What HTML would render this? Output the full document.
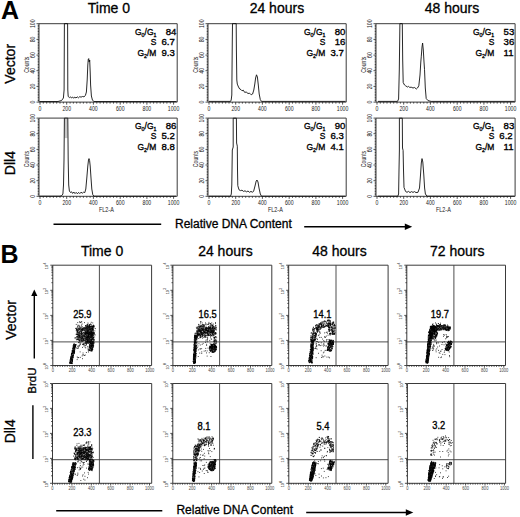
<!DOCTYPE html>
<html><head><meta charset="utf-8"><style>html,body{margin:0;padding:0;background:#fff;}svg{display:block;}</style></head>
<body><svg width="520" height="517" viewBox="0 0 520 517">
<rect width="520" height="517" fill="#fff"/>
<text x="1.0" y="18.8" font-family="Liberation Sans" font-weight="bold" font-size="25">A</text>
<text x="108.9" y="13.4" font-family="Liberation Sans" font-size="14" text-anchor="middle" stroke="#000" stroke-width="0.3">Time 0</text>
<text x="276.9" y="13.4" font-family="Liberation Sans" font-size="14" text-anchor="middle" stroke="#000" stroke-width="0.3">24 hours</text>
<text x="452.0" y="13.4" font-family="Liberation Sans" font-size="14" text-anchor="middle" stroke="#000" stroke-width="0.3">48 hours</text>
<text transform="translate(14.9,63.8) rotate(-90)" x="0" y="0" font-family="Liberation Sans" font-size="14" text-anchor="middle" stroke="#000" stroke-width="0.3">Vector</text>
<text transform="translate(14.9,163.1) rotate(-90)" x="0" y="0" font-family="Liberation Sans" font-size="14" text-anchor="middle" stroke="#000" stroke-width="0.3">Dll4</text>
<path d="M39.0 23.7H177.2V102.1H39.0Z" fill="none" stroke="#3a3a3a" stroke-width="1"/>
<path d="M36.5 102.1H39.0M37.7 100.5H39.0M37.7 99.0H39.0M37.7 97.4H39.0M37.7 95.8H39.0M37.7 94.3H39.0M37.7 92.7H39.0M37.7 91.1H39.0M37.7 89.6H39.0M37.7 88.0H39.0M36.5 86.4H39.0M37.7 84.9H39.0M37.7 83.3H39.0M37.7 81.7H39.0M37.7 80.1H39.0M37.7 78.6H39.0M37.7 77.0H39.0M37.7 75.4H39.0M37.7 73.9H39.0M37.7 72.3H39.0M36.5 70.7H39.0M37.7 69.2H39.0M37.7 67.6H39.0M37.7 66.0H39.0M37.7 64.5H39.0M37.7 62.9H39.0M37.7 61.3H39.0M37.7 59.8H39.0M37.7 58.2H39.0M37.7 56.6H39.0M36.5 55.1H39.0M37.7 53.5H39.0M37.7 51.9H39.0M37.7 50.4H39.0M37.7 48.8H39.0M37.7 47.2H39.0M37.7 45.7H39.0M37.7 44.1H39.0M37.7 42.5H39.0M37.7 40.9H39.0M36.5 39.4H39.0M37.7 37.8H39.0M37.7 36.2H39.0M37.7 34.7H39.0M37.7 33.1H39.0M37.7 31.5H39.0M37.7 30.0H39.0M37.7 28.4H39.0M37.7 26.8H39.0M37.7 25.3H39.0M36.5 23.7H39.0M40.0 102.1V104.6M43.3 102.1V103.6M46.7 102.1V103.6M50.0 102.1V103.6M53.4 102.1V103.6M56.7 102.1V103.6M60.0 102.1V103.6M63.4 102.1V103.6M66.7 102.1V104.6M70.1 102.1V103.6M73.4 102.1V103.6M76.7 102.1V103.6M80.1 102.1V103.6M83.4 102.1V103.6M86.8 102.1V103.6M90.1 102.1V103.6M93.4 102.1V104.6M96.8 102.1V103.6M100.1 102.1V103.6M103.5 102.1V103.6M106.8 102.1V103.6M110.1 102.1V103.6M113.5 102.1V103.6M116.8 102.1V103.6M120.2 102.1V104.6M123.5 102.1V103.6M126.8 102.1V103.6M130.2 102.1V103.6M133.5 102.1V103.6M136.9 102.1V103.6M140.2 102.1V103.6M143.5 102.1V103.6M146.9 102.1V104.6M150.2 102.1V103.6M153.6 102.1V103.6M156.9 102.1V103.6M160.2 102.1V103.6M163.6 102.1V103.6M166.9 102.1V103.6M170.3 102.1V103.6M173.6 102.1V104.6" fill="none" stroke="#222" stroke-width="0.8"/>
<text transform="translate(35.3,102.1) rotate(-90) scale(0.74,1)" font-family="Liberation Sans" fill="#222" font-size="7" text-anchor="middle">0</text>
<text transform="translate(35.3,86.4) rotate(-90) scale(0.74,1)" font-family="Liberation Sans" fill="#222" font-size="7" text-anchor="middle">20</text>
<text transform="translate(35.3,70.7) rotate(-90) scale(0.74,1)" font-family="Liberation Sans" fill="#222" font-size="7" text-anchor="middle">40</text>
<text transform="translate(35.3,55.1) rotate(-90) scale(0.74,1)" font-family="Liberation Sans" fill="#222" font-size="7" text-anchor="middle">60</text>
<text transform="translate(35.3,39.4) rotate(-90) scale(0.74,1)" font-family="Liberation Sans" fill="#222" font-size="7" text-anchor="middle">80</text>
<text transform="translate(35.3,23.7) rotate(-90) scale(0.74,1)" font-family="Liberation Sans" fill="#222" font-size="7" text-anchor="middle">100</text>
<text transform="translate(28.7,64.7) rotate(-90) scale(0.78,1)" font-family="Liberation Sans" fill="#222" text-anchor="middle" font-size="6.6">Counts</text>
<text transform="translate(40.0,110.5) scale(0.74,1)" font-family="Liberation Sans" fill="#222" font-size="7" text-anchor="middle">0</text>
<text transform="translate(66.7,110.5) scale(0.74,1)" font-family="Liberation Sans" fill="#222" font-size="7" text-anchor="middle">200</text>
<text transform="translate(93.4,110.5) scale(0.74,1)" font-family="Liberation Sans" fill="#222" font-size="7" text-anchor="middle">400</text>
<text transform="translate(120.2,110.5) scale(0.74,1)" font-family="Liberation Sans" fill="#222" font-size="7" text-anchor="middle">600</text>
<text transform="translate(146.9,110.5) scale(0.74,1)" font-family="Liberation Sans" fill="#222" font-size="7" text-anchor="middle">800</text>
<text transform="translate(173.6,110.5) scale(0.74,1)" font-family="Liberation Sans" fill="#222" font-size="7" text-anchor="middle">1000</text>
<path d="M39.5 101.5 L58.0 101.5 L61.6 100.5 L63.4 98.0 L64.1 90.0 L64.4 23.6 L67.6 23.6 L67.8 90.0 L68.2 96.5 L69.5 97.6 L70.5 96.8 L71.5 98.0 L72.6 97.0 L73.6 98.2 L74.8 97.2 L76.0 98.0 L77.2 96.8 L78.5 97.8 L79.8 96.6 L81.0 97.2 L82.4 96.5 L84.0 96.8 L85.4 95.5 L86.4 92.0 L87.2 80.0 L87.8 65.0 L88.3 59.0 L88.7 58.6 L89.2 62.0 L89.7 60.0 L90.2 72.0 L90.6 85.0 L91.4 96.0 L92.5 100.3 L94.0 101.5 L176.5 101.5" fill="none" stroke="#111" stroke-width="0.9" stroke-linejoin="round"/>
<text transform="translate(156.4,34.6) scale(0.88,1)" font-family="Liberation Sans" font-size="9.6" stroke="#000" stroke-width="0.35" text-anchor="end">G<tspan font-size="6" dy="2.2">0</tspan><tspan dy="-2.2">/G</tspan><tspan font-size="6" dy="2.2">1</tspan></text>
<text transform="translate(156.4,45.0) scale(0.88,1)" font-family="Liberation Sans" font-size="9.6" stroke="#000" stroke-width="0.35" text-anchor="end">S</text>
<text transform="translate(156.4,55.8) scale(0.88,1)" font-family="Liberation Sans" font-size="9.6" stroke="#000" stroke-width="0.35" text-anchor="end">G<tspan font-size="6" dy="2.2">2</tspan><tspan dy="-2.2">/M</tspan></text>
<text x="165.7" y="34.6" font-family="Liberation Sans" font-size="9.6" stroke="#000" stroke-width="0.35">84</text>
<text x="161.4" y="45.0" font-family="Liberation Sans" font-size="9.6" stroke="#000" stroke-width="0.35">6.7</text>
<text x="161.4" y="55.8" font-family="Liberation Sans" font-size="9.6" stroke="#000" stroke-width="0.35">9.3</text>
<path d="M208.0 23.7H346.2V102.1H208.0Z" fill="none" stroke="#3a3a3a" stroke-width="1"/>
<path d="M205.5 102.1H208.0M206.7 100.5H208.0M206.7 99.0H208.0M206.7 97.4H208.0M206.7 95.8H208.0M206.7 94.3H208.0M206.7 92.7H208.0M206.7 91.1H208.0M206.7 89.6H208.0M206.7 88.0H208.0M205.5 86.4H208.0M206.7 84.9H208.0M206.7 83.3H208.0M206.7 81.7H208.0M206.7 80.1H208.0M206.7 78.6H208.0M206.7 77.0H208.0M206.7 75.4H208.0M206.7 73.9H208.0M206.7 72.3H208.0M205.5 70.7H208.0M206.7 69.2H208.0M206.7 67.6H208.0M206.7 66.0H208.0M206.7 64.5H208.0M206.7 62.9H208.0M206.7 61.3H208.0M206.7 59.8H208.0M206.7 58.2H208.0M206.7 56.6H208.0M205.5 55.1H208.0M206.7 53.5H208.0M206.7 51.9H208.0M206.7 50.4H208.0M206.7 48.8H208.0M206.7 47.2H208.0M206.7 45.7H208.0M206.7 44.1H208.0M206.7 42.5H208.0M206.7 40.9H208.0M205.5 39.4H208.0M206.7 37.8H208.0M206.7 36.2H208.0M206.7 34.7H208.0M206.7 33.1H208.0M206.7 31.5H208.0M206.7 30.0H208.0M206.7 28.4H208.0M206.7 26.8H208.0M206.7 25.3H208.0M205.5 23.7H208.0M209.0 102.1V104.6M212.3 102.1V103.6M215.7 102.1V103.6M219.0 102.1V103.6M222.4 102.1V103.6M225.7 102.1V103.6M229.0 102.1V103.6M232.4 102.1V103.6M235.7 102.1V104.6M239.1 102.1V103.6M242.4 102.1V103.6M245.7 102.1V103.6M249.1 102.1V103.6M252.4 102.1V103.6M255.8 102.1V103.6M259.1 102.1V103.6M262.4 102.1V104.6M265.8 102.1V103.6M269.1 102.1V103.6M272.5 102.1V103.6M275.8 102.1V103.6M279.1 102.1V103.6M282.5 102.1V103.6M285.8 102.1V103.6M289.2 102.1V104.6M292.5 102.1V103.6M295.8 102.1V103.6M299.2 102.1V103.6M302.5 102.1V103.6M305.9 102.1V103.6M309.2 102.1V103.6M312.5 102.1V103.6M315.9 102.1V104.6M319.2 102.1V103.6M322.6 102.1V103.6M325.9 102.1V103.6M329.2 102.1V103.6M332.6 102.1V103.6M335.9 102.1V103.6M339.3 102.1V103.6M342.6 102.1V104.6" fill="none" stroke="#222" stroke-width="0.8"/>
<text transform="translate(204.3,102.1) rotate(-90) scale(0.74,1)" font-family="Liberation Sans" fill="#222" font-size="7" text-anchor="middle">0</text>
<text transform="translate(204.3,86.4) rotate(-90) scale(0.74,1)" font-family="Liberation Sans" fill="#222" font-size="7" text-anchor="middle">20</text>
<text transform="translate(204.3,70.7) rotate(-90) scale(0.74,1)" font-family="Liberation Sans" fill="#222" font-size="7" text-anchor="middle">40</text>
<text transform="translate(204.3,55.1) rotate(-90) scale(0.74,1)" font-family="Liberation Sans" fill="#222" font-size="7" text-anchor="middle">60</text>
<text transform="translate(204.3,39.4) rotate(-90) scale(0.74,1)" font-family="Liberation Sans" fill="#222" font-size="7" text-anchor="middle">80</text>
<text transform="translate(204.3,23.7) rotate(-90) scale(0.74,1)" font-family="Liberation Sans" fill="#222" font-size="7" text-anchor="middle">100</text>
<text transform="translate(197.7,64.7) rotate(-90) scale(0.78,1)" font-family="Liberation Sans" fill="#222" text-anchor="middle" font-size="6.6">Counts</text>
<text transform="translate(209.0,110.5) scale(0.74,1)" font-family="Liberation Sans" fill="#222" font-size="7" text-anchor="middle">0</text>
<text transform="translate(235.7,110.5) scale(0.74,1)" font-family="Liberation Sans" fill="#222" font-size="7" text-anchor="middle">200</text>
<text transform="translate(262.4,110.5) scale(0.74,1)" font-family="Liberation Sans" fill="#222" font-size="7" text-anchor="middle">400</text>
<text transform="translate(289.2,110.5) scale(0.74,1)" font-family="Liberation Sans" fill="#222" font-size="7" text-anchor="middle">600</text>
<text transform="translate(315.9,110.5) scale(0.74,1)" font-family="Liberation Sans" fill="#222" font-size="7" text-anchor="middle">800</text>
<text transform="translate(342.6,110.5) scale(0.74,1)" font-family="Liberation Sans" fill="#222" font-size="7" text-anchor="middle">1000</text>
<path d="M209.0 101.4 L230.5 101.4 L231.2 100.0 L231.8 95.0 L232.3 40.0 L232.5 23.6 L236.2 23.6 L236.4 50.0 L236.8 80.0 L237.3 84.1 L238.5 87.0 L239.7 89.0 L241.0 89.6 L242.0 90.8 L243.3 90.2 L244.7 92.4 L246.2 92.0 L248.0 93.5 L249.6 93.2 L251.2 94.8 L252.6 94.0 L253.8 90.0 L254.8 84.0 L255.6 78.0 L256.5 74.8 L257.4 77.0 L258.3 85.0 L259.2 94.0 L260.3 99.6 L261.5 101.4 L345.5 101.4" fill="none" stroke="#111" stroke-width="0.9" stroke-linejoin="round"/>
<text transform="translate(325.4,34.6) scale(0.88,1)" font-family="Liberation Sans" font-size="9.6" stroke="#000" stroke-width="0.35" text-anchor="end">G<tspan font-size="6" dy="2.2">0</tspan><tspan dy="-2.2">/G</tspan><tspan font-size="6" dy="2.2">1</tspan></text>
<text transform="translate(325.4,45.0) scale(0.88,1)" font-family="Liberation Sans" font-size="9.6" stroke="#000" stroke-width="0.35" text-anchor="end">S</text>
<text transform="translate(325.4,55.8) scale(0.88,1)" font-family="Liberation Sans" font-size="9.6" stroke="#000" stroke-width="0.35" text-anchor="end">G<tspan font-size="6" dy="2.2">2</tspan><tspan dy="-2.2">/M</tspan></text>
<text x="334.7" y="34.6" font-family="Liberation Sans" font-size="9.6" stroke="#000" stroke-width="0.35">80</text>
<text x="334.7" y="45.0" font-family="Liberation Sans" font-size="9.6" stroke="#000" stroke-width="0.35">16</text>
<text x="330.4" y="55.8" font-family="Liberation Sans" font-size="9.6" stroke="#000" stroke-width="0.35">3.7</text>
<path d="M376.0 23.7H515.1V102.1H376.0Z" fill="none" stroke="#3a3a3a" stroke-width="1"/>
<path d="M373.5 102.1H376.0M374.7 100.5H376.0M374.7 99.0H376.0M374.7 97.4H376.0M374.7 95.8H376.0M374.7 94.3H376.0M374.7 92.7H376.0M374.7 91.1H376.0M374.7 89.6H376.0M374.7 88.0H376.0M373.5 86.4H376.0M374.7 84.9H376.0M374.7 83.3H376.0M374.7 81.7H376.0M374.7 80.1H376.0M374.7 78.6H376.0M374.7 77.0H376.0M374.7 75.4H376.0M374.7 73.9H376.0M374.7 72.3H376.0M373.5 70.7H376.0M374.7 69.2H376.0M374.7 67.6H376.0M374.7 66.0H376.0M374.7 64.5H376.0M374.7 62.9H376.0M374.7 61.3H376.0M374.7 59.8H376.0M374.7 58.2H376.0M374.7 56.6H376.0M373.5 55.1H376.0M374.7 53.5H376.0M374.7 51.9H376.0M374.7 50.4H376.0M374.7 48.8H376.0M374.7 47.2H376.0M374.7 45.7H376.0M374.7 44.1H376.0M374.7 42.5H376.0M374.7 40.9H376.0M373.5 39.4H376.0M374.7 37.8H376.0M374.7 36.2H376.0M374.7 34.7H376.0M374.7 33.1H376.0M374.7 31.5H376.0M374.7 30.0H376.0M374.7 28.4H376.0M374.7 26.8H376.0M374.7 25.3H376.0M373.5 23.7H376.0M377.0 102.1V104.6M380.3 102.1V103.6M383.7 102.1V103.6M387.0 102.1V103.6M390.4 102.1V103.6M393.7 102.1V103.6M397.0 102.1V103.6M400.4 102.1V103.6M403.7 102.1V104.6M407.1 102.1V103.6M410.4 102.1V103.6M413.7 102.1V103.6M417.1 102.1V103.6M420.4 102.1V103.6M423.8 102.1V103.6M427.1 102.1V103.6M430.4 102.1V104.6M433.8 102.1V103.6M437.1 102.1V103.6M440.5 102.1V103.6M443.8 102.1V103.6M447.1 102.1V103.6M450.5 102.1V103.6M453.8 102.1V103.6M457.2 102.1V104.6M460.5 102.1V103.6M463.8 102.1V103.6M467.2 102.1V103.6M470.5 102.1V103.6M473.9 102.1V103.6M477.2 102.1V103.6M480.5 102.1V103.6M483.9 102.1V104.6M487.2 102.1V103.6M490.6 102.1V103.6M493.9 102.1V103.6M497.2 102.1V103.6M500.6 102.1V103.6M503.9 102.1V103.6M507.3 102.1V103.6M510.6 102.1V104.6" fill="none" stroke="#222" stroke-width="0.8"/>
<text transform="translate(372.3,102.1) rotate(-90) scale(0.74,1)" font-family="Liberation Sans" fill="#222" font-size="7" text-anchor="middle">0</text>
<text transform="translate(372.3,86.4) rotate(-90) scale(0.74,1)" font-family="Liberation Sans" fill="#222" font-size="7" text-anchor="middle">20</text>
<text transform="translate(372.3,70.7) rotate(-90) scale(0.74,1)" font-family="Liberation Sans" fill="#222" font-size="7" text-anchor="middle">40</text>
<text transform="translate(372.3,55.1) rotate(-90) scale(0.74,1)" font-family="Liberation Sans" fill="#222" font-size="7" text-anchor="middle">60</text>
<text transform="translate(372.3,39.4) rotate(-90) scale(0.74,1)" font-family="Liberation Sans" fill="#222" font-size="7" text-anchor="middle">80</text>
<text transform="translate(372.3,23.7) rotate(-90) scale(0.74,1)" font-family="Liberation Sans" fill="#222" font-size="7" text-anchor="middle">100</text>
<text transform="translate(365.7,64.7) rotate(-90) scale(0.78,1)" font-family="Liberation Sans" fill="#222" text-anchor="middle" font-size="6.6">Counts</text>
<text transform="translate(377.0,110.5) scale(0.74,1)" font-family="Liberation Sans" fill="#222" font-size="7" text-anchor="middle">0</text>
<text transform="translate(403.7,110.5) scale(0.74,1)" font-family="Liberation Sans" fill="#222" font-size="7" text-anchor="middle">200</text>
<text transform="translate(430.4,110.5) scale(0.74,1)" font-family="Liberation Sans" fill="#222" font-size="7" text-anchor="middle">400</text>
<text transform="translate(457.2,110.5) scale(0.74,1)" font-family="Liberation Sans" fill="#222" font-size="7" text-anchor="middle">600</text>
<text transform="translate(483.9,110.5) scale(0.74,1)" font-family="Liberation Sans" fill="#222" font-size="7" text-anchor="middle">800</text>
<text transform="translate(510.6,110.5) scale(0.74,1)" font-family="Liberation Sans" fill="#222" font-size="7" text-anchor="middle">1000</text>
<path d="M378.0 101.4 L397.5 101.4 L398.6 99.0 L399.3 70.0 L399.9 23.6 L402.3 23.6 L402.7 60.0 L403.2 82.5 L404.5 85.0 L405.6 85.8 L407.5 87.0 L408.6 86.4 L409.7 87.4 L411.2 87.2 L413.0 88.0 L414.6 87.5 L416.3 89.0 L417.5 88.0 L418.8 85.8 L420.0 75.0 L420.8 62.0 L421.3 56.2 L422.0 47.0 L422.6 43.0 L423.3 50.0 L424.0 62.0 L424.5 69.3 L425.3 88.0 L426.2 98.5 L428.0 100.6 L431.1 101.4 L514.7 101.4" fill="none" stroke="#111" stroke-width="0.9" stroke-linejoin="round"/>
<text transform="translate(494.3,34.6) scale(0.88,1)" font-family="Liberation Sans" font-size="9.6" stroke="#000" stroke-width="0.35" text-anchor="end">G<tspan font-size="6" dy="2.2">0</tspan><tspan dy="-2.2">/G</tspan><tspan font-size="6" dy="2.2">1</tspan></text>
<text transform="translate(494.3,45.0) scale(0.88,1)" font-family="Liberation Sans" font-size="9.6" stroke="#000" stroke-width="0.35" text-anchor="end">S</text>
<text transform="translate(494.3,55.8) scale(0.88,1)" font-family="Liberation Sans" font-size="9.6" stroke="#000" stroke-width="0.35" text-anchor="end">G<tspan font-size="6" dy="2.2">2</tspan><tspan dy="-2.2">/M</tspan></text>
<text x="503.6" y="34.6" font-family="Liberation Sans" font-size="9.6" stroke="#000" stroke-width="0.35">53</text>
<text x="503.6" y="45.0" font-family="Liberation Sans" font-size="9.6" stroke="#000" stroke-width="0.35">36</text>
<text x="503.6" y="55.8" font-family="Liberation Sans" font-size="9.6" stroke="#000" stroke-width="0.35">11</text>
<path d="M39.0 118.1H177.2V196.3H39.0Z" fill="none" stroke="#3a3a3a" stroke-width="1"/>
<path d="M36.5 196.3H39.0M37.7 194.7H39.0M37.7 193.2H39.0M37.7 191.6H39.0M37.7 190.0H39.0M37.7 188.5H39.0M37.7 186.9H39.0M37.7 185.4H39.0M37.7 183.8H39.0M37.7 182.2H39.0M36.5 180.7H39.0M37.7 179.1H39.0M37.7 177.5H39.0M37.7 176.0H39.0M37.7 174.4H39.0M37.7 172.8H39.0M37.7 171.3H39.0M37.7 169.7H39.0M37.7 168.1H39.0M37.7 166.6H39.0M36.5 165.0H39.0M37.7 163.5H39.0M37.7 161.9H39.0M37.7 160.3H39.0M37.7 158.8H39.0M37.7 157.2H39.0M37.7 155.6H39.0M37.7 154.1H39.0M37.7 152.5H39.0M37.7 150.9H39.0M36.5 149.4H39.0M37.7 147.8H39.0M37.7 146.3H39.0M37.7 144.7H39.0M37.7 143.1H39.0M37.7 141.6H39.0M37.7 140.0H39.0M37.7 138.4H39.0M37.7 136.9H39.0M37.7 135.3H39.0M36.5 133.7H39.0M37.7 132.2H39.0M37.7 130.6H39.0M37.7 129.0H39.0M37.7 127.5H39.0M37.7 125.9H39.0M37.7 124.4H39.0M37.7 122.8H39.0M37.7 121.2H39.0M37.7 119.7H39.0M36.5 118.1H39.0M40.0 196.3V198.8M43.3 196.3V197.8M46.7 196.3V197.8M50.0 196.3V197.8M53.4 196.3V197.8M56.7 196.3V197.8M60.0 196.3V197.8M63.4 196.3V197.8M66.7 196.3V198.8M70.1 196.3V197.8M73.4 196.3V197.8M76.7 196.3V197.8M80.1 196.3V197.8M83.4 196.3V197.8M86.8 196.3V197.8M90.1 196.3V197.8M93.4 196.3V198.8M96.8 196.3V197.8M100.1 196.3V197.8M103.5 196.3V197.8M106.8 196.3V197.8M110.1 196.3V197.8M113.5 196.3V197.8M116.8 196.3V197.8M120.2 196.3V198.8M123.5 196.3V197.8M126.8 196.3V197.8M130.2 196.3V197.8M133.5 196.3V197.8M136.9 196.3V197.8M140.2 196.3V197.8M143.5 196.3V197.8M146.9 196.3V198.8M150.2 196.3V197.8M153.6 196.3V197.8M156.9 196.3V197.8M160.2 196.3V197.8M163.6 196.3V197.8M166.9 196.3V197.8M170.3 196.3V197.8M173.6 196.3V198.8" fill="none" stroke="#222" stroke-width="0.8"/>
<text transform="translate(35.3,196.3) rotate(-90) scale(0.74,1)" font-family="Liberation Sans" fill="#222" font-size="7" text-anchor="middle">0</text>
<text transform="translate(35.3,180.7) rotate(-90) scale(0.74,1)" font-family="Liberation Sans" fill="#222" font-size="7" text-anchor="middle">20</text>
<text transform="translate(35.3,165.0) rotate(-90) scale(0.74,1)" font-family="Liberation Sans" fill="#222" font-size="7" text-anchor="middle">40</text>
<text transform="translate(35.3,149.4) rotate(-90) scale(0.74,1)" font-family="Liberation Sans" fill="#222" font-size="7" text-anchor="middle">60</text>
<text transform="translate(35.3,133.7) rotate(-90) scale(0.74,1)" font-family="Liberation Sans" fill="#222" font-size="7" text-anchor="middle">80</text>
<text transform="translate(35.3,118.1) rotate(-90) scale(0.74,1)" font-family="Liberation Sans" fill="#222" font-size="7" text-anchor="middle">100</text>
<text transform="translate(28.7,159.0) rotate(-90) scale(0.78,1)" font-family="Liberation Sans" fill="#222" text-anchor="middle" font-size="6.6">Counts</text>
<text transform="translate(40.0,204.7) scale(0.74,1)" font-family="Liberation Sans" fill="#222" font-size="7" text-anchor="middle">0</text>
<text transform="translate(66.7,204.7) scale(0.74,1)" font-family="Liberation Sans" fill="#222" font-size="7" text-anchor="middle">200</text>
<text transform="translate(93.4,204.7) scale(0.74,1)" font-family="Liberation Sans" fill="#222" font-size="7" text-anchor="middle">400</text>
<text transform="translate(120.2,204.7) scale(0.74,1)" font-family="Liberation Sans" fill="#222" font-size="7" text-anchor="middle">600</text>
<text transform="translate(146.9,204.7) scale(0.74,1)" font-family="Liberation Sans" fill="#222" font-size="7" text-anchor="middle">800</text>
<text transform="translate(173.6,204.7) scale(0.74,1)" font-family="Liberation Sans" fill="#222" font-size="7" text-anchor="middle">1000</text>
<text transform="translate(106.4,211.8) scale(0.8,1)" font-family="Liberation Sans" fill="#222" font-size="6.8" text-anchor="middle">FL2-A</text>
<rect x="64.6" y="118.1" width="3" height="20" fill="#c8c8c8"/>
<path d="M39.5 196.2 L60.0 196.2 L61.8 195.6 L62.9 194.0 L63.5 185.0 L64.0 160.0 L64.4 118.2 L67.8 118.2 L68.2 160.0 L68.7 185.0 L69.4 191.0 L70.5 192.5 L71.6 191.8 L72.6 193.4 L73.8 192.0 L75.0 193.6 L76.2 192.4 L77.4 193.8 L78.6 192.4 L79.8 193.6 L81.0 192.2 L82.3 193.2 L83.6 192.2 L84.8 192.6 L85.8 189.0 L86.8 178.0 L87.8 166.0 L88.5 160.0 L89.0 158.6 L89.6 160.5 L90.2 166.0 L91.0 178.0 L91.8 189.0 L92.8 194.8 L94.0 196.2 L176.0 196.2" fill="none" stroke="#111" stroke-width="0.9" stroke-linejoin="round"/>
<text transform="translate(156.4,129.0) scale(0.88,1)" font-family="Liberation Sans" font-size="9.6" stroke="#000" stroke-width="0.35" text-anchor="end">G<tspan font-size="6" dy="2.2">0</tspan><tspan dy="-2.2">/G</tspan><tspan font-size="6" dy="2.2">1</tspan></text>
<text transform="translate(156.4,139.4) scale(0.88,1)" font-family="Liberation Sans" font-size="9.6" stroke="#000" stroke-width="0.35" text-anchor="end">S</text>
<text transform="translate(156.4,150.2) scale(0.88,1)" font-family="Liberation Sans" font-size="9.6" stroke="#000" stroke-width="0.35" text-anchor="end">G<tspan font-size="6" dy="2.2">2</tspan><tspan dy="-2.2">/M</tspan></text>
<text x="165.7" y="129.0" font-family="Liberation Sans" font-size="9.6" stroke="#000" stroke-width="0.35">86</text>
<text x="161.4" y="139.4" font-family="Liberation Sans" font-size="9.6" stroke="#000" stroke-width="0.35">5.2</text>
<text x="161.4" y="150.2" font-family="Liberation Sans" font-size="9.6" stroke="#000" stroke-width="0.35">8.8</text>
<path d="M208.0 118.1H346.2V196.3H208.0Z" fill="none" stroke="#3a3a3a" stroke-width="1"/>
<path d="M205.5 196.3H208.0M206.7 194.7H208.0M206.7 193.2H208.0M206.7 191.6H208.0M206.7 190.0H208.0M206.7 188.5H208.0M206.7 186.9H208.0M206.7 185.4H208.0M206.7 183.8H208.0M206.7 182.2H208.0M205.5 180.7H208.0M206.7 179.1H208.0M206.7 177.5H208.0M206.7 176.0H208.0M206.7 174.4H208.0M206.7 172.8H208.0M206.7 171.3H208.0M206.7 169.7H208.0M206.7 168.1H208.0M206.7 166.6H208.0M205.5 165.0H208.0M206.7 163.5H208.0M206.7 161.9H208.0M206.7 160.3H208.0M206.7 158.8H208.0M206.7 157.2H208.0M206.7 155.6H208.0M206.7 154.1H208.0M206.7 152.5H208.0M206.7 150.9H208.0M205.5 149.4H208.0M206.7 147.8H208.0M206.7 146.3H208.0M206.7 144.7H208.0M206.7 143.1H208.0M206.7 141.6H208.0M206.7 140.0H208.0M206.7 138.4H208.0M206.7 136.9H208.0M206.7 135.3H208.0M205.5 133.7H208.0M206.7 132.2H208.0M206.7 130.6H208.0M206.7 129.0H208.0M206.7 127.5H208.0M206.7 125.9H208.0M206.7 124.4H208.0M206.7 122.8H208.0M206.7 121.2H208.0M206.7 119.7H208.0M205.5 118.1H208.0M209.0 196.3V198.8M212.3 196.3V197.8M215.7 196.3V197.8M219.0 196.3V197.8M222.4 196.3V197.8M225.7 196.3V197.8M229.0 196.3V197.8M232.4 196.3V197.8M235.7 196.3V198.8M239.1 196.3V197.8M242.4 196.3V197.8M245.7 196.3V197.8M249.1 196.3V197.8M252.4 196.3V197.8M255.8 196.3V197.8M259.1 196.3V197.8M262.4 196.3V198.8M265.8 196.3V197.8M269.1 196.3V197.8M272.5 196.3V197.8M275.8 196.3V197.8M279.1 196.3V197.8M282.5 196.3V197.8M285.8 196.3V197.8M289.2 196.3V198.8M292.5 196.3V197.8M295.8 196.3V197.8M299.2 196.3V197.8M302.5 196.3V197.8M305.9 196.3V197.8M309.2 196.3V197.8M312.5 196.3V197.8M315.9 196.3V198.8M319.2 196.3V197.8M322.6 196.3V197.8M325.9 196.3V197.8M329.2 196.3V197.8M332.6 196.3V197.8M335.9 196.3V197.8M339.3 196.3V197.8M342.6 196.3V198.8" fill="none" stroke="#222" stroke-width="0.8"/>
<text transform="translate(204.3,196.3) rotate(-90) scale(0.74,1)" font-family="Liberation Sans" fill="#222" font-size="7" text-anchor="middle">0</text>
<text transform="translate(204.3,180.7) rotate(-90) scale(0.74,1)" font-family="Liberation Sans" fill="#222" font-size="7" text-anchor="middle">20</text>
<text transform="translate(204.3,165.0) rotate(-90) scale(0.74,1)" font-family="Liberation Sans" fill="#222" font-size="7" text-anchor="middle">40</text>
<text transform="translate(204.3,149.4) rotate(-90) scale(0.74,1)" font-family="Liberation Sans" fill="#222" font-size="7" text-anchor="middle">60</text>
<text transform="translate(204.3,133.7) rotate(-90) scale(0.74,1)" font-family="Liberation Sans" fill="#222" font-size="7" text-anchor="middle">80</text>
<text transform="translate(204.3,118.1) rotate(-90) scale(0.74,1)" font-family="Liberation Sans" fill="#222" font-size="7" text-anchor="middle">100</text>
<text transform="translate(197.7,159.0) rotate(-90) scale(0.78,1)" font-family="Liberation Sans" fill="#222" text-anchor="middle" font-size="6.6">Counts</text>
<text transform="translate(209.0,204.7) scale(0.74,1)" font-family="Liberation Sans" fill="#222" font-size="7" text-anchor="middle">0</text>
<text transform="translate(235.7,204.7) scale(0.74,1)" font-family="Liberation Sans" fill="#222" font-size="7" text-anchor="middle">200</text>
<text transform="translate(262.4,204.7) scale(0.74,1)" font-family="Liberation Sans" fill="#222" font-size="7" text-anchor="middle">400</text>
<text transform="translate(289.2,204.7) scale(0.74,1)" font-family="Liberation Sans" fill="#222" font-size="7" text-anchor="middle">600</text>
<text transform="translate(315.9,204.7) scale(0.74,1)" font-family="Liberation Sans" fill="#222" font-size="7" text-anchor="middle">800</text>
<text transform="translate(342.6,204.7) scale(0.74,1)" font-family="Liberation Sans" fill="#222" font-size="7" text-anchor="middle">1000</text>
<text transform="translate(275.4,211.8) scale(0.8,1)" font-family="Liberation Sans" fill="#222" font-size="6.8" text-anchor="middle">FL2-A</text>
<path d="M209.0 196.2 L230.5 196.2 L231.3 194.0 L231.8 185.0 L232.3 150.0 L233.2 147.0 L233.2 118.2 L236.4 118.2 L236.6 143.0 L237.3 146.2 L237.5 170.0 L237.8 185.7 L239.0 189.8 L240.5 190.6 L242.0 190.2 L243.5 191.4 L245.0 190.8 L246.5 191.8 L248.0 191.0 L249.5 192.3 L251.0 191.4 L252.5 192.3 L253.7 191.0 L255.0 186.0 L256.2 181.0 L257.0 180.0 L258.0 182.0 L259.0 188.0 L260.3 194.0 L261.5 196.2 L345.5 196.2" fill="none" stroke="#111" stroke-width="0.9" stroke-linejoin="round"/>
<text transform="translate(325.4,129.0) scale(0.88,1)" font-family="Liberation Sans" font-size="9.6" stroke="#000" stroke-width="0.35" text-anchor="end">G<tspan font-size="6" dy="2.2">0</tspan><tspan dy="-2.2">/G</tspan><tspan font-size="6" dy="2.2">1</tspan></text>
<text transform="translate(325.4,139.4) scale(0.88,1)" font-family="Liberation Sans" font-size="9.6" stroke="#000" stroke-width="0.35" text-anchor="end">S</text>
<text transform="translate(325.4,150.2) scale(0.88,1)" font-family="Liberation Sans" font-size="9.6" stroke="#000" stroke-width="0.35" text-anchor="end">G<tspan font-size="6" dy="2.2">2</tspan><tspan dy="-2.2">/M</tspan></text>
<text x="334.7" y="129.0" font-family="Liberation Sans" font-size="9.6" stroke="#000" stroke-width="0.35">90</text>
<text x="330.4" y="139.4" font-family="Liberation Sans" font-size="9.6" stroke="#000" stroke-width="0.35">6.3</text>
<text x="330.4" y="150.2" font-family="Liberation Sans" font-size="9.6" stroke="#000" stroke-width="0.35">4.1</text>
<path d="M376.0 118.1H515.1V196.3H376.0Z" fill="none" stroke="#3a3a3a" stroke-width="1"/>
<path d="M373.5 196.3H376.0M374.7 194.7H376.0M374.7 193.2H376.0M374.7 191.6H376.0M374.7 190.0H376.0M374.7 188.5H376.0M374.7 186.9H376.0M374.7 185.4H376.0M374.7 183.8H376.0M374.7 182.2H376.0M373.5 180.7H376.0M374.7 179.1H376.0M374.7 177.5H376.0M374.7 176.0H376.0M374.7 174.4H376.0M374.7 172.8H376.0M374.7 171.3H376.0M374.7 169.7H376.0M374.7 168.1H376.0M374.7 166.6H376.0M373.5 165.0H376.0M374.7 163.5H376.0M374.7 161.9H376.0M374.7 160.3H376.0M374.7 158.8H376.0M374.7 157.2H376.0M374.7 155.6H376.0M374.7 154.1H376.0M374.7 152.5H376.0M374.7 150.9H376.0M373.5 149.4H376.0M374.7 147.8H376.0M374.7 146.3H376.0M374.7 144.7H376.0M374.7 143.1H376.0M374.7 141.6H376.0M374.7 140.0H376.0M374.7 138.4H376.0M374.7 136.9H376.0M374.7 135.3H376.0M373.5 133.7H376.0M374.7 132.2H376.0M374.7 130.6H376.0M374.7 129.0H376.0M374.7 127.5H376.0M374.7 125.9H376.0M374.7 124.4H376.0M374.7 122.8H376.0M374.7 121.2H376.0M374.7 119.7H376.0M373.5 118.1H376.0M377.0 196.3V198.8M380.3 196.3V197.8M383.7 196.3V197.8M387.0 196.3V197.8M390.4 196.3V197.8M393.7 196.3V197.8M397.0 196.3V197.8M400.4 196.3V197.8M403.7 196.3V198.8M407.1 196.3V197.8M410.4 196.3V197.8M413.7 196.3V197.8M417.1 196.3V197.8M420.4 196.3V197.8M423.8 196.3V197.8M427.1 196.3V197.8M430.4 196.3V198.8M433.8 196.3V197.8M437.1 196.3V197.8M440.5 196.3V197.8M443.8 196.3V197.8M447.1 196.3V197.8M450.5 196.3V197.8M453.8 196.3V197.8M457.2 196.3V198.8M460.5 196.3V197.8M463.8 196.3V197.8M467.2 196.3V197.8M470.5 196.3V197.8M473.9 196.3V197.8M477.2 196.3V197.8M480.5 196.3V197.8M483.9 196.3V198.8M487.2 196.3V197.8M490.6 196.3V197.8M493.9 196.3V197.8M497.2 196.3V197.8M500.6 196.3V197.8M503.9 196.3V197.8M507.3 196.3V197.8M510.6 196.3V198.8" fill="none" stroke="#222" stroke-width="0.8"/>
<text transform="translate(372.3,196.3) rotate(-90) scale(0.74,1)" font-family="Liberation Sans" fill="#222" font-size="7" text-anchor="middle">0</text>
<text transform="translate(372.3,180.7) rotate(-90) scale(0.74,1)" font-family="Liberation Sans" fill="#222" font-size="7" text-anchor="middle">20</text>
<text transform="translate(372.3,165.0) rotate(-90) scale(0.74,1)" font-family="Liberation Sans" fill="#222" font-size="7" text-anchor="middle">40</text>
<text transform="translate(372.3,149.4) rotate(-90) scale(0.74,1)" font-family="Liberation Sans" fill="#222" font-size="7" text-anchor="middle">60</text>
<text transform="translate(372.3,133.7) rotate(-90) scale(0.74,1)" font-family="Liberation Sans" fill="#222" font-size="7" text-anchor="middle">80</text>
<text transform="translate(372.3,118.1) rotate(-90) scale(0.74,1)" font-family="Liberation Sans" fill="#222" font-size="7" text-anchor="middle">100</text>
<text transform="translate(365.7,159.0) rotate(-90) scale(0.78,1)" font-family="Liberation Sans" fill="#222" text-anchor="middle" font-size="6.6">Counts</text>
<text transform="translate(377.0,204.7) scale(0.74,1)" font-family="Liberation Sans" fill="#222" font-size="7" text-anchor="middle">0</text>
<text transform="translate(403.7,204.7) scale(0.74,1)" font-family="Liberation Sans" fill="#222" font-size="7" text-anchor="middle">200</text>
<text transform="translate(430.4,204.7) scale(0.74,1)" font-family="Liberation Sans" fill="#222" font-size="7" text-anchor="middle">400</text>
<text transform="translate(457.2,204.7) scale(0.74,1)" font-family="Liberation Sans" fill="#222" font-size="7" text-anchor="middle">600</text>
<text transform="translate(483.9,204.7) scale(0.74,1)" font-family="Liberation Sans" fill="#222" font-size="7" text-anchor="middle">800</text>
<text transform="translate(510.6,204.7) scale(0.74,1)" font-family="Liberation Sans" fill="#222" font-size="7" text-anchor="middle">1000</text>
<text transform="translate(443.4,211.8) scale(0.8,1)" font-family="Liberation Sans" fill="#222" font-size="6.8" text-anchor="middle">FL2-A</text>
<path d="M378.0 196.2 L397.8 196.2 L398.6 194.0 L399.0 170.0 L399.4 150.0 L399.4 118.2 L402.3 118.2 L402.5 148.0 L403.1 150.4 L403.5 170.0 L404.0 187.4 L405.6 191.5 L407.0 192.3 L408.5 191.4 L410.0 192.6 L411.5 191.6 L413.0 192.4 L414.5 191.6 L416.0 192.6 L418.0 192.3 L419.5 188.0 L420.5 175.0 L421.3 163.0 L422.0 158.6 L422.8 162.0 L423.8 175.0 L424.6 188.0 L425.4 194.0 L427.0 196.2 L514.7 196.2" fill="none" stroke="#111" stroke-width="0.9" stroke-linejoin="round"/>
<text transform="translate(494.3,129.0) scale(0.88,1)" font-family="Liberation Sans" font-size="9.6" stroke="#000" stroke-width="0.35" text-anchor="end">G<tspan font-size="6" dy="2.2">0</tspan><tspan dy="-2.2">/G</tspan><tspan font-size="6" dy="2.2">1</tspan></text>
<text transform="translate(494.3,139.4) scale(0.88,1)" font-family="Liberation Sans" font-size="9.6" stroke="#000" stroke-width="0.35" text-anchor="end">S</text>
<text transform="translate(494.3,150.2) scale(0.88,1)" font-family="Liberation Sans" font-size="9.6" stroke="#000" stroke-width="0.35" text-anchor="end">G<tspan font-size="6" dy="2.2">2</tspan><tspan dy="-2.2">/M</tspan></text>
<text x="503.6" y="129.0" font-family="Liberation Sans" font-size="9.6" stroke="#000" stroke-width="0.35">83</text>
<text x="499.3" y="139.4" font-family="Liberation Sans" font-size="9.6" stroke="#000" stroke-width="0.35">6.2</text>
<text x="503.6" y="150.2" font-family="Liberation Sans" font-size="9.6" stroke="#000" stroke-width="0.35">11</text>
<path d="M53.5 224.2H161.2" stroke="#000" stroke-width="1.4"/>
<text x="175" y="228.3" font-family="Liberation Sans" font-size="12" stroke="#000" stroke-width="0.3">Relative DNA Content</text>
<path d="M304.2 226.8H407" stroke="#000" stroke-width="1.4"/>
<path d="M412.2 226.8L404.8 223.6V230Z" fill="#000"/>
<text x="0.4" y="262.9" font-family="Liberation Sans" font-weight="bold" font-size="25">B</text>
<text x="102.1" y="256.4" font-family="Liberation Sans" font-size="14" text-anchor="middle" stroke="#000" stroke-width="0.3">Time 0</text>
<text x="225.4" y="256.4" font-family="Liberation Sans" font-size="14" text-anchor="middle" stroke="#000" stroke-width="0.3">24 hours</text>
<text x="339.5" y="256.4" font-family="Liberation Sans" font-size="14" text-anchor="middle" stroke="#000" stroke-width="0.3">48 hours</text>
<text x="457.2" y="256.4" font-family="Liberation Sans" font-size="14" text-anchor="middle" stroke="#000" stroke-width="0.3">72 hours</text>
<text transform="translate(16.0,320.0) rotate(-90)" x="0" y="0" font-family="Liberation Sans" font-size="14" text-anchor="middle" stroke="#000" stroke-width="0.3">Vector</text>
<text transform="translate(14.8,431.3) rotate(-90)" x="0" y="0" font-family="Liberation Sans" font-size="14" text-anchor="middle" stroke="#000" stroke-width="0.3">Dll4</text>
<path d="M34.3 358.4V294" stroke="#000" stroke-width="1.4"/>
<path d="M34.3 289.4L31.2 296H37.4Z" fill="#000"/>
<path d="M32.9 405.3V459" stroke="#000" stroke-width="1.4"/>
<text transform="translate(36.2,380.6) rotate(-90)" x="0" y="0" font-family="Liberation Sans" font-size="11.5" text-anchor="middle" stroke="#000" stroke-width="0.3">BrdU</text>
<path d="M52.8 265.2H151.6V365.5H52.8Z" fill="none" stroke="#3a3a3a" stroke-width="1"/>
<path d="M99.4 265.2V365.5M52.8 341.9H151.6" fill="none" stroke="#3a3a3a" stroke-width="0.9"/>
<path d="M50.3 365.5H52.8M51.4 358.0H52.8M51.4 353.5H52.8M51.4 350.4H52.8M51.4 348.0H52.8M51.4 346.0H52.8M51.4 344.3H52.8M51.4 342.9H52.8M51.4 341.6H52.8M50.3 340.4H52.8M51.4 332.9H52.8M51.4 328.5H52.8M51.4 325.3H52.8M51.4 322.9H52.8M51.4 320.9H52.8M51.4 319.2H52.8M51.4 317.8H52.8M51.4 316.5H52.8M50.3 315.4H52.8M51.4 307.8H52.8M51.4 303.4H52.8M51.4 300.3H52.8M51.4 297.8H52.8M51.4 295.8H52.8M51.4 294.2H52.8M51.4 292.7H52.8M51.4 291.4H52.8M50.3 290.3H52.8M51.4 282.7H52.8M51.4 278.3H52.8M51.4 275.2H52.8M51.4 272.7H52.8M51.4 270.8H52.8M51.4 269.1H52.8M51.4 267.6H52.8M51.4 266.3H52.8M50.3 265.2H52.8M52.8 365.5V367.7M55.2 365.5V366.8M57.6 365.5V366.8M60.1 365.5V366.8M62.5 365.5V366.8M64.9 365.5V366.8M67.3 365.5V366.8M69.8 365.5V366.8M72.2 365.5V367.7M74.6 365.5V366.8M77.0 365.5V366.8M79.5 365.5V366.8M81.9 365.5V366.8M84.3 365.5V366.8M86.8 365.5V366.8M89.2 365.5V366.8M91.6 365.5V367.7M94.0 365.5V366.8M96.5 365.5V366.8M98.9 365.5V366.8M101.3 365.5V366.8M103.7 365.5V366.8M106.2 365.5V366.8M108.6 365.5V366.8M111.0 365.5V367.7M113.4 365.5V366.8M115.9 365.5V366.8M118.3 365.5V366.8M120.7 365.5V366.8M123.1 365.5V366.8M125.6 365.5V366.8M128.0 365.5V366.8M130.4 365.5V367.7M132.8 365.5V366.8M135.2 365.5V366.8M137.7 365.5V366.8M140.1 365.5V366.8M142.5 365.5V366.8M144.9 365.5V366.8M147.4 365.5V366.8M149.8 365.5V367.7" fill="none" stroke="#222" stroke-width="0.8"/>
<text transform="translate(48.4,365.3) rotate(-90)" font-family="Liberation Sans" font-size="3.8" text-anchor="end" fill="#222">10</text>
<text transform="translate(45.9,364.9) rotate(-90)" font-family="Liberation Sans" font-size="3.2" fill="#222">0</text>
<text transform="translate(48.4,340.2) rotate(-90)" font-family="Liberation Sans" font-size="3.8" text-anchor="end" fill="#222">10</text>
<text transform="translate(45.9,339.8) rotate(-90)" font-family="Liberation Sans" font-size="3.2" fill="#222">1</text>
<text transform="translate(48.4,315.2) rotate(-90)" font-family="Liberation Sans" font-size="3.8" text-anchor="end" fill="#222">10</text>
<text transform="translate(45.9,314.8) rotate(-90)" font-family="Liberation Sans" font-size="3.2" fill="#222">2</text>
<text transform="translate(48.4,290.1) rotate(-90)" font-family="Liberation Sans" font-size="3.8" text-anchor="end" fill="#222">10</text>
<text transform="translate(45.9,289.7) rotate(-90)" font-family="Liberation Sans" font-size="3.2" fill="#222">3</text>
<text transform="translate(48.4,265.0) rotate(-90)" font-family="Liberation Sans" font-size="3.8" text-anchor="end" fill="#222">10</text>
<text transform="translate(45.9,264.6) rotate(-90)" font-family="Liberation Sans" font-size="3.2" fill="#222">4</text>
<text transform="translate(52.8,372.1) scale(0.74,1)" font-family="Liberation Sans" fill="#444" font-size="5.5" text-anchor="middle">0</text>
<text transform="translate(72.2,372.1) scale(0.74,1)" font-family="Liberation Sans" fill="#444" font-size="5.5" text-anchor="middle">200</text>
<text transform="translate(91.6,372.1) scale(0.74,1)" font-family="Liberation Sans" fill="#444" font-size="5.5" text-anchor="middle">400</text>
<text transform="translate(111.0,372.1) scale(0.74,1)" font-family="Liberation Sans" fill="#444" font-size="5.5" text-anchor="middle">600</text>
<text transform="translate(130.4,372.1) scale(0.74,1)" font-family="Liberation Sans" fill="#444" font-size="5.5" text-anchor="middle">800</text>
<text transform="translate(149.8,372.1) scale(0.74,1)" font-family="Liberation Sans" fill="#444" font-size="5.5" text-anchor="middle">1000</text>
<text transform="translate(73.3,317.9) scale(0.93,1)" font-family="Liberation Sans" font-size="10" stroke="#000" stroke-width="0.35">25.9</text>
<path d="M172.9 265.2H271.8V365.5H172.9Z" fill="none" stroke="#3a3a3a" stroke-width="1"/>
<path d="M219.6 265.2V365.5M172.9 341.9H271.8" fill="none" stroke="#3a3a3a" stroke-width="0.9"/>
<path d="M170.4 365.5H172.9M171.5 358.0H172.9M171.5 353.5H172.9M171.5 350.4H172.9M171.5 348.0H172.9M171.5 346.0H172.9M171.5 344.3H172.9M171.5 342.9H172.9M171.5 341.6H172.9M170.4 340.4H172.9M171.5 332.9H172.9M171.5 328.5H172.9M171.5 325.3H172.9M171.5 322.9H172.9M171.5 320.9H172.9M171.5 319.2H172.9M171.5 317.8H172.9M171.5 316.5H172.9M170.4 315.4H172.9M171.5 307.8H172.9M171.5 303.4H172.9M171.5 300.3H172.9M171.5 297.8H172.9M171.5 295.8H172.9M171.5 294.2H172.9M171.5 292.7H172.9M171.5 291.4H172.9M170.4 290.3H172.9M171.5 282.7H172.9M171.5 278.3H172.9M171.5 275.2H172.9M171.5 272.7H172.9M171.5 270.8H172.9M171.5 269.1H172.9M171.5 267.6H172.9M171.5 266.3H172.9M170.4 265.2H172.9M172.9 365.5V367.7M175.3 365.5V366.8M177.8 365.5V366.8M180.2 365.5V366.8M182.6 365.5V366.8M185.0 365.5V366.8M187.4 365.5V366.8M189.9 365.5V366.8M192.3 365.5V367.7M194.7 365.5V366.8M197.2 365.5V366.8M199.6 365.5V366.8M202.0 365.5V366.8M204.4 365.5V366.8M206.8 365.5V366.8M209.3 365.5V366.8M211.7 365.5V367.7M214.1 365.5V366.8M216.6 365.5V366.8M219.0 365.5V366.8M221.4 365.5V366.8M223.8 365.5V366.8M226.2 365.5V366.8M228.7 365.5V366.8M231.1 365.5V367.7M233.5 365.5V366.8M235.9 365.5V366.8M238.4 365.5V366.8M240.8 365.5V366.8M243.2 365.5V366.8M245.6 365.5V366.8M248.1 365.5V366.8M250.5 365.5V367.7M252.9 365.5V366.8M255.3 365.5V366.8M257.8 365.5V366.8M260.2 365.5V366.8M262.6 365.5V366.8M265.0 365.5V366.8M267.5 365.5V366.8M269.9 365.5V367.7" fill="none" stroke="#222" stroke-width="0.8"/>
<text transform="translate(168.5,365.3) rotate(-90)" font-family="Liberation Sans" font-size="3.8" text-anchor="end" fill="#222">10</text>
<text transform="translate(166.0,364.9) rotate(-90)" font-family="Liberation Sans" font-size="3.2" fill="#222">0</text>
<text transform="translate(168.5,340.2) rotate(-90)" font-family="Liberation Sans" font-size="3.8" text-anchor="end" fill="#222">10</text>
<text transform="translate(166.0,339.8) rotate(-90)" font-family="Liberation Sans" font-size="3.2" fill="#222">1</text>
<text transform="translate(168.5,315.2) rotate(-90)" font-family="Liberation Sans" font-size="3.8" text-anchor="end" fill="#222">10</text>
<text transform="translate(166.0,314.8) rotate(-90)" font-family="Liberation Sans" font-size="3.2" fill="#222">2</text>
<text transform="translate(168.5,290.1) rotate(-90)" font-family="Liberation Sans" font-size="3.8" text-anchor="end" fill="#222">10</text>
<text transform="translate(166.0,289.7) rotate(-90)" font-family="Liberation Sans" font-size="3.2" fill="#222">3</text>
<text transform="translate(168.5,265.0) rotate(-90)" font-family="Liberation Sans" font-size="3.8" text-anchor="end" fill="#222">10</text>
<text transform="translate(166.0,264.6) rotate(-90)" font-family="Liberation Sans" font-size="3.2" fill="#222">4</text>
<text transform="translate(172.9,372.1) scale(0.74,1)" font-family="Liberation Sans" fill="#444" font-size="5.5" text-anchor="middle">0</text>
<text transform="translate(192.3,372.1) scale(0.74,1)" font-family="Liberation Sans" fill="#444" font-size="5.5" text-anchor="middle">200</text>
<text transform="translate(211.7,372.1) scale(0.74,1)" font-family="Liberation Sans" fill="#444" font-size="5.5" text-anchor="middle">400</text>
<text transform="translate(231.1,372.1) scale(0.74,1)" font-family="Liberation Sans" fill="#444" font-size="5.5" text-anchor="middle">600</text>
<text transform="translate(250.5,372.1) scale(0.74,1)" font-family="Liberation Sans" fill="#444" font-size="5.5" text-anchor="middle">800</text>
<text transform="translate(269.9,372.1) scale(0.74,1)" font-family="Liberation Sans" fill="#444" font-size="5.5" text-anchor="middle">1000</text>
<text transform="translate(198.6,317.9) scale(0.93,1)" font-family="Liberation Sans" font-size="10" stroke="#000" stroke-width="0.35">16.5</text>
<path d="M288.7 265.2H388.1V365.5H288.7Z" fill="none" stroke="#3a3a3a" stroke-width="1"/>
<path d="M336.0 265.2V365.5M288.7 341.9H388.1" fill="none" stroke="#3a3a3a" stroke-width="0.9"/>
<path d="M286.2 365.5H288.7M287.3 358.0H288.7M287.3 353.5H288.7M287.3 350.4H288.7M287.3 348.0H288.7M287.3 346.0H288.7M287.3 344.3H288.7M287.3 342.9H288.7M287.3 341.6H288.7M286.2 340.4H288.7M287.3 332.9H288.7M287.3 328.5H288.7M287.3 325.3H288.7M287.3 322.9H288.7M287.3 320.9H288.7M287.3 319.2H288.7M287.3 317.8H288.7M287.3 316.5H288.7M286.2 315.4H288.7M287.3 307.8H288.7M287.3 303.4H288.7M287.3 300.3H288.7M287.3 297.8H288.7M287.3 295.8H288.7M287.3 294.2H288.7M287.3 292.7H288.7M287.3 291.4H288.7M286.2 290.3H288.7M287.3 282.7H288.7M287.3 278.3H288.7M287.3 275.2H288.7M287.3 272.7H288.7M287.3 270.8H288.7M287.3 269.1H288.7M287.3 267.6H288.7M287.3 266.3H288.7M286.2 265.2H288.7M288.7 365.5V367.7M291.1 365.5V366.8M293.6 365.5V366.8M296.0 365.5V366.8M298.4 365.5V366.8M300.8 365.5V366.8M303.2 365.5V366.8M305.7 365.5V366.8M308.1 365.5V367.7M310.5 365.5V366.8M312.9 365.5V366.8M315.4 365.5V366.8M317.8 365.5V366.8M320.2 365.5V366.8M322.6 365.5V366.8M325.1 365.5V366.8M327.5 365.5V367.7M329.9 365.5V366.8M332.3 365.5V366.8M334.8 365.5V366.8M337.2 365.5V366.8M339.6 365.5V366.8M342.1 365.5V366.8M344.5 365.5V366.8M346.9 365.5V367.7M349.3 365.5V366.8M351.8 365.5V366.8M354.2 365.5V366.8M356.6 365.5V366.8M359.0 365.5V366.8M361.4 365.5V366.8M363.9 365.5V366.8M366.3 365.5V367.7M368.7 365.5V366.8M371.1 365.5V366.8M373.6 365.5V366.8M376.0 365.5V366.8M378.4 365.5V366.8M380.9 365.5V366.8M383.3 365.5V366.8M385.7 365.5V367.7" fill="none" stroke="#222" stroke-width="0.8"/>
<text transform="translate(284.3,365.3) rotate(-90)" font-family="Liberation Sans" font-size="3.8" text-anchor="end" fill="#222">10</text>
<text transform="translate(281.8,364.9) rotate(-90)" font-family="Liberation Sans" font-size="3.2" fill="#222">0</text>
<text transform="translate(284.3,340.2) rotate(-90)" font-family="Liberation Sans" font-size="3.8" text-anchor="end" fill="#222">10</text>
<text transform="translate(281.8,339.8) rotate(-90)" font-family="Liberation Sans" font-size="3.2" fill="#222">1</text>
<text transform="translate(284.3,315.2) rotate(-90)" font-family="Liberation Sans" font-size="3.8" text-anchor="end" fill="#222">10</text>
<text transform="translate(281.8,314.8) rotate(-90)" font-family="Liberation Sans" font-size="3.2" fill="#222">2</text>
<text transform="translate(284.3,290.1) rotate(-90)" font-family="Liberation Sans" font-size="3.8" text-anchor="end" fill="#222">10</text>
<text transform="translate(281.8,289.7) rotate(-90)" font-family="Liberation Sans" font-size="3.2" fill="#222">3</text>
<text transform="translate(284.3,265.0) rotate(-90)" font-family="Liberation Sans" font-size="3.8" text-anchor="end" fill="#222">10</text>
<text transform="translate(281.8,264.6) rotate(-90)" font-family="Liberation Sans" font-size="3.2" fill="#222">4</text>
<text transform="translate(288.7,372.1) scale(0.74,1)" font-family="Liberation Sans" fill="#444" font-size="5.5" text-anchor="middle">0</text>
<text transform="translate(308.1,372.1) scale(0.74,1)" font-family="Liberation Sans" fill="#444" font-size="5.5" text-anchor="middle">200</text>
<text transform="translate(327.5,372.1) scale(0.74,1)" font-family="Liberation Sans" fill="#444" font-size="5.5" text-anchor="middle">400</text>
<text transform="translate(346.9,372.1) scale(0.74,1)" font-family="Liberation Sans" fill="#444" font-size="5.5" text-anchor="middle">600</text>
<text transform="translate(366.3,372.1) scale(0.74,1)" font-family="Liberation Sans" fill="#444" font-size="5.5" text-anchor="middle">800</text>
<text transform="translate(385.7,372.1) scale(0.74,1)" font-family="Liberation Sans" fill="#444" font-size="5.5" text-anchor="middle">1000</text>
<text transform="translate(313.3,317.9) scale(0.93,1)" font-family="Liberation Sans" font-size="10" stroke="#000" stroke-width="0.35">14.1</text>
<path d="M406.8 265.2H505.5V365.5H406.8Z" fill="none" stroke="#3a3a3a" stroke-width="1"/>
<path d="M453.9 265.2V365.5M406.8 341.9H505.5" fill="none" stroke="#3a3a3a" stroke-width="0.9"/>
<path d="M404.3 365.5H406.8M405.4 358.0H406.8M405.4 353.5H406.8M405.4 350.4H406.8M405.4 348.0H406.8M405.4 346.0H406.8M405.4 344.3H406.8M405.4 342.9H406.8M405.4 341.6H406.8M404.3 340.4H406.8M405.4 332.9H406.8M405.4 328.5H406.8M405.4 325.3H406.8M405.4 322.9H406.8M405.4 320.9H406.8M405.4 319.2H406.8M405.4 317.8H406.8M405.4 316.5H406.8M404.3 315.4H406.8M405.4 307.8H406.8M405.4 303.4H406.8M405.4 300.3H406.8M405.4 297.8H406.8M405.4 295.8H406.8M405.4 294.2H406.8M405.4 292.7H406.8M405.4 291.4H406.8M404.3 290.3H406.8M405.4 282.7H406.8M405.4 278.3H406.8M405.4 275.2H406.8M405.4 272.7H406.8M405.4 270.8H406.8M405.4 269.1H406.8M405.4 267.6H406.8M405.4 266.3H406.8M404.3 265.2H406.8M406.8 365.5V367.7M409.2 365.5V366.8M411.7 365.5V366.8M414.1 365.5V366.8M416.5 365.5V366.8M418.9 365.5V366.8M421.4 365.5V366.8M423.8 365.5V366.8M426.2 365.5V367.7M428.6 365.5V366.8M431.1 365.5V366.8M433.5 365.5V366.8M435.9 365.5V366.8M438.3 365.5V366.8M440.8 365.5V366.8M443.2 365.5V366.8M445.6 365.5V367.7M448.0 365.5V366.8M450.4 365.5V366.8M452.9 365.5V366.8M455.3 365.5V366.8M457.7 365.5V366.8M460.2 365.5V366.8M462.6 365.5V366.8M465.0 365.5V367.7M467.4 365.5V366.8M469.9 365.5V366.8M472.3 365.5V366.8M474.7 365.5V366.8M477.1 365.5V366.8M479.6 365.5V366.8M482.0 365.5V366.8M484.4 365.5V367.7M486.8 365.5V366.8M489.2 365.5V366.8M491.7 365.5V366.8M494.1 365.5V366.8M496.5 365.5V366.8M499.0 365.5V366.8M501.4 365.5V366.8M503.8 365.5V367.7" fill="none" stroke="#222" stroke-width="0.8"/>
<text transform="translate(402.4,365.3) rotate(-90)" font-family="Liberation Sans" font-size="3.8" text-anchor="end" fill="#222">10</text>
<text transform="translate(399.9,364.9) rotate(-90)" font-family="Liberation Sans" font-size="3.2" fill="#222">0</text>
<text transform="translate(402.4,340.2) rotate(-90)" font-family="Liberation Sans" font-size="3.8" text-anchor="end" fill="#222">10</text>
<text transform="translate(399.9,339.8) rotate(-90)" font-family="Liberation Sans" font-size="3.2" fill="#222">1</text>
<text transform="translate(402.4,315.2) rotate(-90)" font-family="Liberation Sans" font-size="3.8" text-anchor="end" fill="#222">10</text>
<text transform="translate(399.9,314.8) rotate(-90)" font-family="Liberation Sans" font-size="3.2" fill="#222">2</text>
<text transform="translate(402.4,290.1) rotate(-90)" font-family="Liberation Sans" font-size="3.8" text-anchor="end" fill="#222">10</text>
<text transform="translate(399.9,289.7) rotate(-90)" font-family="Liberation Sans" font-size="3.2" fill="#222">3</text>
<text transform="translate(402.4,265.0) rotate(-90)" font-family="Liberation Sans" font-size="3.8" text-anchor="end" fill="#222">10</text>
<text transform="translate(399.9,264.6) rotate(-90)" font-family="Liberation Sans" font-size="3.2" fill="#222">4</text>
<text transform="translate(406.8,372.1) scale(0.74,1)" font-family="Liberation Sans" fill="#444" font-size="5.5" text-anchor="middle">0</text>
<text transform="translate(426.2,372.1) scale(0.74,1)" font-family="Liberation Sans" fill="#444" font-size="5.5" text-anchor="middle">200</text>
<text transform="translate(445.6,372.1) scale(0.74,1)" font-family="Liberation Sans" fill="#444" font-size="5.5" text-anchor="middle">400</text>
<text transform="translate(465.0,372.1) scale(0.74,1)" font-family="Liberation Sans" fill="#444" font-size="5.5" text-anchor="middle">600</text>
<text transform="translate(484.4,372.1) scale(0.74,1)" font-family="Liberation Sans" fill="#444" font-size="5.5" text-anchor="middle">800</text>
<text transform="translate(503.8,372.1) scale(0.74,1)" font-family="Liberation Sans" fill="#444" font-size="5.5" text-anchor="middle">1000</text>
<text transform="translate(430.8,317.9) scale(0.93,1)" font-family="Liberation Sans" font-size="10" stroke="#000" stroke-width="0.35">19.7</text>
<path d="M52.5 383.5H151.7V483.3H52.5Z" fill="none" stroke="#3a3a3a" stroke-width="1"/>
<path d="M99.4 383.5V483.3M52.5 459.7H151.7" fill="none" stroke="#3a3a3a" stroke-width="0.9"/>
<path d="M50.0 483.3H52.5M51.1 475.8H52.5M51.1 471.4H52.5M51.1 468.3H52.5M51.1 465.9H52.5M51.1 463.9H52.5M51.1 462.2H52.5M51.1 460.8H52.5M51.1 459.5H52.5M50.0 458.4H52.5M51.1 450.8H52.5M51.1 446.4H52.5M51.1 443.3H52.5M51.1 440.9H52.5M51.1 438.9H52.5M51.1 437.3H52.5M51.1 435.8H52.5M51.1 434.5H52.5M50.0 433.4H52.5M51.1 425.9H52.5M51.1 421.5H52.5M51.1 418.4H52.5M51.1 416.0H52.5M51.1 414.0H52.5M51.1 412.3H52.5M51.1 410.9H52.5M51.1 409.6H52.5M50.0 408.4H52.5M51.1 400.9H52.5M51.1 396.5H52.5M51.1 393.4H52.5M51.1 391.0H52.5M51.1 389.0H52.5M51.1 387.4H52.5M51.1 385.9H52.5M51.1 384.6H52.5M50.0 383.5H52.5M52.5 483.3V485.5M54.9 483.3V484.6M57.4 483.3V484.6M59.8 483.3V484.6M62.2 483.3V484.6M64.6 483.3V484.6M67.0 483.3V484.6M69.5 483.3V484.6M71.9 483.3V485.5M74.3 483.3V484.6M76.8 483.3V484.6M79.2 483.3V484.6M81.6 483.3V484.6M84.0 483.3V484.6M86.5 483.3V484.6M88.9 483.3V484.6M91.3 483.3V485.5M93.7 483.3V484.6M96.2 483.3V484.6M98.6 483.3V484.6M101.0 483.3V484.6M103.4 483.3V484.6M105.8 483.3V484.6M108.3 483.3V484.6M110.7 483.3V485.5M113.1 483.3V484.6M115.5 483.3V484.6M118.0 483.3V484.6M120.4 483.3V484.6M122.8 483.3V484.6M125.2 483.3V484.6M127.7 483.3V484.6M130.1 483.3V485.5M132.5 483.3V484.6M134.9 483.3V484.6M137.4 483.3V484.6M139.8 483.3V484.6M142.2 483.3V484.6M144.7 483.3V484.6M147.1 483.3V484.6M149.5 483.3V485.5" fill="none" stroke="#222" stroke-width="0.8"/>
<text transform="translate(48.1,483.1) rotate(-90)" font-family="Liberation Sans" font-size="3.8" text-anchor="end" fill="#222">10</text>
<text transform="translate(45.6,482.7) rotate(-90)" font-family="Liberation Sans" font-size="3.2" fill="#222">0</text>
<text transform="translate(48.1,458.2) rotate(-90)" font-family="Liberation Sans" font-size="3.8" text-anchor="end" fill="#222">10</text>
<text transform="translate(45.6,457.8) rotate(-90)" font-family="Liberation Sans" font-size="3.2" fill="#222">1</text>
<text transform="translate(48.1,433.2) rotate(-90)" font-family="Liberation Sans" font-size="3.8" text-anchor="end" fill="#222">10</text>
<text transform="translate(45.6,432.8) rotate(-90)" font-family="Liberation Sans" font-size="3.2" fill="#222">2</text>
<text transform="translate(48.1,408.2) rotate(-90)" font-family="Liberation Sans" font-size="3.8" text-anchor="end" fill="#222">10</text>
<text transform="translate(45.6,407.8) rotate(-90)" font-family="Liberation Sans" font-size="3.2" fill="#222">3</text>
<text transform="translate(48.1,383.3) rotate(-90)" font-family="Liberation Sans" font-size="3.8" text-anchor="end" fill="#222">10</text>
<text transform="translate(45.6,382.9) rotate(-90)" font-family="Liberation Sans" font-size="3.2" fill="#222">4</text>
<text transform="translate(52.5,489.9) scale(0.74,1)" font-family="Liberation Sans" fill="#444" font-size="5.5" text-anchor="middle">0</text>
<text transform="translate(71.9,489.9) scale(0.74,1)" font-family="Liberation Sans" fill="#444" font-size="5.5" text-anchor="middle">200</text>
<text transform="translate(91.3,489.9) scale(0.74,1)" font-family="Liberation Sans" fill="#444" font-size="5.5" text-anchor="middle">400</text>
<text transform="translate(110.7,489.9) scale(0.74,1)" font-family="Liberation Sans" fill="#444" font-size="5.5" text-anchor="middle">600</text>
<text transform="translate(130.1,489.9) scale(0.74,1)" font-family="Liberation Sans" fill="#444" font-size="5.5" text-anchor="middle">800</text>
<text transform="translate(149.5,489.9) scale(0.74,1)" font-family="Liberation Sans" fill="#444" font-size="5.5" text-anchor="middle">1000</text>
<text transform="translate(73.3,435.6) scale(0.93,1)" font-family="Liberation Sans" font-size="10" stroke="#000" stroke-width="0.35">23.3</text>
<path d="M172.8 383.5H271.8V483.3H172.8Z" fill="none" stroke="#3a3a3a" stroke-width="1"/>
<path d="M219.6 383.5V483.3M172.8 459.7H271.8" fill="none" stroke="#3a3a3a" stroke-width="0.9"/>
<path d="M170.3 483.3H172.8M171.4 475.8H172.8M171.4 471.4H172.8M171.4 468.3H172.8M171.4 465.9H172.8M171.4 463.9H172.8M171.4 462.2H172.8M171.4 460.8H172.8M171.4 459.5H172.8M170.3 458.4H172.8M171.4 450.8H172.8M171.4 446.4H172.8M171.4 443.3H172.8M171.4 440.9H172.8M171.4 438.9H172.8M171.4 437.3H172.8M171.4 435.8H172.8M171.4 434.5H172.8M170.3 433.4H172.8M171.4 425.9H172.8M171.4 421.5H172.8M171.4 418.4H172.8M171.4 416.0H172.8M171.4 414.0H172.8M171.4 412.3H172.8M171.4 410.9H172.8M171.4 409.6H172.8M170.3 408.4H172.8M171.4 400.9H172.8M171.4 396.5H172.8M171.4 393.4H172.8M171.4 391.0H172.8M171.4 389.0H172.8M171.4 387.4H172.8M171.4 385.9H172.8M171.4 384.6H172.8M170.3 383.5H172.8M172.8 483.3V485.5M175.2 483.3V484.6M177.7 483.3V484.6M180.1 483.3V484.6M182.5 483.3V484.6M184.9 483.3V484.6M187.4 483.3V484.6M189.8 483.3V484.6M192.2 483.3V485.5M194.6 483.3V484.6M197.1 483.3V484.6M199.5 483.3V484.6M201.9 483.3V484.6M204.3 483.3V484.6M206.8 483.3V484.6M209.2 483.3V484.6M211.6 483.3V485.5M214.0 483.3V484.6M216.5 483.3V484.6M218.9 483.3V484.6M221.3 483.3V484.6M223.7 483.3V484.6M226.2 483.3V484.6M228.6 483.3V484.6M231.0 483.3V485.5M233.4 483.3V484.6M235.9 483.3V484.6M238.3 483.3V484.6M240.7 483.3V484.6M243.1 483.3V484.6M245.6 483.3V484.6M248.0 483.3V484.6M250.4 483.3V485.5M252.8 483.3V484.6M255.2 483.3V484.6M257.7 483.3V484.6M260.1 483.3V484.6M262.5 483.3V484.6M265.0 483.3V484.6M267.4 483.3V484.6M269.8 483.3V485.5" fill="none" stroke="#222" stroke-width="0.8"/>
<text transform="translate(168.4,483.1) rotate(-90)" font-family="Liberation Sans" font-size="3.8" text-anchor="end" fill="#222">10</text>
<text transform="translate(165.9,482.7) rotate(-90)" font-family="Liberation Sans" font-size="3.2" fill="#222">0</text>
<text transform="translate(168.4,458.2) rotate(-90)" font-family="Liberation Sans" font-size="3.8" text-anchor="end" fill="#222">10</text>
<text transform="translate(165.9,457.8) rotate(-90)" font-family="Liberation Sans" font-size="3.2" fill="#222">1</text>
<text transform="translate(168.4,433.2) rotate(-90)" font-family="Liberation Sans" font-size="3.8" text-anchor="end" fill="#222">10</text>
<text transform="translate(165.9,432.8) rotate(-90)" font-family="Liberation Sans" font-size="3.2" fill="#222">2</text>
<text transform="translate(168.4,408.2) rotate(-90)" font-family="Liberation Sans" font-size="3.8" text-anchor="end" fill="#222">10</text>
<text transform="translate(165.9,407.8) rotate(-90)" font-family="Liberation Sans" font-size="3.2" fill="#222">3</text>
<text transform="translate(168.4,383.3) rotate(-90)" font-family="Liberation Sans" font-size="3.8" text-anchor="end" fill="#222">10</text>
<text transform="translate(165.9,382.9) rotate(-90)" font-family="Liberation Sans" font-size="3.2" fill="#222">4</text>
<text transform="translate(172.8,489.9) scale(0.74,1)" font-family="Liberation Sans" fill="#444" font-size="5.5" text-anchor="middle">0</text>
<text transform="translate(192.2,489.9) scale(0.74,1)" font-family="Liberation Sans" fill="#444" font-size="5.5" text-anchor="middle">200</text>
<text transform="translate(211.6,489.9) scale(0.74,1)" font-family="Liberation Sans" fill="#444" font-size="5.5" text-anchor="middle">400</text>
<text transform="translate(231.0,489.9) scale(0.74,1)" font-family="Liberation Sans" fill="#444" font-size="5.5" text-anchor="middle">600</text>
<text transform="translate(250.4,489.9) scale(0.74,1)" font-family="Liberation Sans" fill="#444" font-size="5.5" text-anchor="middle">800</text>
<text transform="translate(269.8,489.9) scale(0.74,1)" font-family="Liberation Sans" fill="#444" font-size="5.5" text-anchor="middle">1000</text>
<text transform="translate(197.6,429.9) scale(0.93,1)" font-family="Liberation Sans" font-size="10" stroke="#000" stroke-width="0.35">8.1</text>
<path d="M288.8 383.5H388.1V483.3H288.8Z" fill="none" stroke="#3a3a3a" stroke-width="1"/>
<path d="M336.0 383.5V483.3M288.8 459.7H388.1" fill="none" stroke="#3a3a3a" stroke-width="0.9"/>
<path d="M286.3 483.3H288.8M287.4 475.8H288.8M287.4 471.4H288.8M287.4 468.3H288.8M287.4 465.9H288.8M287.4 463.9H288.8M287.4 462.2H288.8M287.4 460.8H288.8M287.4 459.5H288.8M286.3 458.4H288.8M287.4 450.8H288.8M287.4 446.4H288.8M287.4 443.3H288.8M287.4 440.9H288.8M287.4 438.9H288.8M287.4 437.3H288.8M287.4 435.8H288.8M287.4 434.5H288.8M286.3 433.4H288.8M287.4 425.9H288.8M287.4 421.5H288.8M287.4 418.4H288.8M287.4 416.0H288.8M287.4 414.0H288.8M287.4 412.3H288.8M287.4 410.9H288.8M287.4 409.6H288.8M286.3 408.4H288.8M287.4 400.9H288.8M287.4 396.5H288.8M287.4 393.4H288.8M287.4 391.0H288.8M287.4 389.0H288.8M287.4 387.4H288.8M287.4 385.9H288.8M287.4 384.6H288.8M286.3 383.5H288.8M288.8 483.3V485.5M291.2 483.3V484.6M293.7 483.3V484.6M296.1 483.3V484.6M298.5 483.3V484.6M300.9 483.3V484.6M303.4 483.3V484.6M305.8 483.3V484.6M308.2 483.3V485.5M310.6 483.3V484.6M313.1 483.3V484.6M315.5 483.3V484.6M317.9 483.3V484.6M320.3 483.3V484.6M322.8 483.3V484.6M325.2 483.3V484.6M327.6 483.3V485.5M330.0 483.3V484.6M332.4 483.3V484.6M334.9 483.3V484.6M337.3 483.3V484.6M339.7 483.3V484.6M342.2 483.3V484.6M344.6 483.3V484.6M347.0 483.3V485.5M349.4 483.3V484.6M351.9 483.3V484.6M354.3 483.3V484.6M356.7 483.3V484.6M359.1 483.3V484.6M361.6 483.3V484.6M364.0 483.3V484.6M366.4 483.3V485.5M368.8 483.3V484.6M371.2 483.3V484.6M373.7 483.3V484.6M376.1 483.3V484.6M378.5 483.3V484.6M381.0 483.3V484.6M383.4 483.3V484.6M385.8 483.3V485.5" fill="none" stroke="#222" stroke-width="0.8"/>
<text transform="translate(284.4,483.1) rotate(-90)" font-family="Liberation Sans" font-size="3.8" text-anchor="end" fill="#222">10</text>
<text transform="translate(281.9,482.7) rotate(-90)" font-family="Liberation Sans" font-size="3.2" fill="#222">0</text>
<text transform="translate(284.4,458.2) rotate(-90)" font-family="Liberation Sans" font-size="3.8" text-anchor="end" fill="#222">10</text>
<text transform="translate(281.9,457.8) rotate(-90)" font-family="Liberation Sans" font-size="3.2" fill="#222">1</text>
<text transform="translate(284.4,433.2) rotate(-90)" font-family="Liberation Sans" font-size="3.8" text-anchor="end" fill="#222">10</text>
<text transform="translate(281.9,432.8) rotate(-90)" font-family="Liberation Sans" font-size="3.2" fill="#222">2</text>
<text transform="translate(284.4,408.2) rotate(-90)" font-family="Liberation Sans" font-size="3.8" text-anchor="end" fill="#222">10</text>
<text transform="translate(281.9,407.8) rotate(-90)" font-family="Liberation Sans" font-size="3.2" fill="#222">3</text>
<text transform="translate(284.4,383.3) rotate(-90)" font-family="Liberation Sans" font-size="3.8" text-anchor="end" fill="#222">10</text>
<text transform="translate(281.9,382.9) rotate(-90)" font-family="Liberation Sans" font-size="3.2" fill="#222">4</text>
<text transform="translate(288.8,489.9) scale(0.74,1)" font-family="Liberation Sans" fill="#444" font-size="5.5" text-anchor="middle">0</text>
<text transform="translate(308.2,489.9) scale(0.74,1)" font-family="Liberation Sans" fill="#444" font-size="5.5" text-anchor="middle">200</text>
<text transform="translate(327.6,489.9) scale(0.74,1)" font-family="Liberation Sans" fill="#444" font-size="5.5" text-anchor="middle">400</text>
<text transform="translate(347.0,489.9) scale(0.74,1)" font-family="Liberation Sans" fill="#444" font-size="5.5" text-anchor="middle">600</text>
<text transform="translate(366.4,489.9) scale(0.74,1)" font-family="Liberation Sans" fill="#444" font-size="5.5" text-anchor="middle">800</text>
<text transform="translate(385.8,489.9) scale(0.74,1)" font-family="Liberation Sans" fill="#444" font-size="5.5" text-anchor="middle">1000</text>
<text transform="translate(316.6,429.6) scale(0.93,1)" font-family="Liberation Sans" font-size="10" stroke="#000" stroke-width="0.35">5.4</text>
<path d="M407.4 383.5H505.6V483.3H407.4Z" fill="none" stroke="#3a3a3a" stroke-width="1"/>
<path d="M453.9 383.5V483.3M407.4 459.7H505.6" fill="none" stroke="#3a3a3a" stroke-width="0.9"/>
<path d="M404.9 483.3H407.4M406.0 475.8H407.4M406.0 471.4H407.4M406.0 468.3H407.4M406.0 465.9H407.4M406.0 463.9H407.4M406.0 462.2H407.4M406.0 460.8H407.4M406.0 459.5H407.4M404.9 458.4H407.4M406.0 450.8H407.4M406.0 446.4H407.4M406.0 443.3H407.4M406.0 440.9H407.4M406.0 438.9H407.4M406.0 437.3H407.4M406.0 435.8H407.4M406.0 434.5H407.4M404.9 433.4H407.4M406.0 425.9H407.4M406.0 421.5H407.4M406.0 418.4H407.4M406.0 416.0H407.4M406.0 414.0H407.4M406.0 412.3H407.4M406.0 410.9H407.4M406.0 409.6H407.4M404.9 408.4H407.4M406.0 400.9H407.4M406.0 396.5H407.4M406.0 393.4H407.4M406.0 391.0H407.4M406.0 389.0H407.4M406.0 387.4H407.4M406.0 385.9H407.4M406.0 384.6H407.4M404.9 383.5H407.4M407.4 483.3V485.5M409.8 483.3V484.6M412.2 483.3V484.6M414.7 483.3V484.6M417.1 483.3V484.6M419.5 483.3V484.6M421.9 483.3V484.6M424.4 483.3V484.6M426.8 483.3V485.5M429.2 483.3V484.6M431.6 483.3V484.6M434.1 483.3V484.6M436.5 483.3V484.6M438.9 483.3V484.6M441.3 483.3V484.6M443.8 483.3V484.6M446.2 483.3V485.5M448.6 483.3V484.6M451.0 483.3V484.6M453.5 483.3V484.6M455.9 483.3V484.6M458.3 483.3V484.6M460.8 483.3V484.6M463.2 483.3V484.6M465.6 483.3V485.5M468.0 483.3V484.6M470.4 483.3V484.6M472.9 483.3V484.6M475.3 483.3V484.6M477.7 483.3V484.6M480.1 483.3V484.6M482.6 483.3V484.6M485.0 483.3V485.5M487.4 483.3V484.6M489.8 483.3V484.6M492.3 483.3V484.6M494.7 483.3V484.6M497.1 483.3V484.6M499.5 483.3V484.6M502.0 483.3V484.6M504.4 483.3V485.5" fill="none" stroke="#222" stroke-width="0.8"/>
<text transform="translate(403.0,483.1) rotate(-90)" font-family="Liberation Sans" font-size="3.8" text-anchor="end" fill="#222">10</text>
<text transform="translate(400.5,482.7) rotate(-90)" font-family="Liberation Sans" font-size="3.2" fill="#222">0</text>
<text transform="translate(403.0,458.2) rotate(-90)" font-family="Liberation Sans" font-size="3.8" text-anchor="end" fill="#222">10</text>
<text transform="translate(400.5,457.8) rotate(-90)" font-family="Liberation Sans" font-size="3.2" fill="#222">1</text>
<text transform="translate(403.0,433.2) rotate(-90)" font-family="Liberation Sans" font-size="3.8" text-anchor="end" fill="#222">10</text>
<text transform="translate(400.5,432.8) rotate(-90)" font-family="Liberation Sans" font-size="3.2" fill="#222">2</text>
<text transform="translate(403.0,408.2) rotate(-90)" font-family="Liberation Sans" font-size="3.8" text-anchor="end" fill="#222">10</text>
<text transform="translate(400.5,407.8) rotate(-90)" font-family="Liberation Sans" font-size="3.2" fill="#222">3</text>
<text transform="translate(403.0,383.3) rotate(-90)" font-family="Liberation Sans" font-size="3.8" text-anchor="end" fill="#222">10</text>
<text transform="translate(400.5,382.9) rotate(-90)" font-family="Liberation Sans" font-size="3.2" fill="#222">4</text>
<text transform="translate(407.4,489.9) scale(0.74,1)" font-family="Liberation Sans" fill="#444" font-size="5.5" text-anchor="middle">0</text>
<text transform="translate(426.8,489.9) scale(0.74,1)" font-family="Liberation Sans" fill="#444" font-size="5.5" text-anchor="middle">200</text>
<text transform="translate(446.2,489.9) scale(0.74,1)" font-family="Liberation Sans" fill="#444" font-size="5.5" text-anchor="middle">400</text>
<text transform="translate(465.6,489.9) scale(0.74,1)" font-family="Liberation Sans" fill="#444" font-size="5.5" text-anchor="middle">600</text>
<text transform="translate(485.0,489.9) scale(0.74,1)" font-family="Liberation Sans" fill="#444" font-size="5.5" text-anchor="middle">800</text>
<text transform="translate(504.4,489.9) scale(0.74,1)" font-family="Liberation Sans" fill="#444" font-size="5.5" text-anchor="middle">1000</text>
<text transform="translate(432.3,429.3) scale(0.93,1)" font-family="Liberation Sans" font-size="10" stroke="#000" stroke-width="0.35">3.2</text>
<path d="M56.2 510.8H162.3" stroke="#000" stroke-width="1.4"/>
<text x="176.4" y="513.8" font-family="Liberation Sans" font-size="12" stroke="#000" stroke-width="0.3">Relative DNA Content</text>
<path d="M306.2 512.5H408" stroke="#000" stroke-width="1.4"/>
<path d="M413.3 512.5L405.8 509.3V515.7Z" fill="#000"/>
<defs><filter id="sf" x="-5%" y="-5%" width="110%" height="110%"><feGaussianBlur stdDeviation="0.35"/></filter></defs>
<g filter="url(#sf)">
<path d="M72.3 351.2h.1M73.1 345.8h.1M74.2 348.5h.1M70.9 359.0h.1M72.1 357.8h.1M75.4 346.7h.1M70.5 363.4h.1M73.4 347.4h.1M73.8 348.0h.1M73.0 354.5h.1M70.8 357.4h.1M71.5 358.1h.1M70.7 358.4h.1M73.0 355.0h.1M73.7 353.9h.1M72.6 352.7h.1M74.4 344.0h.1M74.0 348.1h.1M72.5 351.3h.1M74.0 344.1h.1M71.1 359.3h.1M71.3 360.4h.1M72.1 351.4h.1M71.7 362.9h.1M71.2 362.9h.1M72.2 353.4h.1M71.4 354.2h.1M75.1 345.8h.1M72.3 351.1h.1M71.8 353.3h.1M71.7 353.7h.1M70.6 358.5h.1M72.0 363.6h.1M70.9 359.7h.1M73.0 349.9h.1M72.5 359.9h.1M72.6 356.4h.1M69.9 363.3h.1M73.9 347.3h.1M72.5 360.8h.1M71.5 358.3h.1M74.8 346.5h.1M71.7 353.4h.1M74.7 347.1h.1M74.0 351.2h.1M74.6 349.2h.1M71.7 361.9h.1M72.5 352.9h.1M71.6 353.4h.1M74.2 346.5h.1M72.9 356.7h.1M72.3 351.7h.1M70.3 362.3h.1M72.4 356.0h.1M72.8 357.4h.1M72.5 360.9h.1M73.0 347.4h.1M71.4 356.0h.1M75.4 344.6h.1M73.5 352.1h.1M73.7 351.9h.1M74.6 351.4h.1M74.6 350.6h.1M72.4 360.8h.1M73.3 355.1h.1M71.4 358.8h.1M72.8 355.8h.1M70.3 361.5h.1M75.2 344.8h.1M72.4 359.5h.1M74.0 350.6h.1M71.8 357.7h.1M73.9 346.4h.1M73.2 350.6h.1M70.0 360.8h.1M75.0 347.2h.1M74.6 345.1h.1M74.0 345.8h.1M73.1 352.5h.1M72.0 360.9h.1M71.2 359.8h.1M75.3 345.6h.1M74.1 353.0h.1M71.2 360.0h.1M73.3 346.1h.1M74.0 351.2h.1M74.4 352.7h.1M71.3 356.0h.1M73.0 355.7h.1M72.7 359.1h.1M72.2 363.1h.1M73.2 346.2h.1M71.5 354.2h.1M74.3 353.1h.1M71.0 357.1h.1M72.9 348.7h.1M71.1 363.1h.1M72.1 356.3h.1M71.7 363.2h.1M70.4 361.0h.1M75.6 344.9h.1M72.6 350.6h.1M73.2 355.4h.1M71.7 353.1h.1M74.1 346.5h.1M70.8 356.6h.1M72.6 351.9h.1M73.0 350.1h.1M72.8 356.8h.1M72.7 353.4h.1M72.6 348.4h.1M75.6 346.0h.1M72.5 360.9h.1M75.5 345.5h.1M70.1 363.4h.1M73.5 348.8h.1M73.2 347.6h.1M70.2 360.7h.1M71.1 355.1h.1M74.0 347.6h.1M69.7 363.1h.1M72.4 351.1h.1M74.8 348.2h.1M72.7 353.5h.1M72.8 349.2h.1M72.2 359.3h.1M70.9 359.6h.1M72.3 356.5h.1M70.9 360.0h.1M72.2 356.8h.1M74.8 345.1h.1M73.1 352.4h.1M71.8 356.9h.1M72.7 358.4h.1M75.5 345.1h.1M71.6 354.7h.1M73.7 344.2h.1M71.7 353.3h.1M74.1 353.6h.1M75.4 346.3h.1M73.0 348.9h.1M74.3 352.5h.1M71.6 355.1h.1M74.2 346.4h.1M72.4 355.5h.1M75.5 345.7h.1M69.7 362.0h.1M72.0 355.1h.1M73.1 353.5h.1M73.4 344.7h.1M71.0 358.5h.1M73.8 347.8h.1M74.5 350.5h.1M74.3 349.7h.1M74.1 351.4h.1M75.3 344.7h.1M72.7 357.2h.1M73.3 356.0h.1M72.1 359.7h.1M71.7 362.7h.1M71.1 359.3h.1M73.5 345.5h.1M74.7 347.3h.1M70.3 361.2h.1M74.3 352.0h.1M72.9 354.3h.1M72.6 351.9h.1M74.5 350.9h.1M71.0 357.4h.1M74.6 344.8h.1M71.5 354.2h.1M74.5 351.5h.1M73.5 351.2h.1M72.4 360.2h.1M70.4 362.3h.1M73.2 355.7h.1M74.3 348.7h.1M74.4 347.7h.1M74.8 349.5h.1M71.0 361.3h.1M74.1 345.7h.1M74.4 348.0h.1M75.1 346.6h.1M72.4 353.3h.1M74.8 345.7h.1M70.1 362.5h.1M71.1 363.0h.1M71.7 363.4h.1M70.5 358.4h.1M72.4 358.9h.1M70.1 359.6h.1M74.2 352.7h.1M70.9 362.8h.1M72.8 352.0h.1M72.1 360.5h.1M73.5 350.3h.1M71.6 363.3h.1M70.8 357.3h.1M74.6 345.2h.1M73.0 353.1h.1M75.1 347.9h.1M72.1 350.5h.1M73.0 351.6h.1M71.9 359.9h.1M73.2 352.4h.1M69.7 362.6h.1M74.2 347.9h.1M73.8 344.6h.1M73.3 346.7h.1M72.1 362.8h.1M71.3 356.8h.1M71.9 357.3h.1M72.0 361.5h.1M73.8 351.4h.1M74.0 348.0h.1M72.9 357.6h.1M74.1 346.7h.1M74.2 348.0h.1M72.2 361.3h.1M74.3 348.7h.1M74.6 346.4h.1M71.3 359.7h.1M73.2 352.4h.1M73.0 351.0h.1M73.8 351.8h.1M70.8 361.6h.1M73.3 350.6h.1M73.9 351.3h.1M74.0 347.5h.1M73.5 347.8h.1M73.0 357.4h.1M73.3 349.4h.1M75.1 346.8h.1M75.0 346.2h.1M80.3 336.5h.1M83.5 328.9h.1M77.0 334.5h.1M79.6 340.1h.1M83.1 340.9h.1M82.1 338.3h.1M80.9 337.0h.1M82.4 329.4h.1M82.2 339.9h.1M81.5 330.6h.1M78.1 339.4h.1M78.9 339.6h.1M79.2 336.3h.1M79.9 335.2h.1M82.1 330.6h.1M86.0 332.6h.1M77.9 331.0h.1M79.7 329.4h.1M78.6 328.8h.1M81.4 338.3h.1M85.6 338.7h.1M83.1 328.4h.1M80.1 329.0h.1M77.3 331.4h.1M85.1 329.4h.1M80.8 330.7h.1M82.6 335.7h.1M76.7 333.1h.1M84.2 330.7h.1M78.6 329.5h.1M79.4 335.4h.1M78.0 330.2h.1M81.9 332.7h.1M86.1 334.4h.1M85.5 338.4h.1M81.4 329.6h.1M83.1 338.3h.1M81.9 331.0h.1M79.7 337.6h.1M81.4 332.6h.1M77.8 334.2h.1M79.2 337.8h.1M82.7 336.6h.1M83.6 328.2h.1M75.6 328.4h.1M83.0 340.0h.1M86.2 328.6h.1M80.4 330.7h.1M76.4 339.8h.1M83.3 327.6h.1M79.1 332.1h.1M81.4 329.5h.1M79.6 329.8h.1M83.2 333.4h.1M78.8 334.8h.1M80.9 332.1h.1M82.6 329.7h.1M81.7 338.8h.1M78.1 337.9h.1M85.2 334.0h.1M80.2 328.7h.1M77.3 334.7h.1M78.0 335.9h.1M76.2 334.1h.1M80.8 338.7h.1M84.3 333.3h.1M84.4 335.3h.1M76.5 329.1h.1M78.0 333.2h.1M79.0 336.0h.1M83.1 335.3h.1M81.4 332.1h.1M84.4 339.1h.1M80.7 337.6h.1M81.9 333.3h.1M82.3 334.2h.1M82.9 338.1h.1M79.8 329.6h.1M78.9 335.3h.1M81.8 336.6h.1M80.7 334.1h.1M76.0 337.9h.1M79.7 333.3h.1M81.6 334.8h.1M76.3 329.5h.1M77.8 339.2h.1M77.2 330.6h.1M77.1 336.4h.1M86.2 333.4h.1M76.2 339.1h.1M78.2 340.0h.1M77.7 326.4h.1M81.3 340.9h.1M76.2 334.5h.1M81.7 329.0h.1M78.0 333.9h.1M79.0 325.8h.1M84.3 333.7h.1M76.5 330.0h.1M82.0 333.5h.1M79.8 331.6h.1M80.4 335.3h.1M82.9 336.5h.1M79.1 340.5h.1M85.3 333.2h.1M83.8 334.6h.1M81.1 327.4h.1M76.2 330.7h.1M82.6 340.3h.1M81.4 331.4h.1M83.8 339.0h.1M77.6 336.8h.1M86.0 331.7h.1M84.2 336.3h.1M77.1 332.3h.1M80.0 337.6h.1M78.6 328.3h.1M83.4 329.2h.1M84.7 337.7h.1M85.1 333.5h.1M82.8 329.7h.1M81.6 333.2h.1M82.3 330.1h.1M81.7 334.4h.1M84.6 336.2h.1M81.2 337.0h.1M78.9 327.1h.1M79.2 334.5h.1M74.9 338.1h.1M82.9 332.0h.1M83.1 335.6h.1M80.0 328.9h.1M82.9 338.8h.1M83.1 336.6h.1M80.1 337.3h.1M77.3 336.7h.1M77.3 339.2h.1M77.0 328.0h.1M79.6 336.1h.1M80.0 331.5h.1M84.2 330.5h.1M78.1 330.5h.1M86.3 333.7h.1M83.0 335.7h.1M85.6 339.4h.1M79.6 326.4h.1M76.9 329.0h.1M83.3 332.5h.1M78.3 338.2h.1M79.7 333.8h.1M84.7 334.5h.1M82.4 337.5h.1M78.0 334.1h.1M79.0 330.8h.1M86.5 329.0h.1M78.2 332.8h.1M81.5 336.6h.1M77.0 334.7h.1M84.2 328.8h.1M77.3 334.4h.1M82.3 330.3h.1M76.6 337.1h.1M82.2 333.8h.1M83.5 340.3h.1M77.6 332.8h.1M80.6 333.5h.1M84.3 335.3h.1M82.3 337.5h.1M79.3 336.9h.1M83.9 332.7h.1M79.7 335.4h.1M84.5 336.1h.1M79.3 340.2h.1M84.2 332.7h.1M82.0 328.3h.1M83.7 339.2h.1M79.5 332.6h.1M83.4 339.5h.1M82.9 335.1h.1M78.8 332.8h.1M76.2 328.4h.1M86.4 335.3h.1M82.3 326.8h.1M77.8 339.6h.1M83.9 337.6h.1M77.8 331.1h.1M80.9 329.0h.1M83.6 340.3h.1M81.5 334.7h.1M81.0 329.0h.1M80.9 334.8h.1M76.6 329.9h.1M78.9 332.3h.1M78.8 336.3h.1M77.8 337.8h.1M78.0 337.3h.1M79.5 328.3h.1M79.1 333.6h.1M83.3 335.1h.1M86.5 339.2h.1M78.9 328.8h.1M81.1 333.1h.1M81.3 337.9h.1M77.4 331.4h.1M77.3 332.1h.1M85.3 336.6h.1M80.3 331.9h.1M82.1 338.4h.1M77.5 329.2h.1M82.6 329.8h.1M84.8 329.3h.1M84.7 336.7h.1M77.0 331.4h.1M80.8 339.3h.1M79.1 338.1h.1M83.4 338.8h.1M77.8 329.2h.1M77.4 327.1h.1M85.2 331.1h.1M80.1 339.4h.1M79.5 336.2h.1M86.8 328.3h.1M79.1 336.7h.1M75.2 337.7h.1M79.6 338.9h.1M78.4 335.6h.1M77.9 339.0h.1M81.3 339.6h.1M85.9 332.7h.1M82.4 328.4h.1M81.9 337.9h.1M79.6 327.8h.1M81.7 333.7h.1M83.0 339.4h.1M81.4 332.0h.1M84.1 336.4h.1M81.5 340.8h.1M77.5 330.1h.1M81.4 340.1h.1M81.9 338.7h.1M77.9 332.1h.1M83.0 330.3h.1M85.3 328.5h.1M77.9 339.4h.1M83.5 330.0h.1M82.6 328.7h.1M80.8 338.7h.1M78.4 337.1h.1M81.4 335.3h.1M82.9 336.9h.1M81.1 326.3h.1M80.7 327.5h.1M77.7 334.9h.1M84.9 327.3h.1M85.9 334.3h.1M76.9 336.6h.1M78.9 334.8h.1M78.3 334.9h.1M84.4 327.6h.1M88.2 337.2h.1M92.3 332.8h.1M95.3 328.6h.1M90.5 340.5h.1M86.7 339.5h.1M87.9 339.8h.1M90.8 342.0h.1M91.7 335.4h.1M87.6 328.5h.1M86.8 336.6h.1M85.8 330.7h.1M86.5 335.0h.1M91.9 333.2h.1M91.3 335.4h.1M93.3 341.1h.1M85.7 339.1h.1M87.4 332.7h.1M91.5 339.7h.1M91.5 339.6h.1M84.8 340.3h.1M88.8 335.0h.1M91.4 340.1h.1M90.9 335.0h.1M89.4 326.8h.1M86.2 330.7h.1M94.6 337.0h.1M90.3 332.3h.1M91.6 333.0h.1M88.5 332.1h.1M85.3 328.9h.1M88.2 328.8h.1M87.4 324.6h.1M87.3 337.3h.1M88.2 331.5h.1M88.5 332.7h.1M88.0 340.8h.1M88.5 338.2h.1M92.6 339.4h.1M84.5 340.5h.1M87.1 342.6h.1M93.3 326.7h.1M89.0 332.6h.1M88.1 342.6h.1M88.0 334.6h.1M89.5 342.4h.1M85.4 328.9h.1M93.3 326.7h.1M92.5 342.3h.1M87.8 333.4h.1M87.4 333.6h.1M93.0 341.4h.1M87.4 329.6h.1M91.0 341.9h.1M91.8 332.1h.1M91.5 329.1h.1M93.0 329.4h.1M89.1 334.9h.1M92.1 334.5h.1M90.7 341.0h.1M88.4 328.0h.1M90.1 326.2h.1M88.7 330.7h.1M92.3 336.9h.1M93.6 339.6h.1M86.7 333.5h.1M88.3 334.0h.1M87.9 336.6h.1M89.1 326.0h.1M92.3 331.3h.1M93.0 341.9h.1M93.9 332.8h.1M92.7 341.9h.1M90.6 334.7h.1M87.7 327.4h.1M88.3 325.7h.1M84.9 329.0h.1M91.5 331.7h.1M87.8 333.3h.1M84.8 332.4h.1M88.2 335.9h.1M88.2 334.4h.1M91.0 326.6h.1M84.7 331.0h.1M86.3 343.2h.1M94.4 326.0h.1M91.5 337.3h.1M92.0 332.7h.1M90.6 339.0h.1M87.1 331.9h.1M91.8 332.1h.1M92.6 334.2h.1M91.1 341.4h.1M86.1 331.3h.1M87.1 326.7h.1M89.5 325.6h.1M88.5 342.7h.1M87.6 331.2h.1M88.4 327.1h.1M89.7 334.9h.1M86.9 339.7h.1M90.4 336.6h.1M87.7 328.8h.1M86.9 332.4h.1M90.5 330.2h.1M89.5 325.5h.1M88.7 341.5h.1M91.8 334.6h.1M89.7 328.2h.1M89.8 343.0h.1M92.7 342.1h.1M91.7 339.7h.1M93.4 330.6h.1M92.6 328.6h.1M90.8 333.6h.1M91.5 335.0h.1M86.8 341.0h.1M90.6 342.7h.1M88.6 341.4h.1M86.5 332.3h.1M87.4 336.5h.1M89.6 327.9h.1M85.6 334.6h.1M90.3 326.5h.1M91.5 327.9h.1M92.3 328.4h.1M87.2 330.8h.1M91.1 331.3h.1M93.3 337.6h.1M85.4 325.7h.1M87.3 326.6h.1M86.5 337.6h.1M89.9 337.6h.1M87.1 339.2h.1M89.6 338.1h.1M89.3 337.8h.1M91.5 336.2h.1M87.7 339.3h.1M91.2 326.4h.1M86.4 329.1h.1M92.2 338.6h.1M93.6 328.1h.1M91.1 335.2h.1M86.1 330.9h.1M93.2 332.7h.1M90.6 341.7h.1M88.3 336.8h.1M90.1 333.1h.1M89.0 330.1h.1M91.1 339.0h.1M86.8 337.3h.1M87.9 333.2h.1M89.4 342.0h.1M92.6 338.1h.1M88.4 343.1h.1M85.3 336.9h.1M88.9 340.1h.1M87.1 335.1h.1M86.5 337.2h.1M92.6 341.0h.1M88.3 327.1h.1M90.4 335.1h.1M88.9 336.7h.1M86.3 327.2h.1M94.2 339.5h.1M93.7 338.2h.1M87.7 342.4h.1M89.4 332.7h.1M90.0 333.1h.1M85.4 341.9h.1M92.0 334.8h.1M91.8 340.0h.1M91.6 332.7h.1M90.3 330.9h.1M84.2 329.2h.1M87.1 330.2h.1M89.2 333.1h.1M91.7 328.6h.1M87.5 341.5h.1M90.4 344.6h.1M92.7 326.5h.1M85.5 327.3h.1M87.2 326.1h.1M87.3 342.1h.1M92.8 327.2h.1M87.0 337.4h.1M85.9 332.1h.1M88.8 329.5h.1M89.8 330.1h.1M86.6 338.6h.1M91.8 326.5h.1M87.3 341.0h.1M92.8 335.7h.1M87.3 331.0h.1M92.6 329.6h.1M85.9 336.9h.1M90.4 335.8h.1M91.1 330.8h.1M88.2 330.5h.1M85.7 333.7h.1M90.4 341.6h.1M89.1 333.3h.1M89.6 340.2h.1M93.1 337.2h.1M88.8 335.5h.1M89.4 333.3h.1M88.9 338.4h.1M90.0 333.5h.1M88.0 337.2h.1M85.9 327.8h.1M86.8 331.1h.1M86.6 341.6h.1M87.9 333.4h.1M94.1 340.4h.1M85.7 341.0h.1M88.0 335.1h.1M90.1 326.6h.1M87.2 338.6h.1M87.3 335.7h.1M88.4 330.7h.1M89.1 341.1h.1M92.6 333.8h.1M92.0 326.9h.1M92.9 325.9h.1M89.3 328.3h.1M88.8 335.7h.1M89.1 340.7h.1M88.2 328.1h.1M93.5 325.5h.1M86.4 337.4h.1M87.8 332.4h.1M89.4 334.4h.1M91.6 340.2h.1M89.6 341.2h.1M94.1 343.1h.1M89.7 338.5h.1M89.3 324.8h.1M86.2 327.0h.1M92.2 336.0h.1M85.9 342.2h.1M89.5 326.9h.1M92.2 334.2h.1M93.2 333.6h.1M91.5 332.3h.1M92.2 329.6h.1M87.5 331.2h.1M85.2 330.8h.1M88.7 327.6h.1M87.5 333.8h.1M92.5 332.8h.1M84.7 338.5h.1M87.6 336.7h.1M88.1 343.4h.1M87.3 330.3h.1M89.9 341.5h.1M85.6 331.7h.1M92.6 338.1h.1M92.1 339.5h.1M87.8 333.3h.1M93.6 332.8h.1M93.2 335.4h.1M88.3 326.6h.1M93.0 334.3h.1M93.8 326.3h.1M91.9 330.4h.1M87.6 337.5h.1M93.9 342.7h.1M93.0 342.2h.1M87.8 330.0h.1M86.3 327.5h.1M92.5 335.7h.1M90.2 333.5h.1M86.1 332.5h.1M89.5 338.6h.1M89.2 336.3h.1M94.7 334.7h.1M88.9 335.5h.1M88.1 336.0h.1M85.4 337.4h.1M88.3 341.1h.1M93.9 341.8h.1M86.4 343.9h.1M88.5 339.8h.1M93.6 326.6h.1M85.3 333.2h.1M87.1 338.6h.1M92.6 330.3h.1M86.1 336.5h.1M94.0 327.9h.1M92.4 327.6h.1M86.4 332.5h.1M90.5 326.8h.1M90.0 332.9h.1M90.7 329.4h.1M87.7 340.3h.1M89.3 331.9h.1M88.0 331.8h.1M89.0 339.4h.1M85.6 335.3h.1M92.7 326.5h.1M92.5 329.2h.1M88.6 337.0h.1M90.9 329.0h.1M89.2 330.0h.1M88.5 336.4h.1M88.5 333.4h.1M92.6 329.5h.1M89.4 334.4h.1M91.1 336.7h.1M92.9 325.6h.1M88.6 329.4h.1M91.6 331.1h.1M87.3 341.3h.1M91.4 325.0h.1M91.6 332.9h.1M92.2 328.9h.1M93.0 337.6h.1M91.6 340.6h.1M93.8 326.6h.1M87.8 340.1h.1M89.4 339.4h.1M84.3 328.4h.1M86.3 341.4h.1M87.6 331.3h.1M91.7 338.4h.1M92.9 326.7h.1M85.9 333.8h.1M93.0 336.3h.1M87.4 340.5h.1M87.8 340.1h.1M92.0 335.6h.1M92.5 326.5h.1M90.9 332.1h.1M89.2 332.4h.1M89.3 343.0h.1M93.2 337.8h.1M88.3 333.5h.1M92.2 332.7h.1M91.9 339.3h.1M89.8 327.4h.1M93.6 338.9h.1M88.9 337.1h.1M91.2 333.3h.1M90.2 337.6h.1M89.6 332.5h.1M89.7 327.3h.1M90.3 334.0h.1M91.1 328.1h.1M87.3 326.7h.1M94.2 333.5h.1M93.2 339.8h.1M87.7 330.1h.1M93.7 334.6h.1M90.3 342.7h.1M86.4 339.8h.1M91.2 341.4h.1M88.0 336.5h.1M91.7 336.3h.1M92.7 335.1h.1M89.8 336.4h.1M85.0 333.7h.1M91.2 332.7h.1M91.0 329.7h.1M91.9 327.5h.1M88.5 331.2h.1M92.9 339.5h.1M95.0 335.0h.1M89.1 328.5h.1M88.4 339.8h.1M87.6 327.0h.1M82.8 340.2h.1M86.9 337.2h.1M88.1 334.0h.1M87.2 333.7h.1M92.3 338.4h.1M89.5 324.8h.1M90.4 324.4h.1M88.4 335.9h.1M89.6 329.7h.1M90.9 332.6h.1M89.0 334.5h.1M89.3 324.8h.1M90.3 342.4h.1M91.2 337.9h.1M93.5 327.1h.1M86.8 339.2h.1M89.9 334.5h.1M91.0 337.5h.1M86.3 338.1h.1M93.3 343.1h.1M90.1 329.1h.1M87.2 343.2h.1M92.5 334.0h.1M92.5 328.5h.1M90.5 331.4h.1M93.0 333.0h.1M85.9 340.3h.1M90.5 333.9h.1M91.4 326.6h.1M93.3 337.7h.1M90.5 335.8h.1M89.3 337.9h.1M89.4 326.6h.1M89.4 341.2h.1M90.6 340.2h.1M93.3 325.1h.1M91.0 334.2h.1M90.9 328.9h.1M92.8 334.0h.1M85.4 325.8h.1M90.9 341.8h.1M89.9 329.9h.1M91.5 336.9h.1M88.3 335.2h.1M89.0 332.3h.1M92.6 329.1h.1M85.2 342.4h.1M87.9 326.2h.1M90.0 329.6h.1M92.6 330.9h.1M87.4 336.9h.1M91.5 333.1h.1M87.7 325.7h.1M88.3 334.7h.1M89.9 339.6h.1M90.3 337.5h.1M93.2 333.0h.1M94.8 330.9h.1M87.3 325.6h.1M92.0 334.7h.1M91.1 336.1h.1M86.7 333.0h.1M92.0 341.9h.1M92.4 329.3h.1M90.6 339.1h.1M92.9 337.8h.1M85.9 341.1h.1M86.7 342.7h.1M92.0 329.9h.1M87.6 341.5h.1M90.3 333.0h.1M88.5 337.7h.1M86.5 343.0h.1M92.4 336.3h.1M93.2 337.1h.1M87.3 327.8h.1M87.9 335.9h.1M93.1 329.4h.1M93.9 333.0h.1M94.1 332.5h.1M90.5 342.5h.1M88.5 335.5h.1M89.4 336.7h.1M87.1 328.8h.1M89.9 331.4h.1M87.6 341.5h.1M86.2 326.6h.1M87.0 343.0h.1M85.5 332.6h.1M87.8 332.6h.1M91.3 334.8h.1M90.9 332.6h.1M92.3 333.3h.1M93.4 331.3h.1M91.5 337.0h.1M93.0 328.9h.1M90.5 328.8h.1M93.6 333.2h.1M86.9 327.8h.1M90.7 333.6h.1M94.0 333.6h.1M90.8 339.5h.1M90.5 327.1h.1M91.5 332.9h.1M87.6 339.4h.1M91.7 330.6h.1M85.1 340.1h.1M87.4 338.1h.1M85.8 326.0h.1M86.8 333.0h.1M93.8 340.3h.1M85.6 334.4h.1M88.3 337.0h.1M88.8 341.0h.1M90.7 337.2h.1M91.5 334.7h.1M88.7 338.6h.1M86.9 333.3h.1M93.3 326.2h.1M86.5 329.7h.1M86.1 335.6h.1M87.4 341.3h.1M90.2 336.7h.1M92.9 329.3h.1M92.4 342.6h.1M90.5 334.1h.1M89.9 329.5h.1M91.3 335.6h.1M91.1 331.4h.1M89.1 326.5h.1M87.0 337.9h.1M87.5 337.9h.1M92.7 341.7h.1M90.9 328.2h.1M93.1 342.4h.1M85.8 340.3h.1M91.3 328.7h.1M89.7 333.1h.1M93.3 335.2h.1M89.5 331.9h.1M89.9 327.9h.1M91.6 340.7h.1M92.4 327.7h.1M91.5 333.2h.1M85.6 333.2h.1M91.0 341.4h.1M88.1 334.6h.1M87.7 333.0h.1M85.8 343.1h.1M87.7 331.9h.1M91.9 349.5h.1M91.7 349.9h.1M89.6 346.8h.1M91.1 345.7h.1M91.3 348.1h.1M89.3 350.4h.1M89.3 346.8h.1M92.0 349.4h.1M88.6 349.3h.1M92.7 349.4h.1M90.8 346.5h.1M92.6 344.1h.1M91.9 348.6h.1M90.6 349.4h.1M89.9 350.4h.1M91.8 343.8h.1M90.6 343.4h.1M89.1 347.3h.1M91.9 349.7h.1M92.8 343.2h.1M90.6 347.5h.1M91.9 344.8h.1M90.8 351.0h.1M91.4 345.6h.1M90.7 343.1h.1M89.1 348.6h.1M89.4 344.9h.1M89.9 346.0h.1M92.3 343.6h.1M89.6 345.2h.1M90.6 343.6h.1M93.0 344.8h.1M89.1 346.8h.1M92.7 345.1h.1M90.2 347.9h.1M89.7 349.8h.1M89.3 346.8h.1M90.8 342.7h.1M88.6 350.0h.1M93.6 344.3h.1M93.6 345.5h.1M92.7 347.3h.1M90.7 347.6h.1M91.8 345.4h.1M93.4 346.3h.1M92.3 348.1h.1M91.0 346.3h.1M91.9 344.9h.1M90.2 345.9h.1M91.6 345.8h.1M89.7 344.9h.1M90.0 347.2h.1M91.3 346.8h.1M92.1 346.0h.1M92.0 348.8h.1M91.4 349.5h.1M91.6 348.1h.1M92.1 345.4h.1M91.5 350.6h.1M91.7 343.4h.1M92.2 349.6h.1M89.7 346.0h.1M91.2 345.8h.1M92.1 350.0h.1M91.7 348.2h.1M91.1 350.8h.1M91.8 350.2h.1M91.6 343.5h.1M92.8 347.2h.1M92.1 349.3h.1M90.6 343.2h.1M91.6 347.2h.1M89.6 350.6h.1M91.6 344.5h.1M91.5 343.5h.1M92.4 345.0h.1M91.8 345.4h.1M91.6 344.9h.1M92.2 346.2h.1M89.3 349.1h.1M92.5 347.2h.1M92.4 347.8h.1M92.3 343.5h.1M90.3 343.0h.1M89.1 350.1h.1M91.1 345.4h.1M90.8 350.5h.1M90.8 345.3h.1M89.6 347.5h.1M92.1 348.3h.1M90.8 343.2h.1M90.6 343.1h.1M91.9 346.3h.1M93.2 343.7h.1M91.0 345.0h.1M92.9 344.2h.1M92.1 345.2h.1M91.2 346.3h.1M89.3 345.0h.1M93.1 345.4h.1M93.3 347.2h.1M90.8 348.2h.1M89.5 342.8h.1M91.8 351.2h.1M90.7 346.1h.1M92.1 350.7h.1M91.4 342.5h.1M93.3 343.1h.1M90.8 343.3h.1M90.9 350.2h.1M90.7 345.9h.1M91.5 349.8h.1M92.7 348.8h.1M93.0 343.3h.1M92.5 345.6h.1M93.0 345.4h.1M92.8 346.4h.1M90.6 348.7h.1M91.9 343.2h.1M89.2 349.9h.1M91.4 346.5h.1M91.3 345.6h.1M90.0 348.1h.1M89.8 344.8h.1M90.5 348.4h.1M93.6 346.1h.1M91.6 346.6h.1M79.6 340.7h.1M83.8 344.7h.1M78.6 342.6h.1M83.2 344.5h.1M80.2 341.8h.1M85.1 347.2h.1M80.6 340.4h.1M85.2 343.7h.1M84.0 346.1h.1M80.3 343.9h.1M84.8 343.2h.1M82.7 341.6h.1M82.1 341.2h.1M80.9 342.8h.1M79.8 340.2h.1M84.2 345.2h.1M79.3 341.8h.1M81.6 340.9h.1M79.0 342.5h.1M85.9 345.2h.1M83.1 344.3h.1M83.1 343.3h.1M84.0 344.0h.1M85.7 345.6h.1M85.1 343.3h.1M83.3 343.9h.1M80.5 322.3h.1M82.1 324.0h.1M78.8 325.3h.1M81.7 321.8h.1M87.9 323.0h.1M92.7 322.9h.1M79.4 321.8h.1M90.7 323.9h.1M86.5 325.4h.1M77.7 322.6h.1M76.2 324.4h.1M91.0 325.1h.1M80.0 322.6h.1M77.8 325.2h.1M87.1 324.5h.1M88.0 324.1h.1M91.2 322.3h.1M84.5 322.6h.1M81.3 321.9h.1M81.4 325.1h.1M86.3 352.5h.1M76.2 347.9h.1M82.4 358.7h.1M78.0 348.0h.1M85.7 347.9h.1M83.0 354.5h.1M88.2 350.8h.1M85.2 355.0h.1M76.4 344.8h.1M80.2 344.7h.1M83.1 355.2h.1M87.8 349.0h.1M80.2 357.4h.1M77.6 346.2h.1M79.0 346.3h.1M78.5 357.5h.1M77.2 348.5h.1M79.8 344.0h.1M78.5 346.0h.1M82.1 355.9h.1M87.5 346.8h.1M88.4 352.0h.1M77.2 357.0h.1M83.0 353.0h.1M84.4 355.5h.1M77.1 359.6h.1M82.4 347.4h.1M77.8 357.8h.1M80.1 351.9h.1M79.5 345.6h.1M86.4 344.4h.1M78.3 347.9h.1M82.6 344.5h.1" stroke="#000" stroke-width="0.8" stroke-linecap="round" fill="none"/>
<path d="M196.5 339.9h.1M194.6 346.3h.1M195.0 362.0h.1M194.5 336.3h.1M194.0 345.1h.1M195.3 349.8h.1M194.9 359.0h.1M195.2 349.0h.1M196.4 335.5h.1M195.5 345.5h.1M194.1 349.3h.1M194.1 344.7h.1M194.8 346.5h.1M195.5 344.3h.1M193.9 357.2h.1M193.7 358.7h.1M194.1 362.9h.1M195.4 338.0h.1M193.6 363.2h.1M195.7 355.6h.1M196.5 345.6h.1M193.9 348.0h.1M196.1 335.9h.1M193.9 356.8h.1M194.0 359.8h.1M193.3 358.3h.1M194.0 348.1h.1M193.6 354.4h.1M194.1 349.4h.1M195.9 342.4h.1M193.7 353.5h.1M196.5 343.1h.1M195.0 362.7h.1M194.6 346.7h.1M196.8 335.9h.1M197.9 335.3h.1M194.2 345.9h.1M196.9 333.5h.1M194.5 356.1h.1M194.3 354.2h.1M194.5 349.6h.1M194.0 347.8h.1M196.1 338.4h.1M194.2 349.6h.1M194.1 361.8h.1M196.7 342.1h.1M194.2 356.5h.1M195.4 336.4h.1M195.7 356.9h.1M195.0 354.3h.1M194.6 359.1h.1M194.1 354.1h.1M195.7 345.0h.1M194.4 355.2h.1M194.4 361.8h.1M195.0 345.5h.1M194.3 340.9h.1M195.4 360.0h.1M195.5 350.4h.1M195.5 361.3h.1M193.7 362.8h.1M194.3 351.9h.1M193.8 354.5h.1M195.4 336.6h.1M193.8 362.9h.1M194.5 343.6h.1M194.8 340.9h.1M194.4 350.6h.1M196.1 348.1h.1M194.5 355.8h.1M195.5 355.7h.1M193.1 361.6h.1M195.2 335.6h.1M195.4 362.5h.1M193.3 359.1h.1M194.3 341.2h.1M195.1 349.4h.1M194.6 347.7h.1M194.0 354.3h.1M194.8 358.4h.1M196.0 339.0h.1M193.6 359.5h.1M194.8 354.3h.1M195.4 340.4h.1M195.6 354.3h.1M195.0 334.1h.1M193.8 357.9h.1M195.3 347.3h.1M193.9 346.9h.1M196.0 348.1h.1M197.0 339.8h.1M193.8 361.9h.1M195.9 346.7h.1M194.9 339.2h.1M195.4 361.8h.1M194.4 346.6h.1M193.7 349.8h.1M193.8 350.9h.1M195.1 346.9h.1M194.1 344.2h.1M196.9 342.0h.1M196.6 336.1h.1M195.6 343.3h.1M197.2 333.1h.1M195.2 343.1h.1M195.7 355.2h.1M195.0 358.9h.1M194.2 361.1h.1M194.1 355.1h.1M193.5 359.6h.1M194.9 342.5h.1M195.0 342.3h.1M194.2 344.6h.1M196.0 351.7h.1M194.4 349.2h.1M194.8 355.4h.1M194.9 335.1h.1M194.4 362.8h.1M195.2 353.6h.1M194.1 345.8h.1M195.7 357.9h.1M194.8 337.1h.1M194.5 348.7h.1M195.5 352.1h.1M193.9 361.4h.1M195.7 354.8h.1M194.6 345.3h.1M194.2 354.7h.1M194.8 362.0h.1M196.2 345.7h.1M195.7 354.1h.1M195.1 337.4h.1M195.5 342.3h.1M195.2 341.3h.1M196.6 336.4h.1M194.8 338.6h.1M195.6 353.3h.1M195.8 346.0h.1M193.9 355.4h.1M194.1 357.1h.1M194.2 357.0h.1M195.5 360.0h.1M194.5 356.0h.1M194.9 356.5h.1M196.6 342.9h.1M194.4 355.6h.1M195.4 362.0h.1M194.4 350.4h.1M193.3 357.1h.1M194.3 342.3h.1M195.1 356.6h.1M194.9 346.3h.1M195.4 358.0h.1M195.2 348.6h.1M196.5 337.1h.1M194.4 354.1h.1M195.4 347.3h.1M195.5 350.0h.1M194.0 361.2h.1M194.2 362.7h.1M196.8 337.9h.1M195.9 353.0h.1M195.0 342.4h.1M193.8 350.7h.1M196.8 338.0h.1M194.4 357.4h.1M196.3 348.7h.1M195.9 346.7h.1M195.2 339.1h.1M195.2 362.5h.1M195.0 352.3h.1M195.6 348.9h.1M196.3 345.5h.1M194.7 359.0h.1M196.4 346.8h.1M195.2 342.2h.1M195.2 341.0h.1M195.0 356.5h.1M194.8 349.9h.1M195.3 354.3h.1M195.0 351.5h.1M195.5 352.3h.1M197.5 334.9h.1M194.4 362.9h.1M197.8 334.9h.1M195.0 362.3h.1M195.3 361.0h.1M193.4 357.0h.1M193.5 354.5h.1M196.3 337.3h.1M195.2 337.6h.1M197.6 335.2h.1M194.6 351.4h.1M194.9 362.9h.1M194.6 344.2h.1M196.6 336.1h.1M195.4 360.1h.1M196.8 338.2h.1M193.9 363.2h.1M195.5 341.0h.1M195.2 348.3h.1M195.7 335.6h.1M195.9 336.7h.1M195.5 362.0h.1M196.1 348.2h.1M194.2 355.9h.1M195.5 350.0h.1M195.5 361.4h.1M194.5 352.3h.1M195.8 350.9h.1M195.0 363.2h.1M196.1 348.9h.1M194.8 335.8h.1M195.4 361.5h.1M198.0 335.0h.1M194.4 348.4h.1M194.9 356.9h.1M195.2 333.6h.1M195.3 348.9h.1M195.5 350.0h.1M195.5 351.9h.1M197.2 336.8h.1M193.9 359.3h.1M193.6 356.8h.1M195.5 354.7h.1M193.1 361.3h.1M195.0 337.5h.1M194.4 348.4h.1M196.0 345.0h.1M195.9 336.4h.1M196.0 348.3h.1M195.1 354.9h.1M196.1 347.2h.1M195.9 348.1h.1M195.7 354.3h.1M194.1 356.2h.1M194.5 352.4h.1M195.9 341.0h.1M194.7 358.3h.1M197.7 333.3h.1M195.4 356.2h.1M194.2 355.0h.1M193.5 359.5h.1M195.5 351.4h.1M195.4 352.0h.1M194.8 342.5h.1M194.7 335.8h.1M193.5 355.7h.1M194.9 338.6h.1M194.2 353.9h.1M194.2 350.9h.1M193.3 359.3h.1M195.0 336.0h.1M194.5 351.9h.1M194.3 341.9h.1M193.5 362.5h.1M195.3 342.1h.1M195.5 356.5h.1M196.0 349.6h.1M195.2 342.8h.1M193.6 358.1h.1M194.5 347.2h.1M196.3 338.0h.1M194.3 358.3h.1M195.2 349.1h.1M195.1 357.7h.1M194.9 359.0h.1M196.0 348.5h.1M194.0 349.4h.1M194.8 343.7h.1M194.4 336.9h.1M195.5 341.8h.1M195.1 353.1h.1M194.4 348.5h.1M194.2 342.7h.1M195.6 337.8h.1M194.5 342.5h.1M194.3 348.0h.1M194.1 359.2h.1M197.3 337.2h.1M194.4 354.7h.1M195.5 351.0h.1M195.6 336.3h.1M194.3 357.0h.1M195.1 335.3h.1M193.8 356.3h.1M195.1 360.7h.1M194.9 347.7h.1M195.0 339.1h.1M196.2 351.1h.1M196.9 337.9h.1M194.3 351.2h.1M195.5 338.5h.1M194.6 359.9h.1M193.9 354.6h.1M194.2 359.6h.1M194.9 340.8h.1M195.9 349.1h.1M194.3 343.3h.1M195.9 356.1h.1M194.8 340.9h.1M196.2 333.1h.1M193.3 360.8h.1M195.8 353.7h.1M197.0 337.1h.1M194.5 337.1h.1M196.1 336.8h.1M194.3 356.4h.1M195.5 346.2h.1M193.9 360.7h.1M196.2 350.3h.1M194.5 345.7h.1M195.5 355.5h.1M194.4 350.4h.1M195.2 352.2h.1M194.2 360.7h.1M194.4 361.2h.1M195.7 339.5h.1M194.5 363.2h.1M195.2 333.1h.1M194.7 335.8h.1M198.3 333.7h.1M194.9 339.4h.1M193.8 363.2h.1M193.7 359.7h.1M195.1 353.6h.1M195.8 357.9h.1M194.1 361.4h.1M195.7 335.3h.1M195.7 335.6h.1M194.2 339.9h.1M193.6 355.5h.1M194.4 337.1h.1M195.1 338.4h.1M196.0 353.5h.1M193.5 359.4h.1M194.6 359.2h.1M194.2 350.8h.1M194.3 337.7h.1M195.2 361.0h.1M194.0 350.2h.1M193.9 352.5h.1M197.1 336.4h.1M193.8 358.6h.1M194.5 343.3h.1M195.9 353.5h.1M194.5 343.6h.1M196.7 338.4h.1M195.1 338.2h.1M196.0 337.6h.1M194.3 354.4h.1M194.3 354.9h.1M195.5 359.6h.1M195.7 355.6h.1M193.6 359.6h.1M196.3 339.5h.1M193.4 361.8h.1M194.0 357.4h.1M194.3 339.2h.1M196.0 340.0h.1M197.4 334.0h.1M195.5 351.7h.1M195.0 362.0h.1M204.7 337.2h.1M200.0 330.6h.1M196.6 328.7h.1M204.9 336.4h.1M214.3 327.9h.1M205.8 332.5h.1M208.8 335.4h.1M213.7 337.2h.1M213.0 332.0h.1M211.0 327.0h.1M206.5 330.6h.1M200.6 329.7h.1M210.1 328.8h.1M204.6 329.2h.1M209.8 328.4h.1M200.9 326.1h.1M213.6 332.8h.1M200.7 326.2h.1M211.9 332.9h.1M212.0 330.5h.1M199.8 334.4h.1M212.0 332.5h.1M210.5 331.7h.1M207.8 335.9h.1M201.4 331.8h.1M203.2 337.4h.1M201.2 333.8h.1M205.1 336.3h.1M210.4 337.1h.1M210.7 334.4h.1M210.8 328.5h.1M204.4 332.1h.1M202.4 326.7h.1M212.7 334.2h.1M215.7 333.1h.1M202.0 336.1h.1M203.9 327.0h.1M202.9 326.4h.1M215.4 333.4h.1M196.8 334.6h.1M215.6 325.7h.1M211.7 325.5h.1M202.9 328.9h.1M209.8 328.9h.1M204.7 326.4h.1M209.8 327.5h.1M205.4 329.5h.1M215.0 326.7h.1M206.8 328.1h.1M210.9 326.8h.1M207.2 331.0h.1M203.1 333.8h.1M215.0 333.7h.1M201.9 332.7h.1M214.4 330.8h.1M214.2 327.2h.1M212.5 325.6h.1M209.2 327.4h.1M208.1 335.3h.1M214.1 335.3h.1M205.3 332.0h.1M210.6 332.6h.1M212.1 334.4h.1M213.2 335.6h.1M205.7 327.7h.1M208.2 334.6h.1M198.0 331.5h.1M197.8 326.7h.1M199.2 327.1h.1M210.7 328.9h.1M203.7 330.2h.1M215.4 337.1h.1M199.7 335.9h.1M199.6 327.0h.1M211.9 328.3h.1M206.3 330.4h.1M200.8 328.2h.1M212.7 329.3h.1M202.8 334.5h.1M214.5 328.5h.1M201.9 332.5h.1M213.0 328.7h.1M205.1 335.7h.1M213.4 331.2h.1M202.1 329.2h.1M214.9 334.0h.1M202.2 328.8h.1M205.1 330.1h.1M208.3 328.9h.1M206.0 330.9h.1M210.8 328.7h.1M207.8 328.1h.1M201.4 326.1h.1M197.7 335.9h.1M209.1 328.2h.1M208.7 330.6h.1M208.6 331.2h.1M205.4 328.5h.1M214.4 328.6h.1M201.5 330.1h.1M214.3 331.0h.1M200.2 331.7h.1M210.1 327.8h.1M215.7 333.0h.1M200.3 335.6h.1M212.5 328.9h.1M202.6 329.3h.1M197.0 332.4h.1M205.2 329.0h.1M210.4 334.6h.1M201.0 325.3h.1M215.8 332.8h.1M197.1 331.3h.1M202.3 327.3h.1M202.5 335.2h.1M203.9 327.9h.1M202.8 334.3h.1M197.1 334.2h.1M201.0 336.7h.1M200.0 327.2h.1M210.7 327.7h.1M203.0 325.4h.1M208.4 329.1h.1M204.3 334.4h.1M202.6 333.7h.1M200.4 326.4h.1M200.4 326.5h.1M214.0 333.7h.1M204.6 332.2h.1M204.8 324.6h.1M201.5 330.7h.1M215.0 329.3h.1M209.1 329.1h.1M210.5 326.9h.1M211.0 338.8h.1M202.0 330.7h.1M211.2 333.1h.1M196.9 327.9h.1M208.3 330.9h.1M201.9 333.4h.1M207.9 334.4h.1M200.5 335.7h.1M202.7 328.6h.1M208.1 329.3h.1M214.5 328.3h.1M203.8 329.0h.1M199.0 334.6h.1M198.8 329.5h.1M209.4 328.0h.1M213.3 332.0h.1M196.7 331.3h.1M204.1 329.4h.1M200.9 325.2h.1M215.3 332.5h.1M199.3 326.4h.1M200.1 333.7h.1M212.8 327.5h.1M215.1 328.2h.1M211.2 331.7h.1M200.2 336.0h.1M203.8 329.8h.1M207.0 333.0h.1M213.7 330.7h.1M210.3 325.7h.1M197.9 328.3h.1M204.0 335.5h.1M210.9 336.2h.1M205.3 327.9h.1M211.4 335.3h.1M216.3 327.2h.1M216.2 333.8h.1M212.8 325.5h.1M208.5 330.2h.1M203.8 330.1h.1M200.9 331.8h.1M200.9 336.8h.1M208.0 330.6h.1M211.7 322.9h.1M212.4 327.1h.1M212.9 335.1h.1M201.3 328.8h.1M203.6 326.2h.1M201.6 326.2h.1M205.8 337.3h.1M216.1 330.1h.1M212.3 325.6h.1M204.7 332.5h.1M199.5 330.8h.1M212.5 333.0h.1M214.5 337.6h.1M210.9 332.6h.1M201.4 333.9h.1M204.5 336.0h.1M205.9 331.3h.1M214.1 329.4h.1M202.5 336.5h.1M205.0 337.0h.1M198.8 334.6h.1M197.5 329.8h.1M202.2 330.1h.1M212.1 325.8h.1M208.7 326.6h.1M205.6 335.4h.1M204.5 332.0h.1M203.0 335.0h.1M212.6 333.2h.1M206.4 332.3h.1M197.6 336.2h.1M207.9 331.7h.1M215.2 333.2h.1M199.6 330.7h.1M215.7 328.2h.1M198.8 333.8h.1M202.0 326.4h.1M215.9 336.5h.1M215.2 336.7h.1M200.4 335.8h.1M210.4 331.3h.1M209.9 331.0h.1M204.2 330.8h.1M213.0 331.0h.1M209.9 328.1h.1M201.2 335.2h.1M206.9 334.1h.1M210.0 332.4h.1M207.8 334.2h.1M206.8 329.6h.1M209.8 335.4h.1M200.0 337.7h.1M197.8 333.3h.1M198.1 335.8h.1M209.2 334.9h.1M202.2 333.7h.1M212.7 331.1h.1M213.4 326.3h.1M199.2 327.9h.1M203.2 335.8h.1M204.9 327.8h.1M208.3 332.0h.1M212.3 327.0h.1M208.3 334.3h.1M202.6 338.2h.1M207.6 333.0h.1M203.7 325.9h.1M207.3 335.1h.1M198.4 330.9h.1M206.8 335.5h.1M208.7 327.4h.1M208.6 327.4h.1M205.9 337.0h.1M206.8 335.6h.1M210.3 335.7h.1M199.1 330.5h.1M210.8 333.5h.1M207.6 337.5h.1M210.2 332.6h.1M204.0 325.6h.1M197.4 327.7h.1M213.3 324.1h.1M212.0 324.8h.1M215.8 325.5h.1M206.0 329.4h.1M213.1 332.4h.1M213.1 335.0h.1M207.4 330.5h.1M215.5 327.2h.1M211.5 335.5h.1M199.3 335.7h.1M200.1 337.4h.1M203.7 326.7h.1M207.0 333.2h.1M209.2 333.4h.1M207.0 328.7h.1M213.7 326.8h.1M212.7 335.9h.1M199.9 331.9h.1M203.1 324.5h.1M213.6 330.8h.1M213.1 334.2h.1M196.3 327.3h.1M208.8 334.6h.1M200.1 327.7h.1M206.4 329.8h.1M216.0 329.4h.1M198.5 326.6h.1M212.9 334.4h.1M207.1 328.9h.1M214.9 334.1h.1M213.1 334.8h.1M198.2 329.9h.1M208.5 324.6h.1M212.9 333.2h.1M201.1 329.1h.1M210.7 334.8h.1M203.2 327.6h.1M202.3 334.9h.1M204.3 325.7h.1M201.6 327.6h.1M216.2 327.9h.1M200.7 337.1h.1M204.8 331.1h.1M207.6 333.6h.1M208.8 326.5h.1M215.7 329.0h.1M208.6 335.5h.1M212.8 332.3h.1M198.6 335.2h.1M209.6 331.9h.1M199.8 327.0h.1M214.1 337.5h.1M209.1 327.4h.1M198.3 328.1h.1M212.3 333.2h.1M206.4 327.6h.1M204.9 334.7h.1M197.5 334.7h.1M213.9 329.9h.1M206.3 332.4h.1M211.5 331.5h.1M197.9 328.4h.1M210.0 325.9h.1M202.9 330.7h.1M206.1 326.1h.1M210.0 327.9h.1M213.5 329.3h.1M212.6 333.2h.1M198.9 330.2h.1M213.2 326.3h.1M198.1 334.9h.1M197.0 333.3h.1M202.2 334.5h.1M202.8 333.2h.1M209.0 328.7h.1M205.4 335.3h.1M203.1 332.7h.1M212.5 327.4h.1M214.2 333.1h.1M207.3 332.7h.1M209.5 333.1h.1M213.6 332.0h.1M202.2 335.5h.1M215.1 334.3h.1M200.7 332.2h.1M198.9 324.8h.1M212.4 328.8h.1M200.7 337.6h.1M203.2 329.8h.1M206.1 333.6h.1M198.2 328.2h.1M205.1 332.2h.1M203.3 333.5h.1M198.4 334.6h.1M209.0 335.1h.1M205.8 330.4h.1M208.0 328.8h.1M200.4 330.9h.1M211.8 331.5h.1M208.0 330.6h.1M200.6 330.4h.1M203.6 332.8h.1M199.2 329.9h.1M204.5 332.3h.1M214.1 331.0h.1M203.2 328.8h.1M203.8 331.6h.1M210.8 330.6h.1M198.8 334.6h.1M198.9 330.5h.1M209.7 330.0h.1M199.5 334.3h.1M207.0 328.4h.1M211.3 332.4h.1M206.5 329.9h.1M198.3 330.9h.1M200.9 334.5h.1M206.1 330.2h.1M213.0 328.1h.1M207.8 328.7h.1M209.1 331.5h.1M207.3 331.4h.1M202.4 329.8h.1M207.3 330.6h.1M197.0 330.7h.1M204.3 333.1h.1M210.7 329.2h.1M200.6 332.3h.1M208.4 332.9h.1M209.0 328.7h.1M200.0 334.4h.1M211.6 329.8h.1M201.3 332.3h.1M213.1 328.3h.1M203.0 332.4h.1M207.6 331.9h.1M213.2 330.2h.1M211.3 332.2h.1M205.3 330.8h.1M200.0 328.7h.1M207.9 333.0h.1M207.1 331.1h.1M198.2 332.5h.1M203.6 331.8h.1M212.2 327.0h.1M205.8 329.6h.1M199.8 329.2h.1M208.1 331.4h.1M205.0 333.1h.1M212.7 330.7h.1M205.7 332.8h.1M197.3 330.9h.1M199.4 328.9h.1M199.9 331.1h.1M212.8 327.7h.1M203.0 330.1h.1M202.8 329.7h.1M213.3 327.7h.1M200.7 332.7h.1M207.7 331.1h.1M213.4 331.6h.1M213.0 332.6h.1M199.5 330.1h.1M205.5 333.6h.1M201.5 333.1h.1M209.0 330.7h.1M201.5 334.3h.1M200.0 331.7h.1M201.3 328.6h.1M198.9 329.5h.1M209.0 329.2h.1M201.9 332.6h.1M203.9 331.5h.1M201.8 332.5h.1M203.1 328.3h.1M202.0 329.8h.1M203.1 331.6h.1M209.2 331.2h.1M199.9 331.2h.1M208.4 328.7h.1M202.8 330.1h.1M198.8 333.4h.1M199.2 333.0h.1M212.1 328.3h.1M198.1 334.6h.1M201.4 328.7h.1M211.4 328.3h.1M198.3 331.5h.1M200.8 333.4h.1M201.6 331.8h.1M211.4 331.0h.1M199.3 334.4h.1M212.9 328.9h.1M198.8 329.8h.1M206.5 330.2h.1M210.2 330.5h.1M206.2 328.6h.1M205.2 328.2h.1M204.6 332.4h.1M201.7 334.4h.1M214.3 332.1h.1M203.8 330.4h.1M207.8 330.2h.1M207.2 332.6h.1M213.8 332.5h.1M201.1 330.6h.1M200.0 334.4h.1M212.5 331.0h.1M205.3 328.8h.1M207.9 330.2h.1M207.2 327.6h.1M210.2 329.6h.1M211.3 330.1h.1M209.2 332.1h.1M197.0 331.0h.1M211.4 330.8h.1M197.8 332.9h.1M211.6 330.0h.1M197.1 332.7h.1M210.1 329.9h.1M208.0 331.2h.1M197.4 331.7h.1M210.2 332.6h.1M206.5 328.4h.1M199.3 333.9h.1M212.2 331.3h.1M206.6 327.8h.1M205.1 332.3h.1M212.9 328.8h.1M200.5 331.6h.1M200.0 331.7h.1M212.4 331.2h.1M199.7 331.6h.1M211.0 330.8h.1M200.4 329.9h.1M210.4 327.5h.1M204.1 332.1h.1M208.0 333.5h.1M206.9 328.1h.1M204.0 333.6h.1M205.7 330.2h.1M208.2 331.4h.1M199.2 330.3h.1M212.8 330.9h.1M210.9 329.6h.1M200.8 333.3h.1M202.3 325.2h.1M203.3 324.9h.1M208.9 322.4h.1M199.0 325.4h.1M215.5 323.6h.1M208.5 323.7h.1M215.5 322.6h.1M200.4 323.0h.1M210.5 323.7h.1M200.8 321.6h.1M198.6 324.4h.1M205.4 322.9h.1M206.0 324.3h.1M207.6 324.4h.1M205.9 324.0h.1M200.7 321.8h.1M210.0 323.8h.1M202.1 322.9h.1M202.5 324.4h.1M211.8 324.3h.1M210.0 323.5h.1M210.8 324.4h.1M215.1 351.4h.1M214.3 344.7h.1M214.2 347.9h.1M215.4 346.2h.1M214.2 344.8h.1M211.0 349.8h.1M215.1 347.1h.1M210.1 346.8h.1M213.1 348.6h.1M210.6 347.4h.1M214.1 346.4h.1M211.9 345.6h.1M214.4 345.4h.1M215.3 348.8h.1M216.4 347.4h.1M216.1 346.3h.1M209.8 348.1h.1M215.9 346.4h.1M214.1 351.0h.1M211.7 349.9h.1M214.6 351.7h.1M212.4 346.9h.1M215.5 346.5h.1M215.7 346.7h.1M214.1 348.9h.1M213.2 346.2h.1M210.2 346.9h.1M213.6 352.2h.1M214.8 346.5h.1M210.3 347.6h.1M216.0 349.2h.1M211.0 350.6h.1M212.0 345.5h.1M214.8 345.4h.1M214.0 351.7h.1M210.2 346.0h.1M215.4 349.9h.1M215.6 346.3h.1M214.6 348.3h.1M214.5 347.9h.1M209.9 346.6h.1M213.0 346.1h.1M211.8 345.7h.1M209.5 348.1h.1M211.7 348.8h.1M213.8 351.7h.1M212.6 350.3h.1M215.4 350.1h.1M212.6 352.1h.1M211.1 344.9h.1M209.9 347.0h.1M210.6 346.9h.1M210.3 347.6h.1M214.4 347.6h.1M213.7 347.0h.1M212.7 352.0h.1M212.2 347.8h.1M216.5 347.4h.1M212.8 350.1h.1M212.1 344.6h.1M211.5 345.8h.1M211.6 345.2h.1M210.0 346.9h.1M212.9 345.8h.1M210.6 351.0h.1M216.0 346.7h.1M210.4 346.8h.1M211.5 351.0h.1M211.5 346.1h.1M211.6 344.2h.1M215.0 346.9h.1M211.8 346.6h.1M210.3 347.7h.1M210.9 351.6h.1M209.8 350.1h.1M212.4 351.5h.1M211.3 346.3h.1M215.1 345.3h.1M210.7 346.4h.1M214.0 352.0h.1M216.3 349.1h.1M215.2 345.6h.1M212.0 352.4h.1M211.9 344.9h.1M216.4 346.7h.1M215.8 346.9h.1M211.4 347.5h.1M215.5 346.4h.1M210.3 350.4h.1M215.2 347.2h.1M212.3 346.6h.1M214.9 349.5h.1M214.2 344.6h.1M213.9 349.9h.1M213.4 348.2h.1M216.3 349.5h.1M213.2 343.9h.1M215.0 351.6h.1M209.8 347.2h.1M210.8 350.9h.1M214.9 345.9h.1M212.6 351.7h.1M212.4 344.5h.1M215.0 347.3h.1M214.5 349.0h.1M212.3 344.6h.1M215.5 349.9h.1M213.7 343.9h.1M214.5 346.0h.1M214.5 350.4h.1M214.0 347.2h.1M212.6 348.4h.1M212.5 349.7h.1M215.8 347.5h.1M210.3 351.1h.1M213.3 349.6h.1M212.3 349.7h.1M215.5 346.2h.1M215.0 348.0h.1M212.2 348.5h.1M209.5 348.4h.1M211.8 347.2h.1M214.3 345.7h.1M216.2 348.4h.1M213.9 344.5h.1M216.6 347.5h.1M210.6 350.1h.1M211.7 348.8h.1M214.0 347.9h.1M210.5 350.1h.1M211.1 350.5h.1M214.2 346.5h.1M211.5 348.5h.1M211.7 346.1h.1M212.6 350.5h.1M212.1 345.8h.1M211.5 350.1h.1M213.7 344.5h.1M210.5 348.3h.1M216.0 346.2h.1M210.5 347.3h.1M214.2 346.3h.1M209.7 349.7h.1M211.5 345.1h.1M212.6 352.2h.1M211.5 347.1h.1M211.1 344.5h.1M214.1 351.5h.1M210.8 347.5h.1M214.6 347.2h.1M213.3 349.5h.1M212.3 348.3h.1M213.9 346.5h.1M211.2 349.3h.1M215.6 348.8h.1M210.7 347.8h.1M212.2 348.4h.1M214.3 347.5h.1M212.7 347.7h.1M213.1 347.3h.1M211.6 350.0h.1M215.4 346.1h.1M213.7 346.7h.1M215.9 350.4h.1M211.0 344.5h.1M215.4 346.3h.1M212.5 347.4h.1M214.6 347.9h.1M212.8 351.3h.1M210.0 346.0h.1M209.4 347.3h.1M212.1 351.8h.1M213.7 344.1h.1M212.0 348.8h.1M211.4 345.7h.1M213.5 345.2h.1M212.8 346.2h.1M215.2 350.1h.1M215.6 349.3h.1M214.6 344.3h.1M212.4 347.3h.1M214.2 350.1h.1M214.0 349.5h.1M211.3 348.2h.1M213.9 350.4h.1M215.0 347.1h.1M213.6 352.4h.1M215.0 347.3h.1M212.5 345.2h.1M211.6 347.6h.1M212.2 346.4h.1M212.4 346.3h.1M212.4 351.4h.1M211.0 348.4h.1M214.8 349.1h.1M215.6 349.1h.1M213.4 348.0h.1M215.9 343.6h.1M214.4 337.4h.1M214.4 340.1h.1M215.0 344.4h.1M214.0 338.3h.1M214.6 337.4h.1M214.1 340.7h.1M216.2 341.8h.1M214.0 339.9h.1M214.5 338.7h.1M213.9 342.0h.1M215.8 341.5h.1M215.2 339.6h.1M214.2 341.5h.1M214.6 343.2h.1M216.0 340.8h.1M216.0 339.9h.1M214.0 341.5h.1M214.9 340.8h.1M216.6 337.7h.1M215.8 343.9h.1M215.1 337.9h.1M216.1 342.7h.1M215.5 340.3h.1M214.7 342.8h.1M216.6 340.9h.1M215.9 343.2h.1M214.2 340.6h.1M197.6 347.7h.1M198.7 338.5h.1M209.3 349.0h.1M207.1 356.1h.1M204.1 351.1h.1M209.9 350.6h.1M200.1 348.5h.1M197.1 344.1h.1M209.2 352.7h.1M206.6 345.4h.1M202.1 344.4h.1M205.7 348.4h.1M198.2 356.5h.1M201.7 351.9h.1M205.5 350.8h.1M209.7 340.4h.1M201.7 353.4h.1M197.9 346.0h.1M198.3 349.9h.1M201.6 348.7h.1M206.4 352.9h.1M207.6 338.6h.1M207.4 339.9h.1M210.1 343.3h.1M207.2 341.8h.1M207.1 350.9h.1M205.9 340.2h.1M207.0 339.8h.1M208.0 348.1h.1M211.6 339.3h.1M199.7 353.1h.1M206.6 344.3h.1M198.9 343.7h.1M200.1 349.3h.1M210.9 356.5h.1M203.1 343.4h.1M205.5 342.3h.1M200.2 345.0h.1" stroke="#000" stroke-width="0.8" stroke-linecap="round" fill="none"/>
<path d="M311.9 345.2h.1M311.5 341.5h.1M310.2 359.5h.1M311.7 362.6h.1M310.0 356.0h.1M311.7 355.8h.1M311.4 345.9h.1M312.0 347.5h.1M312.2 345.9h.1M309.8 353.9h.1M312.4 353.4h.1M312.2 341.4h.1M309.2 361.9h.1M309.1 362.5h.1M312.2 362.9h.1M313.5 344.4h.1M311.5 351.2h.1M311.3 347.1h.1M312.5 348.1h.1M310.9 344.3h.1M312.7 351.0h.1M309.4 355.4h.1M308.8 360.3h.1M310.8 353.6h.1M310.6 358.6h.1M311.1 341.7h.1M311.5 345.5h.1M312.7 356.8h.1M312.4 351.4h.1M310.0 352.1h.1M312.9 349.3h.1M312.4 341.3h.1M312.7 357.0h.1M311.2 348.9h.1M310.9 351.5h.1M313.0 341.2h.1M310.7 358.1h.1M311.2 348.1h.1M310.5 361.0h.1M312.1 350.6h.1M312.0 341.0h.1M313.0 346.6h.1M311.3 362.5h.1M313.2 340.5h.1M312.1 350.7h.1M310.9 349.7h.1M313.0 341.4h.1M310.7 349.6h.1M309.5 357.9h.1M311.4 353.2h.1M311.1 345.8h.1M310.0 353.8h.1M311.0 359.3h.1M312.8 354.3h.1M308.8 360.5h.1M310.3 360.8h.1M309.0 360.1h.1M311.7 351.4h.1M311.3 355.7h.1M310.6 359.0h.1M310.7 346.0h.1M312.4 349.1h.1M312.2 344.3h.1M310.9 359.4h.1M312.3 348.9h.1M312.4 357.2h.1M311.3 351.7h.1M312.7 353.0h.1M310.7 349.6h.1M311.5 350.0h.1M311.6 341.9h.1M311.4 348.7h.1M312.5 355.2h.1M313.5 345.0h.1M310.5 359.4h.1M311.5 345.2h.1M311.2 349.8h.1M312.3 357.3h.1M311.9 345.8h.1M309.4 360.3h.1M311.6 362.4h.1M311.0 356.9h.1M311.3 351.5h.1M313.0 348.7h.1M311.9 356.0h.1M310.2 349.7h.1M313.8 340.7h.1M312.5 340.1h.1M311.1 346.4h.1M312.4 356.3h.1M311.2 352.1h.1M312.7 344.6h.1M313.0 342.8h.1M311.7 341.1h.1M312.9 354.4h.1M311.3 355.4h.1M309.6 355.2h.1M312.2 345.1h.1M311.2 341.0h.1M313.2 350.3h.1M311.9 353.0h.1M311.5 347.8h.1M312.3 353.5h.1M312.6 350.1h.1M311.4 358.9h.1M309.5 360.7h.1M309.9 353.6h.1M312.2 357.1h.1M312.1 359.8h.1M312.1 340.9h.1M311.6 347.1h.1M310.9 354.1h.1M312.0 340.2h.1M312.2 360.8h.1M311.2 355.1h.1M312.9 342.8h.1M312.8 340.9h.1M311.0 344.8h.1M309.1 358.6h.1M310.6 350.0h.1M310.4 361.5h.1M310.9 361.7h.1M313.7 343.4h.1M311.8 363.2h.1M311.4 361.0h.1M310.0 360.6h.1M311.5 346.7h.1M312.4 348.7h.1M310.2 358.1h.1M312.2 353.8h.1M313.1 341.3h.1M309.4 358.1h.1M311.6 361.7h.1M310.6 348.1h.1M309.8 360.5h.1M313.1 350.5h.1M311.4 357.3h.1M311.7 362.5h.1M313.2 348.1h.1M311.4 345.8h.1M312.1 356.0h.1M310.2 359.4h.1M311.4 340.5h.1M309.4 357.3h.1M309.5 357.3h.1M311.6 354.7h.1M311.4 357.6h.1M312.1 357.6h.1M311.9 341.8h.1M311.4 361.3h.1M311.6 343.9h.1M311.0 350.8h.1M310.9 362.4h.1M310.2 359.6h.1M313.4 348.2h.1M311.1 350.2h.1M309.9 357.4h.1M312.3 356.6h.1M313.4 341.9h.1M311.1 346.1h.1M311.4 347.8h.1M312.5 341.9h.1M309.3 357.6h.1M310.6 355.5h.1M313.0 343.9h.1M312.3 353.1h.1M310.3 352.7h.1M311.6 344.4h.1M312.0 340.1h.1M312.9 342.7h.1M311.1 345.3h.1M313.0 353.0h.1M310.8 346.8h.1M310.9 357.9h.1M311.6 357.4h.1M312.4 358.6h.1M312.3 347.5h.1M313.4 341.4h.1M312.2 345.7h.1M309.9 356.9h.1M311.6 347.9h.1M311.5 355.1h.1M312.3 344.2h.1M312.4 352.0h.1M311.0 357.4h.1M310.6 356.4h.1M310.5 361.1h.1M311.2 354.8h.1M309.4 355.1h.1M310.9 352.5h.1M312.1 348.0h.1M313.0 341.8h.1M312.0 344.3h.1M312.5 350.0h.1M311.2 354.8h.1M310.2 359.1h.1M310.9 349.4h.1M311.5 361.8h.1M312.0 362.1h.1M312.5 348.4h.1M309.6 359.2h.1M312.8 343.6h.1M311.9 347.7h.1M312.9 351.2h.1M311.1 341.4h.1M311.6 360.2h.1M310.9 356.0h.1M312.7 351.5h.1M312.8 340.9h.1M308.5 361.1h.1M312.3 349.3h.1M312.5 342.0h.1M309.6 359.7h.1M310.9 346.8h.1M311.6 347.2h.1M311.4 354.8h.1M311.5 350.8h.1M311.2 341.5h.1M310.3 352.2h.1M312.0 352.7h.1M311.8 350.1h.1M311.2 362.5h.1M312.0 344.5h.1M309.4 361.8h.1M313.3 340.7h.1M311.8 340.7h.1M311.0 344.2h.1M312.0 342.5h.1M311.6 348.9h.1M310.0 356.0h.1M313.2 349.4h.1M311.1 347.4h.1M309.2 359.7h.1M312.6 345.3h.1M309.8 356.0h.1M310.9 351.3h.1M310.6 356.9h.1M310.2 356.5h.1M312.8 343.0h.1M311.1 345.3h.1M310.9 361.7h.1M311.0 345.3h.1M312.7 341.8h.1M313.4 347.0h.1M312.8 347.3h.1M312.5 357.2h.1M312.1 347.0h.1M310.1 354.3h.1M312.1 341.8h.1M312.8 347.0h.1M309.8 355.5h.1M312.8 342.8h.1M311.6 345.3h.1M312.3 358.7h.1M310.2 358.1h.1M309.5 362.7h.1M311.5 345.3h.1M310.6 361.1h.1M312.5 357.0h.1M312.2 346.2h.1M311.9 356.2h.1M311.0 356.5h.1M308.8 361.4h.1M310.7 362.0h.1M312.0 350.0h.1M310.9 360.0h.1M312.0 340.9h.1M309.4 362.4h.1M310.5 355.8h.1M309.0 358.7h.1M311.5 342.3h.1M311.5 345.8h.1M310.5 360.5h.1M311.9 362.0h.1M311.2 361.3h.1M312.1 346.1h.1M312.7 346.0h.1M311.7 348.5h.1M310.1 351.7h.1M312.0 352.5h.1M312.4 349.5h.1M311.1 360.7h.1M313.2 344.9h.1M312.9 345.3h.1M312.9 347.5h.1M309.2 357.5h.1M312.6 358.4h.1M312.8 340.6h.1M312.7 341.3h.1M312.4 345.9h.1M311.5 345.0h.1M310.8 352.5h.1M313.4 343.0h.1M312.2 347.3h.1M312.9 353.2h.1M311.1 347.4h.1M310.7 361.3h.1M311.6 354.1h.1M311.0 343.6h.1M311.9 352.1h.1M311.3 350.3h.1M311.4 350.2h.1M311.6 341.3h.1M311.1 358.5h.1M312.4 347.5h.1M312.7 352.9h.1M312.1 357.8h.1M312.2 362.2h.1M313.2 349.2h.1M311.4 359.0h.1M311.0 349.7h.1M311.5 353.2h.1M309.9 353.6h.1M312.5 342.7h.1M309.7 360.9h.1M311.8 350.2h.1M332.5 324.4h.1M315.3 338.8h.1M334.6 329.9h.1M314.5 339.6h.1M322.2 324.9h.1M313.1 331.6h.1M311.8 339.3h.1M321.5 324.3h.1M314.3 330.2h.1M311.8 337.5h.1M334.0 327.7h.1M317.3 332.4h.1M332.5 332.4h.1M327.1 323.9h.1M318.0 328.5h.1M312.3 338.4h.1M329.0 329.0h.1M312.3 336.4h.1M333.6 325.1h.1M322.8 321.9h.1M320.4 324.1h.1M311.0 337.4h.1M319.8 326.7h.1M313.2 340.4h.1M334.5 324.2h.1M327.8 324.1h.1M314.8 335.6h.1M323.1 325.0h.1M316.2 334.0h.1M330.5 323.4h.1M311.9 333.0h.1M315.3 334.1h.1M317.9 330.9h.1M334.6 333.8h.1M332.0 327.5h.1M318.0 325.1h.1M329.2 327.5h.1M316.1 325.4h.1M315.5 333.5h.1M334.0 330.7h.1M313.7 339.6h.1M330.5 326.9h.1M330.4 333.3h.1M310.9 337.3h.1M332.1 329.2h.1M334.1 325.1h.1M311.2 339.0h.1M319.7 323.7h.1M313.1 329.6h.1M319.8 329.0h.1M318.4 327.2h.1M317.8 325.4h.1M312.8 340.6h.1M312.8 329.0h.1M314.0 328.7h.1M328.5 323.7h.1M330.5 324.1h.1M330.5 325.1h.1M328.1 325.9h.1M328.8 330.6h.1M325.5 325.9h.1M315.8 328.5h.1M314.2 339.5h.1M332.5 323.3h.1M325.8 326.0h.1M312.2 334.1h.1M324.1 327.4h.1M335.0 332.7h.1M327.3 325.0h.1M315.9 328.8h.1M329.8 327.0h.1M318.7 326.7h.1M314.4 340.6h.1M314.3 337.9h.1M331.2 333.4h.1M315.6 337.4h.1M334.2 325.2h.1M315.0 340.0h.1M319.7 326.1h.1M316.5 330.3h.1M317.5 328.6h.1M312.7 337.2h.1M319.0 326.6h.1M328.2 326.3h.1M323.5 324.4h.1M315.8 335.9h.1M335.2 325.8h.1M331.5 329.7h.1M321.3 326.5h.1M317.1 326.9h.1M311.0 340.0h.1M314.6 338.3h.1M318.9 328.3h.1M312.7 336.3h.1M334.4 333.7h.1M328.4 325.0h.1M317.4 329.3h.1M326.6 325.5h.1M315.5 334.3h.1M333.5 331.6h.1M322.9 325.5h.1M330.7 322.8h.1M313.1 333.4h.1M321.4 324.7h.1M329.6 323.8h.1M320.1 329.2h.1M313.0 338.3h.1M321.1 324.5h.1M331.1 327.7h.1M321.4 326.1h.1M332.5 334.2h.1M325.2 324.8h.1M330.9 330.1h.1M314.1 339.8h.1M327.6 321.0h.1M323.3 325.5h.1M317.1 327.1h.1M329.5 330.9h.1M313.9 337.3h.1M322.7 326.8h.1M317.5 329.7h.1M333.7 333.3h.1M334.4 325.0h.1M315.3 333.4h.1M311.0 335.5h.1M315.0 340.3h.1M314.8 333.8h.1M332.5 332.1h.1M330.8 329.7h.1M334.3 325.9h.1M319.3 327.1h.1M322.8 327.5h.1M324.5 320.9h.1M328.9 327.1h.1M312.0 340.7h.1M313.1 333.5h.1M326.7 326.1h.1M315.2 335.4h.1M332.7 332.4h.1M315.3 339.5h.1M334.7 333.9h.1M315.0 332.7h.1M313.8 333.0h.1M320.5 328.1h.1M327.8 320.0h.1M333.0 334.2h.1M321.6 325.1h.1M334.9 330.8h.1M331.0 330.5h.1M330.0 334.4h.1M318.9 329.4h.1M320.9 323.2h.1M312.9 340.1h.1M320.0 329.2h.1M315.8 325.5h.1M314.6 336.0h.1M333.5 328.1h.1M317.5 330.9h.1M314.1 335.7h.1M315.5 336.5h.1M310.8 339.7h.1M330.6 325.2h.1M323.7 323.9h.1M322.7 322.3h.1M319.0 325.7h.1M330.6 333.5h.1M318.4 327.4h.1M321.8 325.7h.1M330.0 321.4h.1M331.9 332.1h.1M332.4 329.1h.1M329.2 330.1h.1M315.9 333.7h.1M332.4 332.7h.1M332.0 327.7h.1M315.7 327.2h.1M331.5 327.1h.1M334.2 333.0h.1M328.1 325.6h.1M331.6 324.2h.1M335.4 328.3h.1M333.4 330.0h.1M328.7 327.1h.1M312.2 337.7h.1M313.5 332.2h.1M316.0 336.4h.1M321.9 326.9h.1M312.4 338.2h.1M323.9 322.2h.1M332.7 331.9h.1M332.7 334.2h.1M314.9 339.7h.1M329.8 323.1h.1M315.9 335.4h.1M328.6 329.3h.1M314.7 339.9h.1M312.8 336.7h.1M315.9 327.8h.1M313.0 340.8h.1M329.1 324.0h.1M315.8 333.5h.1M328.8 324.3h.1M333.1 332.9h.1M322.0 326.6h.1M321.2 324.6h.1M330.5 334.9h.1M313.3 327.3h.1M329.6 330.3h.1M329.4 323.8h.1M311.2 340.4h.1M314.3 328.5h.1M332.0 323.2h.1M313.1 339.2h.1M329.2 329.1h.1M328.9 331.4h.1M330.7 325.4h.1M334.7 327.2h.1M327.4 326.1h.1M328.8 327.1h.1M320.5 323.0h.1M319.7 327.1h.1M329.5 323.3h.1M321.6 326.2h.1M317.1 329.3h.1M312.4 329.1h.1M319.8 324.7h.1M317.7 326.1h.1M330.3 325.3h.1M334.4 325.2h.1M333.4 326.1h.1M334.3 328.6h.1M316.0 325.2h.1M317.7 327.1h.1M334.1 328.3h.1M313.6 333.6h.1M332.4 322.3h.1M324.2 326.1h.1M329.0 320.4h.1M330.5 324.6h.1M329.3 323.9h.1M312.7 330.6h.1M312.4 340.0h.1M332.7 333.0h.1M332.3 330.8h.1M323.2 325.7h.1M328.7 319.9h.1M311.5 337.0h.1M321.4 326.6h.1M325.2 321.3h.1M328.4 323.6h.1M313.6 331.8h.1M310.9 336.9h.1M330.4 333.4h.1M333.8 328.7h.1M316.5 334.0h.1M329.0 327.7h.1M329.3 327.2h.1M315.9 333.8h.1M334.8 325.9h.1M316.6 324.6h.1M316.3 327.6h.1M313.2 334.4h.1M326.0 323.0h.1M327.2 323.7h.1M323.6 326.3h.1M314.8 337.1h.1M329.0 327.6h.1M316.6 329.3h.1M317.1 331.4h.1M327.9 320.5h.1M311.0 333.1h.1M332.3 331.3h.1M328.6 325.3h.1M332.5 326.1h.1M315.5 326.0h.1M319.0 323.8h.1M313.4 330.2h.1M316.8 331.9h.1M318.8 325.3h.1M329.4 327.1h.1M323.7 327.3h.1M330.1 328.1h.1M315.6 336.7h.1M314.2 328.8h.1M311.5 339.3h.1M333.7 331.4h.1M310.7 338.1h.1M325.1 326.6h.1M329.3 321.0h.1M314.6 333.0h.1M333.2 334.2h.1M331.8 334.2h.1M314.2 331.2h.1M314.7 335.4h.1M328.3 321.1h.1M322.7 323.4h.1M325.9 321.3h.1M326.8 322.1h.1M330.0 333.2h.1M328.4 326.6h.1M313.3 327.3h.1M328.9 325.5h.1M321.1 326.9h.1M334.4 334.0h.1M321.0 323.3h.1M314.5 340.8h.1M334.0 331.6h.1M317.5 331.0h.1M331.7 327.6h.1M328.0 325.9h.1M331.1 324.6h.1M333.5 323.5h.1M331.3 331.1h.1M332.4 328.1h.1M328.1 320.3h.1M317.5 329.8h.1M323.2 327.2h.1M317.8 331.1h.1M317.2 328.7h.1M321.3 325.9h.1M319.0 324.2h.1M318.0 330.7h.1M317.1 329.5h.1M316.8 329.1h.1M314.9 333.3h.1M326.5 325.5h.1M312.5 337.1h.1M312.7 330.0h.1M316.4 334.3h.1M333.5 322.1h.1M314.1 329.2h.1M313.3 336.9h.1M335.2 327.6h.1M319.8 324.7h.1M329.5 327.8h.1M316.6 329.0h.1M317.3 328.2h.1M323.9 321.3h.1M312.8 338.1h.1M334.2 334.0h.1M312.9 335.4h.1M332.7 331.4h.1M328.8 322.4h.1M332.6 324.9h.1M315.6 333.2h.1M332.2 330.5h.1M324.9 326.6h.1M318.7 325.4h.1M311.7 332.8h.1M312.9 333.9h.1M329.4 329.3h.1M332.8 333.7h.1M320.6 327.6h.1M329.6 324.2h.1M330.4 321.2h.1M321.7 323.2h.1M321.0 322.9h.1M324.6 323.8h.1M317.7 328.7h.1M332.5 324.1h.1M321.0 328.3h.1M321.8 322.0h.1M315.4 333.7h.1M333.9 334.0h.1M315.7 338.1h.1M333.3 322.6h.1M329.1 325.5h.1M316.6 327.3h.1M333.2 334.0h.1M310.8 339.2h.1M313.7 329.4h.1M316.3 327.4h.1M328.3 325.6h.1M327.1 326.2h.1M333.3 322.3h.1M331.6 329.2h.1M310.7 339.9h.1M324.1 321.7h.1M319.3 327.0h.1M330.1 323.0h.1M324.5 326.7h.1M318.5 329.7h.1M311.3 340.5h.1M316.6 329.0h.1M321.2 327.3h.1M317.7 329.3h.1M318.4 327.3h.1M328.5 323.0h.1M316.9 328.4h.1M332.6 328.8h.1M317.8 327.7h.1M320.9 328.0h.1M319.7 324.9h.1M332.4 331.0h.1M326.5 323.0h.1M329.8 333.5h.1M311.7 340.7h.1M332.4 333.2h.1M315.1 333.6h.1M332.7 330.8h.1M314.7 339.4h.1M331.7 329.1h.1M327.6 320.6h.1M329.9 322.0h.1M317.3 325.0h.1M318.2 326.5h.1M312.8 334.5h.1M312.6 335.1h.1M328.1 324.9h.1M318.3 329.8h.1M314.1 340.0h.1M315.2 334.2h.1M315.9 334.3h.1M316.2 333.4h.1M320.1 323.7h.1M329.4 331.3h.1M325.1 321.7h.1M332.6 323.9h.1M314.9 336.9h.1M330.1 320.5h.1M328.7 329.4h.1M329.6 334.8h.1M333.8 322.2h.1M327.0 324.0h.1M329.5 333.4h.1M313.7 335.7h.1M331.6 326.6h.1M330.2 323.8h.1M330.5 324.0h.1M317.6 328.0h.1M314.1 337.8h.1M316.0 335.5h.1M329.4 320.2h.1M330.3 342.6h.1M333.3 340.4h.1M331.8 340.9h.1M331.8 342.4h.1M331.0 350.5h.1M330.5 343.5h.1M328.9 346.3h.1M333.3 343.9h.1M328.9 350.8h.1M333.0 342.5h.1M329.4 344.3h.1M330.6 344.2h.1M333.3 342.7h.1M331.2 340.9h.1M332.3 344.6h.1M332.6 342.5h.1M330.6 340.3h.1M329.8 349.9h.1M328.7 343.6h.1M329.5 340.0h.1M328.4 346.3h.1M331.2 345.5h.1M328.0 347.1h.1M333.2 344.4h.1M329.9 341.5h.1M330.9 347.3h.1M328.9 344.3h.1M331.5 350.3h.1M330.6 343.7h.1M333.3 342.8h.1M332.2 342.3h.1M330.7 342.9h.1M332.9 343.0h.1M329.5 345.6h.1M330.8 344.2h.1M330.3 351.0h.1M330.9 342.3h.1M329.4 350.4h.1M333.4 344.1h.1M329.5 345.1h.1M328.2 350.3h.1M327.8 348.1h.1M327.3 349.9h.1M331.2 346.3h.1M330.2 343.5h.1M329.5 347.4h.1M332.2 348.3h.1M330.3 340.4h.1M332.3 341.4h.1M329.5 350.5h.1M329.3 347.8h.1M329.5 349.1h.1M332.2 342.3h.1M327.5 350.2h.1M333.1 343.7h.1M330.7 341.6h.1M332.6 344.3h.1M328.7 343.7h.1M329.3 340.5h.1M328.5 349.1h.1M327.7 349.1h.1M329.8 342.1h.1M329.6 345.9h.1M328.3 349.3h.1M328.7 344.0h.1M332.1 346.2h.1M329.9 342.7h.1M332.4 345.8h.1M331.2 343.6h.1M330.3 349.3h.1M330.5 341.8h.1M330.7 340.4h.1M327.5 349.4h.1M329.5 341.8h.1M332.7 346.8h.1M331.5 348.4h.1M333.3 344.0h.1M328.3 350.0h.1M331.7 344.0h.1M328.8 342.0h.1M332.7 341.0h.1M327.3 349.3h.1M329.8 342.3h.1M328.2 349.5h.1M330.2 345.0h.1M327.5 349.8h.1M332.5 341.2h.1M327.8 348.9h.1M327.4 350.3h.1M329.4 347.7h.1M330.4 341.5h.1M330.2 351.3h.1M329.7 348.9h.1M330.7 342.4h.1M329.9 350.9h.1M333.5 341.3h.1M329.1 341.3h.1M330.0 340.1h.1M331.0 346.8h.1M330.7 344.6h.1M330.9 341.0h.1M328.2 344.8h.1M329.1 349.6h.1M330.2 341.0h.1M328.6 346.7h.1M333.1 342.2h.1M330.1 345.6h.1M328.7 343.6h.1M329.4 343.0h.1M329.4 340.0h.1M332.1 347.0h.1M329.3 344.6h.1M331.1 348.0h.1M329.3 341.9h.1M327.8 350.5h.1M331.9 340.4h.1M330.7 342.2h.1M330.3 347.2h.1M329.1 341.3h.1M330.8 343.0h.1M332.9 346.3h.1M329.6 348.3h.1M331.6 350.2h.1M332.9 343.9h.1M330.1 347.3h.1M331.5 340.4h.1M331.3 350.4h.1M330.8 347.7h.1M330.3 350.2h.1M332.2 342.6h.1M330.9 345.7h.1M332.1 348.9h.1M333.5 340.6h.1M330.7 349.7h.1M328.9 347.5h.1M327.6 348.1h.1M329.9 341.8h.1M331.7 349.2h.1M328.7 345.8h.1M329.6 341.6h.1M329.6 341.4h.1M328.4 349.2h.1M332.1 344.7h.1M331.1 343.1h.1M331.2 344.2h.1M332.3 348.3h.1M331.0 341.6h.1M332.3 342.0h.1M327.9 346.6h.1M328.6 349.6h.1M328.5 347.0h.1M331.2 351.0h.1M329.9 343.1h.1M329.3 343.8h.1M331.1 344.3h.1M332.2 344.2h.1M331.1 343.1h.1M329.4 348.7h.1M331.4 343.3h.1M331.8 344.8h.1M329.8 345.1h.1M327.4 350.5h.1M332.2 343.9h.1M328.1 347.1h.1M333.3 344.0h.1M328.8 348.6h.1M331.7 344.5h.1M331.3 340.3h.1M331.3 346.1h.1M333.1 344.1h.1M332.7 343.3h.1M328.5 343.0h.1M331.8 340.2h.1M327.7 347.5h.1M330.4 346.1h.1M328.2 346.5h.1M330.7 346.5h.1M328.3 344.0h.1M330.9 345.2h.1M332.0 345.8h.1M330.7 350.5h.1M333.2 344.2h.1M333.1 342.0h.1M330.4 340.9h.1M331.7 343.9h.1M328.4 345.8h.1M331.9 347.0h.1M327.8 347.5h.1M317.9 331.2h.1M319.1 344.7h.1M320.1 333.4h.1M318.9 344.8h.1M321.2 337.4h.1M327.0 332.0h.1M316.1 344.3h.1M318.7 342.4h.1M315.8 347.0h.1M326.6 339.7h.1M316.8 345.9h.1M322.6 339.1h.1M328.0 335.2h.1M319.7 337.4h.1M316.7 341.6h.1M319.0 345.2h.1M329.1 344.1h.1M316.4 345.9h.1M328.0 339.6h.1M316.8 338.4h.1M317.5 339.4h.1M326.6 345.9h.1M324.6 336.9h.1M319.8 332.0h.1M325.5 337.3h.1M317.2 341.4h.1M328.2 344.3h.1M323.6 346.1h.1M329.2 342.0h.1M323.9 344.0h.1M323.6 344.0h.1M327.9 343.9h.1M323.7 340.6h.1M316.3 346.1h.1M324.2 345.3h.1M319.4 331.1h.1M324.6 332.9h.1M330.0 346.9h.1M324.2 341.7h.1M327.5 333.2h.1M320.3 345.6h.1M315.2 332.4h.1M315.7 339.6h.1M315.3 337.2h.1M318.3 335.6h.1M319.1 334.8h.1M319.8 332.4h.1M324.8 337.0h.1M326.2 332.6h.1M326.5 341.0h.1M326.3 336.1h.1M327.8 343.3h.1M325.8 346.0h.1M321.9 345.2h.1M321.2 342.8h.1M316.2 343.5h.1M315.5 348.2h.1M329.6 351.1h.1M323.2 356.8h.1M322.7 356.9h.1M324.8 356.0h.1M317.0 349.1h.1M321.5 357.4h.1M316.0 348.5h.1M328.7 357.1h.1M322.0 355.2h.1M316.1 357.7h.1M329.5 357.8h.1M323.3 352.8h.1M326.1 350.4h.1M326.9 357.1h.1M325.1 350.4h.1M321.1 350.7h.1M318.5 353.3h.1M314.8 348.6h.1M324.0 352.0h.1" stroke="#000" stroke-width="0.8" stroke-linecap="round" fill="none"/>
<path d="M427.0 358.6h.1M428.0 348.5h.1M430.9 334.0h.1M431.6 333.7h.1M432.9 332.6h.1M429.1 339.7h.1M429.3 339.1h.1M427.3 349.2h.1M431.9 334.6h.1M427.4 358.8h.1M426.8 357.7h.1M427.3 359.3h.1M428.5 350.0h.1M427.9 361.3h.1M428.6 340.4h.1M427.6 357.2h.1M429.4 340.9h.1M427.7 344.8h.1M428.3 340.7h.1M428.7 340.4h.1M429.8 337.8h.1M429.0 347.7h.1M430.0 344.9h.1M429.0 355.2h.1M427.5 346.8h.1M428.4 360.4h.1M430.4 332.4h.1M431.9 333.4h.1M426.7 360.7h.1M427.4 362.8h.1M429.0 350.5h.1M427.4 346.0h.1M430.0 347.9h.1M426.9 352.1h.1M429.3 343.1h.1M427.6 350.1h.1M428.8 350.1h.1M426.1 362.0h.1M429.6 344.1h.1M427.8 360.5h.1M430.7 335.6h.1M429.9 347.9h.1M427.9 351.7h.1M430.1 341.9h.1M430.3 334.6h.1M428.6 357.8h.1M427.3 350.1h.1M432.5 332.1h.1M428.3 335.1h.1M429.5 350.7h.1M427.1 351.3h.1M431.0 337.0h.1M426.1 360.3h.1M428.0 359.4h.1M428.2 344.6h.1M427.6 344.7h.1M430.4 345.0h.1M430.2 338.6h.1M431.9 335.0h.1M429.3 350.4h.1M427.0 352.5h.1M428.6 335.6h.1M428.4 355.3h.1M431.9 335.2h.1M428.5 340.2h.1M431.9 336.1h.1M427.7 342.4h.1M427.9 359.8h.1M430.2 340.2h.1M428.5 347.1h.1M427.3 357.2h.1M426.7 359.8h.1M427.8 354.6h.1M427.3 359.1h.1M426.5 358.6h.1M428.3 335.7h.1M430.9 332.6h.1M429.6 331.0h.1M427.7 345.0h.1M428.3 344.8h.1M426.1 361.1h.1M428.2 359.4h.1M429.1 338.3h.1M429.7 344.8h.1M427.4 344.7h.1M430.5 339.0h.1M432.0 337.2h.1M430.7 340.4h.1M427.5 362.8h.1M428.8 345.6h.1M430.2 336.3h.1M431.8 337.0h.1M429.6 332.5h.1M429.0 346.4h.1M429.7 346.4h.1M426.5 362.3h.1M428.8 346.6h.1M427.5 344.8h.1M431.4 333.7h.1M429.1 334.5h.1M426.4 361.0h.1M426.7 358.5h.1M429.0 350.9h.1M429.6 338.0h.1M428.8 357.9h.1M431.2 338.4h.1M430.7 344.3h.1M431.2 335.0h.1M427.5 352.0h.1M428.0 350.1h.1M426.7 361.1h.1M428.0 346.3h.1M429.8 338.2h.1M429.9 346.7h.1M429.0 346.4h.1M429.2 333.5h.1M430.9 338.6h.1M429.4 353.2h.1M430.6 332.8h.1M428.4 339.6h.1M428.7 353.5h.1M427.8 356.3h.1M430.7 341.5h.1M429.2 346.9h.1M430.6 344.0h.1M426.1 358.8h.1M430.5 338.6h.1M430.8 335.5h.1M429.4 349.7h.1M427.3 353.2h.1M431.3 331.9h.1M429.9 331.7h.1M428.0 359.2h.1M427.6 345.6h.1M427.6 348.9h.1M429.2 354.3h.1M429.7 346.5h.1M428.6 341.5h.1M427.8 351.3h.1M427.9 353.2h.1M429.3 335.2h.1M428.2 341.8h.1M429.4 353.5h.1M426.7 358.0h.1M429.1 350.8h.1M431.7 333.1h.1M431.2 336.6h.1M427.1 356.3h.1M428.3 343.5h.1M427.1 363.0h.1M432.7 334.3h.1M430.3 332.8h.1M426.9 356.1h.1M428.3 352.1h.1M427.2 353.3h.1M427.2 357.1h.1M430.5 341.3h.1M427.6 350.9h.1M426.7 362.9h.1M428.1 356.1h.1M428.2 341.7h.1M428.3 340.4h.1M428.0 362.7h.1M430.3 345.6h.1M430.8 342.8h.1M429.7 342.7h.1M429.5 342.2h.1M428.4 337.8h.1M427.5 352.2h.1M428.7 335.5h.1M428.7 348.9h.1M426.9 361.1h.1M428.3 342.0h.1M427.1 352.0h.1M429.7 342.7h.1M427.3 351.0h.1M427.3 346.9h.1M428.1 345.1h.1M430.9 340.5h.1M428.5 353.6h.1M429.6 341.6h.1M427.0 355.5h.1M429.9 337.7h.1M426.4 355.5h.1M426.7 360.7h.1M426.9 361.9h.1M427.8 343.7h.1M428.4 352.8h.1M429.0 344.6h.1M426.9 353.0h.1M427.5 348.9h.1M430.4 335.2h.1M432.4 333.7h.1M425.9 361.6h.1M431.0 332.7h.1M428.2 346.8h.1M429.4 339.3h.1M432.5 333.5h.1M427.9 357.1h.1M427.8 350.8h.1M430.3 334.6h.1M430.6 346.6h.1M432.1 334.5h.1M430.0 336.1h.1M431.1 331.1h.1M429.4 341.9h.1M426.2 360.8h.1M432.5 334.4h.1M426.9 357.1h.1M426.7 358.0h.1M427.2 351.1h.1M428.8 356.6h.1M428.5 358.8h.1M429.9 342.7h.1M430.7 333.9h.1M428.1 354.7h.1M428.0 351.0h.1M430.9 342.7h.1M428.2 353.5h.1M430.0 347.4h.1M431.4 333.9h.1M427.7 359.4h.1M429.6 346.0h.1M428.4 356.4h.1M431.2 338.4h.1M428.2 356.5h.1M429.4 337.0h.1M427.8 350.1h.1M429.4 333.0h.1M429.3 351.6h.1M428.8 347.3h.1M426.0 359.5h.1M428.2 354.2h.1M429.6 349.9h.1M432.3 334.7h.1M430.8 344.5h.1M431.6 337.3h.1M429.0 335.5h.1M427.2 360.2h.1M428.7 353.1h.1M430.8 336.5h.1M429.3 338.8h.1M427.5 344.8h.1M429.7 350.3h.1M429.8 347.2h.1M427.8 362.7h.1M427.0 358.9h.1M427.6 351.6h.1M428.3 358.7h.1M428.2 355.8h.1M430.8 337.3h.1M428.1 338.2h.1M428.3 339.4h.1M430.1 345.0h.1M432.3 333.7h.1M427.4 355.7h.1M430.7 343.3h.1M427.6 349.5h.1M431.1 332.9h.1M427.8 352.0h.1M427.9 355.5h.1M428.7 338.3h.1M429.7 337.0h.1M429.6 340.0h.1M430.3 338.0h.1M426.8 356.8h.1M429.7 343.7h.1M428.0 345.7h.1M432.6 334.2h.1M427.7 350.2h.1M426.8 355.1h.1M427.5 353.1h.1M429.1 346.7h.1M430.7 331.5h.1M430.3 340.8h.1M428.2 339.8h.1M428.5 348.1h.1M428.6 350.4h.1M432.7 333.5h.1M429.9 348.8h.1M427.5 359.1h.1M429.2 338.0h.1M426.6 356.5h.1M428.8 350.6h.1M429.5 343.5h.1M430.1 336.4h.1M427.4 363.0h.1M429.4 342.1h.1M428.1 358.8h.1M428.6 342.7h.1M428.7 343.6h.1M430.3 346.7h.1M428.8 349.4h.1M430.6 345.9h.1M428.9 332.1h.1M429.5 351.9h.1M427.3 347.8h.1M428.1 358.5h.1M428.7 350.7h.1M426.1 361.3h.1M429.7 333.8h.1M428.2 352.0h.1M431.0 333.0h.1M427.3 358.8h.1M427.7 341.6h.1M431.1 344.0h.1M429.0 341.8h.1M431.0 337.7h.1M428.2 360.8h.1M431.7 339.6h.1M426.1 362.2h.1M429.1 353.6h.1M430.4 335.9h.1M429.7 344.9h.1M429.6 333.1h.1M428.9 335.2h.1M428.8 349.5h.1M429.1 354.2h.1M427.4 356.5h.1M428.1 361.9h.1M430.5 340.2h.1M428.2 336.9h.1M428.1 361.7h.1M427.6 347.2h.1M429.1 336.3h.1M429.7 342.6h.1M429.9 349.9h.1M429.2 332.4h.1M427.9 349.5h.1M426.8 352.9h.1M427.5 347.0h.1M428.0 351.9h.1M428.7 350.5h.1M428.9 347.1h.1M426.0 360.5h.1M429.0 343.7h.1M429.0 344.4h.1M431.4 340.5h.1M427.3 355.2h.1M427.3 361.8h.1M429.7 340.4h.1M429.1 351.4h.1M429.6 344.0h.1M429.3 354.6h.1M428.6 352.0h.1M427.5 354.6h.1M428.6 347.2h.1M430.8 342.5h.1M427.4 355.5h.1M429.3 353.1h.1M428.5 348.2h.1M431.4 340.9h.1M427.3 351.1h.1M427.8 361.2h.1M428.8 346.4h.1M427.8 348.4h.1M431.4 331.2h.1M427.6 344.3h.1M426.2 361.5h.1M430.7 342.6h.1M427.2 360.4h.1M427.9 351.1h.1M426.1 361.9h.1M428.1 343.7h.1M426.8 357.5h.1M430.6 332.8h.1M426.3 356.7h.1M429.6 331.8h.1M430.3 333.7h.1M430.2 346.6h.1M429.9 348.3h.1M429.7 350.8h.1M428.8 338.9h.1M426.6 356.9h.1M429.3 351.8h.1M427.5 361.3h.1M427.8 349.3h.1M427.4 356.9h.1M432.5 333.8h.1M429.7 348.8h.1M428.9 356.1h.1M427.9 354.3h.1M426.7 357.3h.1M427.3 360.3h.1M426.0 361.3h.1M428.3 339.9h.1M426.2 359.6h.1M429.3 335.9h.1M429.4 331.8h.1M429.6 333.6h.1M428.1 357.5h.1M430.7 337.7h.1M427.6 343.7h.1M432.3 333.0h.1M428.9 353.8h.1M430.9 343.9h.1M428.3 343.2h.1M428.2 357.1h.1M429.5 343.9h.1M430.6 339.9h.1M431.8 337.4h.1M428.6 335.4h.1M427.8 362.4h.1M431.3 338.9h.1M428.6 352.7h.1M429.5 338.5h.1M427.5 358.3h.1M427.3 350.9h.1M429.2 350.2h.1M429.9 340.8h.1M429.6 343.4h.1M431.0 337.1h.1M425.8 362.8h.1M426.7 353.8h.1M428.3 339.3h.1M426.7 355.3h.1M431.5 336.2h.1M427.1 353.0h.1M429.1 341.6h.1M427.4 361.4h.1M429.6 333.5h.1M428.3 359.6h.1M429.8 350.1h.1M428.1 350.6h.1M428.3 353.4h.1M430.0 346.0h.1M430.6 346.5h.1M430.8 337.7h.1M430.7 331.9h.1M428.2 337.1h.1M430.3 339.9h.1M428.0 356.8h.1M428.2 356.4h.1M426.5 362.7h.1M428.1 360.2h.1M430.4 338.0h.1M426.7 361.2h.1M427.2 354.4h.1M427.0 350.6h.1M428.0 358.1h.1M427.7 352.1h.1M428.8 355.1h.1M428.0 349.9h.1M427.0 357.3h.1M427.6 362.4h.1M430.1 333.9h.1M431.8 339.5h.1M430.2 338.4h.1M429.0 355.1h.1M429.1 332.7h.1M428.4 336.1h.1M427.0 349.8h.1M429.0 353.9h.1M430.0 337.6h.1M427.5 362.5h.1M429.2 344.7h.1M432.3 335.5h.1M431.9 334.0h.1M430.6 333.4h.1M427.6 349.2h.1M426.6 362.6h.1M430.4 336.0h.1M430.4 337.7h.1M432.4 326.8h.1M435.4 326.8h.1M433.9 330.6h.1M434.0 336.0h.1M435.1 337.7h.1M431.8 328.4h.1M433.0 329.6h.1M433.7 328.6h.1M435.1 330.4h.1M431.3 337.4h.1M436.7 335.0h.1M430.6 336.8h.1M431.6 337.5h.1M436.1 336.3h.1M431.4 326.6h.1M430.9 332.3h.1M431.5 330.0h.1M436.2 327.6h.1M429.5 329.6h.1M435.9 328.9h.1M434.7 326.9h.1M429.7 331.6h.1M431.4 329.9h.1M429.9 333.4h.1M431.5 334.7h.1M433.0 330.4h.1M431.1 330.2h.1M430.5 337.0h.1M432.3 330.4h.1M432.3 332.2h.1M434.8 334.6h.1M433.1 326.5h.1M429.1 332.6h.1M435.3 331.0h.1M436.7 328.6h.1M435.5 335.6h.1M432.8 338.1h.1M432.0 327.3h.1M434.1 336.8h.1M435.0 326.9h.1M431.3 326.8h.1M436.1 331.1h.1M431.8 335.5h.1M431.6 326.4h.1M430.3 329.1h.1M432.1 328.8h.1M434.9 331.6h.1M431.5 335.9h.1M433.5 337.0h.1M434.5 326.7h.1M435.3 337.1h.1M430.2 331.0h.1M436.9 329.6h.1M435.1 328.2h.1M431.7 326.6h.1M434.3 332.7h.1M434.4 332.3h.1M429.3 334.4h.1M432.2 338.1h.1M435.2 333.9h.1M434.1 334.4h.1M434.3 333.0h.1M430.9 331.1h.1M430.2 336.9h.1M432.7 335.4h.1M434.1 329.4h.1M436.7 335.5h.1M431.5 333.9h.1M433.9 329.4h.1M435.0 327.4h.1M432.2 326.4h.1M429.0 331.5h.1M433.7 333.7h.1M431.2 334.9h.1M432.7 327.2h.1M433.7 328.7h.1M430.3 328.8h.1M434.9 330.6h.1M430.1 330.4h.1M434.2 330.3h.1M434.6 331.0h.1M435.1 337.8h.1M435.3 336.8h.1M436.5 332.1h.1M432.4 336.5h.1M429.8 334.3h.1M429.4 335.6h.1M434.8 329.1h.1M434.2 332.6h.1M431.0 332.7h.1M429.4 333.9h.1M435.2 334.7h.1M429.6 334.5h.1M434.6 330.3h.1M436.4 334.2h.1M433.2 336.6h.1M430.7 329.4h.1M430.6 331.4h.1M433.4 327.3h.1M431.1 337.4h.1M435.8 336.5h.1M431.2 335.8h.1M433.6 331.4h.1M429.5 334.9h.1M432.1 333.8h.1M433.7 328.4h.1M429.8 329.4h.1M436.0 337.6h.1M430.5 336.5h.1M434.5 331.3h.1M437.4 333.7h.1M433.3 331.0h.1M432.9 333.7h.1M433.2 326.7h.1M435.4 338.1h.1M431.2 328.0h.1M435.8 327.6h.1M436.4 334.7h.1M434.4 332.0h.1M435.9 335.8h.1M437.0 333.0h.1M434.6 328.2h.1M429.5 332.0h.1M436.1 333.5h.1M432.4 330.7h.1M429.1 332.2h.1M435.2 332.4h.1M435.2 332.0h.1M434.3 330.8h.1M430.6 331.9h.1M434.4 328.6h.1M433.0 329.5h.1M432.9 335.2h.1M433.2 327.9h.1M433.1 333.2h.1M430.5 334.8h.1M434.5 333.6h.1M434.3 334.4h.1M431.7 332.5h.1M435.3 327.2h.1M434.3 326.6h.1M435.6 338.1h.1M429.4 330.9h.1M432.1 337.0h.1M434.0 336.6h.1M431.0 336.4h.1M431.7 327.6h.1M437.1 329.4h.1M435.3 334.8h.1M432.1 338.7h.1M433.2 325.9h.1M428.9 332.6h.1M430.5 336.0h.1M434.3 327.4h.1M437.6 333.3h.1M435.9 331.1h.1M432.7 338.4h.1M433.9 330.9h.1M434.3 329.6h.1M434.8 328.4h.1M430.4 328.5h.1M432.1 330.2h.1M437.0 334.3h.1M430.2 334.8h.1M432.1 330.7h.1M433.1 333.8h.1M432.0 328.6h.1M429.4 330.5h.1M431.0 326.7h.1M435.6 327.8h.1M432.1 335.3h.1M430.2 328.0h.1M434.9 333.3h.1M434.0 328.4h.1M434.6 327.4h.1M432.2 328.8h.1M432.3 328.9h.1M430.5 330.8h.1M431.3 338.3h.1M434.1 328.0h.1M434.1 334.0h.1M430.9 330.5h.1M435.8 335.8h.1M433.1 327.5h.1M428.9 332.4h.1M431.1 328.9h.1M435.1 337.8h.1M429.9 335.5h.1M431.6 328.6h.1M430.5 334.1h.1M432.7 328.0h.1M434.5 333.7h.1M432.4 334.1h.1M434.4 333.9h.1M433.1 330.0h.1M432.2 333.7h.1M433.2 328.2h.1M433.3 329.9h.1M437.4 334.1h.1M431.2 329.5h.1M433.3 332.1h.1M436.3 329.7h.1M436.4 335.5h.1M436.8 336.1h.1M431.2 333.7h.1M433.2 328.7h.1M436.1 336.3h.1M436.7 332.4h.1M432.4 327.3h.1M437.4 333.1h.1M433.0 325.7h.1M432.8 332.8h.1M434.4 336.3h.1M431.0 326.9h.1M433.1 331.6h.1M431.3 329.8h.1M433.1 338.4h.1M433.7 334.2h.1M436.3 334.4h.1M435.3 338.2h.1M431.1 336.3h.1M433.0 332.9h.1M434.5 333.5h.1M434.8 328.9h.1M433.4 333.2h.1M436.3 335.2h.1M433.8 335.9h.1M430.8 333.9h.1M430.4 328.3h.1M436.5 335.4h.1M435.5 337.4h.1M435.1 333.0h.1M431.1 334.9h.1M436.7 332.5h.1M433.8 327.8h.1M435.6 327.6h.1M435.6 330.2h.1M434.0 338.9h.1M432.0 330.0h.1M430.1 335.2h.1M430.6 337.1h.1M433.4 325.7h.1M430.7 330.9h.1M430.2 328.1h.1M432.8 337.7h.1M436.5 330.5h.1M432.0 329.6h.1M430.4 327.9h.1M433.3 330.7h.1M436.9 329.0h.1M434.7 337.1h.1M432.9 337.7h.1M435.0 332.0h.1M431.5 327.5h.1M434.5 330.8h.1M431.2 337.9h.1M437.0 332.0h.1M431.6 333.7h.1M434.5 326.8h.1M436.2 329.6h.1M430.8 332.1h.1M430.1 335.3h.1M429.5 332.6h.1M435.3 336.0h.1M436.5 335.0h.1M436.9 330.5h.1M430.8 327.3h.1M436.7 335.6h.1M432.0 331.3h.1M433.2 338.8h.1M435.5 326.9h.1M431.3 336.2h.1M437.4 333.2h.1M434.7 326.6h.1M430.9 326.6h.1M439.7 329.1h.1M433.5 329.6h.1M433.2 327.8h.1M439.3 326.9h.1M449.7 328.1h.1M441.0 328.3h.1M449.3 330.5h.1M440.5 326.2h.1M440.1 329.9h.1M431.2 328.8h.1M432.5 329.0h.1M448.0 327.1h.1M444.3 325.3h.1M441.9 325.6h.1M448.3 327.2h.1M443.4 327.2h.1M436.3 327.9h.1M447.0 329.9h.1M445.0 326.9h.1M433.0 330.8h.1M447.2 326.8h.1M437.8 327.6h.1M447.7 326.1h.1M446.2 330.0h.1M448.5 327.8h.1M433.4 329.8h.1M445.0 328.0h.1M436.9 327.8h.1M447.7 326.9h.1M433.8 331.0h.1M447.7 328.2h.1M450.0 327.2h.1M440.5 325.0h.1M441.4 327.4h.1M442.6 327.8h.1M448.4 327.4h.1M432.1 327.3h.1M446.8 329.8h.1M437.7 328.9h.1M438.4 325.4h.1M447.2 329.8h.1M432.4 326.0h.1M434.3 330.9h.1M443.8 329.5h.1M445.1 325.6h.1M436.1 331.3h.1M444.0 329.9h.1M437.4 325.8h.1M431.8 330.4h.1M435.8 327.8h.1M433.3 326.3h.1M439.3 325.7h.1M439.3 325.7h.1M438.4 328.7h.1M448.2 328.8h.1M438.7 330.6h.1M434.2 327.2h.1M449.0 328.6h.1M443.3 326.8h.1M449.3 328.2h.1M439.6 328.0h.1M442.3 329.1h.1M437.3 329.0h.1M449.8 327.1h.1M436.0 326.5h.1M448.5 329.2h.1M437.6 329.4h.1M445.5 329.8h.1M443.4 326.7h.1M445.9 327.6h.1M434.0 325.5h.1M450.0 329.1h.1M440.2 326.2h.1M432.4 329.3h.1M443.9 328.2h.1M431.8 326.9h.1M443.6 325.1h.1M444.6 328.8h.1M435.2 329.8h.1M434.1 332.0h.1M433.5 328.8h.1M443.8 325.1h.1M445.5 325.4h.1M447.8 330.7h.1M437.3 329.3h.1M432.2 326.8h.1M443.0 327.1h.1M447.4 326.6h.1M444.7 329.2h.1M440.5 328.8h.1M436.4 330.7h.1M444.8 328.6h.1M447.5 327.7h.1M435.9 330.9h.1M444.6 327.0h.1M445.6 329.0h.1M450.3 327.8h.1M437.9 326.3h.1M438.5 328.3h.1M431.4 327.9h.1M434.7 330.9h.1M445.2 327.8h.1M436.5 330.7h.1M448.2 329.0h.1M437.0 328.3h.1M446.2 327.9h.1M437.5 325.8h.1M445.5 326.9h.1M439.6 329.9h.1M435.3 329.4h.1M435.3 330.1h.1M436.3 327.4h.1M432.6 326.9h.1M447.1 329.7h.1M448.7 328.2h.1M445.8 329.3h.1M430.2 326.6h.1M448.0 327.6h.1M445.9 328.6h.1M446.4 330.2h.1M443.2 325.8h.1M435.8 331.4h.1M436.7 329.0h.1M438.1 325.8h.1M433.5 325.4h.1M432.4 332.2h.1M448.9 329.5h.1M438.5 329.0h.1M442.6 327.0h.1M432.2 326.2h.1M447.4 328.1h.1M445.3 328.5h.1M431.3 327.8h.1M435.6 331.3h.1M445.1 329.2h.1M431.1 326.0h.1M431.0 328.0h.1M434.0 331.4h.1M434.1 330.3h.1M445.6 329.4h.1M446.1 326.1h.1M441.6 329.6h.1M436.9 328.9h.1M446.0 327.3h.1M443.0 328.6h.1M431.6 327.5h.1M435.3 331.0h.1M444.5 325.3h.1M441.9 326.0h.1M438.6 329.0h.1M441.1 326.8h.1M436.2 330.5h.1M441.9 329.3h.1M433.9 329.9h.1M449.9 328.3h.1M446.8 327.7h.1M440.3 326.4h.1M449.8 328.1h.1M444.2 324.9h.1M442.1 326.0h.1M443.2 328.6h.1M444.4 327.9h.1M450.0 328.2h.1M446.1 326.9h.1M434.8 326.2h.1M431.3 326.4h.1M449.0 327.0h.1M445.0 328.4h.1M441.8 329.9h.1M440.4 328.5h.1M449.3 328.0h.1M431.9 329.7h.1M433.2 326.3h.1M436.6 325.2h.1M450.5 327.1h.1M444.2 328.0h.1M442.4 327.9h.1M437.1 325.6h.1M434.8 331.4h.1M430.6 327.0h.1M433.7 328.8h.1M434.5 329.5h.1M440.3 324.6h.1M437.7 326.3h.1M449.5 329.0h.1M448.3 329.4h.1M441.4 328.4h.1M434.4 329.6h.1M436.6 325.2h.1M430.6 326.4h.1M443.4 329.6h.1M438.0 325.5h.1M448.8 328.0h.1M437.2 330.0h.1M447.9 325.9h.1M438.7 329.9h.1M443.4 328.4h.1M437.6 327.1h.1M446.8 326.6h.1M435.2 328.4h.1M434.6 330.7h.1M431.4 327.2h.1M438.0 326.1h.1M445.0 327.7h.1M440.0 329.3h.1M447.2 327.7h.1M442.2 326.9h.1M440.9 330.0h.1M440.5 327.6h.1M432.3 331.2h.1M442.1 328.4h.1M434.7 328.7h.1M432.4 328.6h.1M433.2 329.9h.1M434.7 330.7h.1M443.0 325.4h.1M436.1 326.5h.1M436.3 326.1h.1M439.1 329.5h.1M449.4 328.0h.1M435.7 327.7h.1M436.6 328.0h.1M436.5 330.9h.1M436.5 324.7h.1M436.3 325.9h.1M446.3 329.9h.1M449.7 328.7h.1M438.3 326.8h.1M446.9 330.4h.1M432.2 326.4h.1M439.7 324.5h.1M446.1 330.0h.1M433.3 331.1h.1M449.9 329.2h.1M438.3 326.2h.1M440.7 329.0h.1M449.5 327.2h.1M448.6 328.2h.1M434.3 326.3h.1M439.5 326.9h.1M445.3 325.0h.1M439.7 327.2h.1M448.9 328.4h.1M435.6 331.4h.1M449.7 328.3h.1M442.8 327.7h.1M442.9 325.5h.1M444.1 326.4h.1M435.4 326.3h.1M439.8 330.4h.1M434.4 325.9h.1M446.2 328.6h.1M437.5 329.9h.1M434.5 331.5h.1M447.6 329.4h.1M437.2 325.8h.1M448.5 330.6h.1M439.4 327.6h.1M443.4 327.7h.1M445.4 329.8h.1M440.4 324.5h.1M448.7 329.7h.1M446.1 329.3h.1M447.7 329.2h.1M441.3 325.5h.1M434.2 331.4h.1M433.7 326.9h.1M433.4 327.6h.1M440.9 329.3h.1M448.5 330.6h.1M441.6 326.0h.1M439.1 327.4h.1M433.8 331.1h.1M438.1 327.9h.1M433.9 326.7h.1M439.5 326.7h.1M439.8 328.3h.1M448.5 329.7h.1M438.3 326.5h.1M448.3 326.9h.1M432.3 331.1h.1M437.3 326.6h.1M444.9 326.3h.1M439.3 326.2h.1M431.9 327.3h.1M437.4 325.5h.1M441.6 326.7h.1M449.6 327.4h.1M447.8 347.1h.1M450.0 342.0h.1M448.8 344.3h.1M447.9 350.6h.1M449.8 345.9h.1M446.1 349.1h.1M449.4 343.1h.1M449.1 349.3h.1M448.6 341.4h.1M447.1 350.2h.1M447.6 350.6h.1M449.4 348.4h.1M447.9 342.4h.1M446.7 347.8h.1M448.2 349.1h.1M449.4 348.0h.1M446.1 347.7h.1M451.2 344.0h.1M447.4 348.4h.1M449.0 343.0h.1M446.7 344.9h.1M448.3 344.6h.1M451.5 343.6h.1M449.5 343.5h.1M445.4 348.6h.1M451.2 341.9h.1M450.8 346.8h.1M450.9 346.8h.1M448.6 341.7h.1M448.3 341.3h.1M449.3 345.4h.1M450.2 344.8h.1M450.1 343.7h.1M451.1 344.0h.1M450.0 343.3h.1M448.3 347.2h.1M446.5 350.2h.1M451.3 344.6h.1M446.9 344.2h.1M447.4 347.4h.1M449.1 343.9h.1M448.6 341.8h.1M450.1 348.3h.1M448.9 344.4h.1M450.9 341.2h.1M448.7 344.0h.1M445.3 348.5h.1M452.0 342.1h.1M448.3 350.1h.1M448.9 347.3h.1M447.1 348.9h.1M447.0 345.7h.1M446.8 347.3h.1M446.8 349.4h.1M451.2 343.1h.1M450.0 342.1h.1M448.7 346.7h.1M450.7 346.6h.1M446.8 345.1h.1M447.7 344.0h.1M446.2 350.1h.1M449.5 347.4h.1M448.0 346.7h.1M451.0 341.5h.1M448.9 343.5h.1M451.6 344.4h.1M446.1 350.2h.1M449.7 342.3h.1M446.8 345.0h.1M447.4 347.9h.1M447.0 346.4h.1M448.8 348.9h.1M449.0 344.5h.1M450.7 342.8h.1M447.5 342.6h.1M446.5 345.3h.1M449.9 346.7h.1M448.6 344.8h.1M448.5 350.6h.1M448.9 344.9h.1M447.6 342.4h.1M449.9 347.6h.1M447.4 346.1h.1M447.4 348.5h.1M446.3 345.3h.1M450.7 341.2h.1M447.4 345.0h.1M449.4 342.7h.1M448.3 342.9h.1M446.1 347.6h.1M446.1 349.9h.1M447.7 349.6h.1M449.3 343.2h.1M447.7 344.8h.1M445.9 348.6h.1M446.7 348.8h.1M450.4 341.6h.1M451.4 344.3h.1M450.1 347.6h.1M449.2 342.7h.1M450.8 341.3h.1M448.9 342.9h.1M448.5 346.2h.1M448.2 348.1h.1M449.0 348.7h.1M446.9 345.7h.1M449.4 347.3h.1M448.1 345.8h.1M449.1 349.4h.1M446.1 346.3h.1M449.5 348.3h.1M446.9 349.6h.1M448.7 341.7h.1M451.4 341.7h.1M448.0 345.9h.1M449.5 345.5h.1M445.1 348.7h.1M451.1 344.6h.1M449.3 348.2h.1M447.7 347.6h.1M448.9 343.1h.1M450.1 341.0h.1M450.6 345.6h.1M449.8 343.0h.1M451.7 343.5h.1M448.2 345.1h.1M450.6 343.0h.1M446.4 345.4h.1M448.7 347.2h.1M451.0 346.6h.1M450.7 347.6h.1M450.5 343.2h.1M449.5 347.1h.1M445.4 348.2h.1M446.1 348.5h.1M450.6 342.3h.1M450.5 344.5h.1M449.6 348.8h.1M450.1 347.6h.1M448.1 344.4h.1M449.1 349.9h.1M445.9 349.0h.1M449.0 346.7h.1M448.8 343.2h.1M446.2 349.9h.1M450.7 346.6h.1M448.1 344.0h.1M448.4 341.7h.1M448.3 350.7h.1M445.9 346.6h.1M448.9 341.3h.1M449.4 342.6h.1M446.1 349.4h.1M452.1 342.3h.1M449.2 348.1h.1M446.6 345.6h.1M447.1 345.0h.1M449.1 348.3h.1M449.2 344.2h.1M448.9 347.4h.1M448.3 350.0h.1M446.1 349.3h.1M444.2 341.8h.1M433.2 349.8h.1M444.0 344.8h.1M432.2 336.2h.1M433.7 346.6h.1M439.5 346.0h.1M432.6 350.5h.1M441.4 357.0h.1M444.3 335.2h.1M436.7 348.8h.1M444.5 350.9h.1M433.3 345.5h.1M433.6 344.4h.1M441.0 351.1h.1M432.5 347.0h.1M445.6 344.0h.1M448.0 349.7h.1M432.1 348.6h.1M446.4 336.1h.1M442.3 342.6h.1M449.5 355.5h.1M446.4 337.8h.1M448.3 346.5h.1M447.4 349.3h.1M447.4 336.9h.1M445.6 338.8h.1M448.3 341.7h.1M433.6 348.4h.1M446.5 337.0h.1M444.2 352.4h.1M438.5 350.4h.1M439.9 353.3h.1M434.0 339.8h.1M437.6 347.0h.1M444.9 354.6h.1M441.9 344.5h.1M448.7 347.7h.1M436.6 343.8h.1M436.1 351.8h.1M445.3 349.1h.1M449.2 352.0h.1M438.6 357.3h.1M439.1 352.7h.1M433.0 347.7h.1M436.2 340.1h.1M448.4 346.3h.1M449.6 356.7h.1M440.8 357.6h.1M447.4 336.9h.1M435.9 350.1h.1M443.7 334.5h.1M448.4 336.6h.1M438.3 342.9h.1M443.5 336.3h.1M445.4 349.6h.1M434.5 346.0h.1M436.7 343.2h.1M442.7 354.4h.1M436.7 342.5h.1M434.9 339.9h.1M434.9 340.8h.1M446.1 334.5h.1M440.3 351.3h.1M442.0 349.5h.1M439.9 324.9h.1M447.5 325.0h.1M438.3 323.6h.1M436.1 323.9h.1M432.6 324.8h.1M435.4 322.9h.1M440.5 324.9h.1M438.3 323.6h.1M440.4 323.2h.1M433.0 323.9h.1M432.5 324.4h.1M444.8 325.0h.1M439.9 325.0h.1" stroke="#000" stroke-width="0.8" stroke-linecap="round" fill="none"/>
<path d="M69.1 481.5h.1M69.7 478.9h.1M71.6 475.7h.1M69.1 481.0h.1M73.3 473.8h.1M73.6 473.8h.1M70.8 471.6h.1M71.2 475.4h.1M70.6 477.6h.1M74.3 471.1h.1M71.7 481.7h.1M68.5 481.3h.1M74.9 468.0h.1M71.2 478.7h.1M70.4 479.2h.1M70.7 477.4h.1M73.8 471.3h.1M69.6 477.3h.1M72.5 469.1h.1M71.4 469.3h.1M71.3 474.3h.1M75.2 464.2h.1M74.5 467.6h.1M69.2 479.4h.1M70.0 477.6h.1M71.0 480.4h.1M72.0 467.9h.1M69.1 478.2h.1M73.2 473.7h.1M68.6 480.2h.1M75.3 465.3h.1M73.7 467.6h.1M72.5 469.1h.1M72.4 468.3h.1M71.1 475.1h.1M72.0 478.9h.1M70.1 482.1h.1M70.4 473.9h.1M74.3 464.4h.1M69.3 481.7h.1M72.1 478.9h.1M71.0 471.6h.1M70.1 480.9h.1M69.5 476.1h.1M72.5 467.2h.1M71.5 478.3h.1M71.6 476.4h.1M72.6 477.1h.1M69.5 478.0h.1M73.5 466.3h.1M73.0 463.2h.1M73.3 470.8h.1M69.6 477.0h.1M72.4 477.9h.1M73.0 468.6h.1M73.3 468.1h.1M73.2 466.0h.1M70.1 479.6h.1M72.0 478.7h.1M72.3 475.8h.1M71.4 473.8h.1M74.8 466.5h.1M69.8 480.6h.1M69.7 476.1h.1M69.4 479.9h.1M73.4 466.3h.1M72.9 468.2h.1M72.5 466.0h.1M72.0 476.2h.1M71.3 471.7h.1M74.5 464.9h.1M70.0 482.0h.1M74.1 466.6h.1M74.8 467.5h.1M72.6 473.9h.1M73.9 467.1h.1M74.0 467.5h.1M70.7 478.8h.1M76.1 463.6h.1M75.4 464.0h.1M69.8 477.0h.1M73.2 463.1h.1M72.1 471.5h.1M73.7 472.6h.1M72.2 466.7h.1M73.3 464.0h.1M72.7 477.7h.1M71.2 480.2h.1M73.9 465.7h.1M70.6 473.3h.1M70.6 471.0h.1M71.4 472.7h.1M72.9 464.7h.1M73.8 471.4h.1M73.2 468.4h.1M73.5 467.1h.1M70.2 482.4h.1M72.4 471.2h.1M71.7 470.1h.1M71.1 480.5h.1M71.4 479.3h.1M71.5 481.4h.1M71.7 474.1h.1M72.2 466.6h.1M72.6 477.9h.1M72.3 464.6h.1M69.0 480.8h.1M72.1 475.7h.1M72.1 478.1h.1M75.9 463.7h.1M70.9 479.1h.1M73.1 465.2h.1M70.5 471.7h.1M71.9 477.2h.1M72.2 474.2h.1M69.1 479.5h.1M73.5 470.5h.1M74.5 469.5h.1M70.7 473.3h.1M73.9 466.7h.1M73.1 467.1h.1M73.4 469.1h.1M72.0 467.1h.1M73.2 474.2h.1M69.8 479.1h.1M72.8 472.0h.1M70.9 473.0h.1M69.4 479.2h.1M74.7 468.9h.1M71.0 473.3h.1M74.6 469.3h.1M71.9 478.9h.1M71.1 477.8h.1M70.4 480.6h.1M72.6 463.9h.1M74.0 468.9h.1M71.9 476.4h.1M70.3 481.4h.1M72.5 475.9h.1M73.4 466.8h.1M73.7 464.4h.1M71.4 479.3h.1M74.2 464.0h.1M71.1 478.5h.1M68.8 481.4h.1M69.4 479.5h.1M68.8 481.8h.1M72.0 477.8h.1M75.2 467.5h.1M73.7 473.3h.1M73.7 466.7h.1M71.2 480.8h.1M72.0 467.2h.1M69.8 479.5h.1M72.9 476.3h.1M73.6 463.6h.1M72.1 467.5h.1M73.0 467.8h.1M73.8 469.8h.1M73.2 475.5h.1M71.1 469.5h.1M72.3 473.9h.1M74.7 467.0h.1M74.1 469.2h.1M75.5 465.1h.1M74.3 465.9h.1M75.0 466.0h.1M69.9 480.4h.1M70.2 482.1h.1M71.7 474.8h.1M74.1 463.5h.1M72.4 470.3h.1M73.2 471.1h.1M72.5 465.7h.1M74.0 470.1h.1M71.0 480.3h.1M70.9 472.7h.1M73.4 465.0h.1M74.8 466.6h.1M69.8 481.1h.1M75.7 462.8h.1M71.8 471.9h.1M72.9 477.0h.1M71.4 473.7h.1M75.9 464.0h.1M73.7 464.5h.1M71.2 475.2h.1M71.6 469.4h.1M71.1 481.2h.1M72.1 466.3h.1M71.1 481.1h.1M73.2 468.1h.1M72.5 476.4h.1M70.9 479.5h.1M72.0 479.9h.1M74.5 463.1h.1M69.9 477.7h.1M73.5 473.4h.1M71.9 479.6h.1M73.3 472.9h.1M74.0 466.2h.1M70.1 477.2h.1M71.5 467.7h.1M72.6 475.6h.1M70.9 480.0h.1M73.5 466.2h.1M71.4 475.6h.1M73.8 469.9h.1M73.5 463.2h.1M71.5 467.6h.1M69.9 475.5h.1M74.4 470.6h.1M72.3 467.2h.1M72.5 478.5h.1M72.8 463.0h.1M71.4 478.0h.1M70.1 481.7h.1M72.2 471.8h.1M70.1 472.5h.1M70.7 479.4h.1M72.5 472.9h.1M72.2 477.2h.1M74.8 466.5h.1M73.2 472.9h.1M70.6 471.5h.1M71.8 479.8h.1M74.4 463.6h.1M72.3 477.6h.1M74.0 471.1h.1M72.0 466.6h.1M71.9 471.9h.1M71.3 476.0h.1M73.2 469.7h.1M74.7 468.5h.1M68.8 479.3h.1M71.3 477.4h.1M70.6 478.7h.1M68.7 481.7h.1M73.4 470.2h.1M75.3 462.7h.1M69.7 476.6h.1M73.0 463.4h.1M71.5 474.7h.1M75.7 464.6h.1M71.4 480.8h.1M71.8 476.2h.1M73.5 465.5h.1M75.7 464.7h.1M73.5 466.4h.1M71.7 468.5h.1M71.6 476.3h.1M73.2 462.5h.1M73.8 471.3h.1M73.7 466.1h.1M72.5 474.6h.1M75.5 464.0h.1M73.7 470.3h.1M74.2 468.5h.1M71.4 479.8h.1M71.3 474.0h.1M68.6 480.1h.1M70.5 475.1h.1M73.0 471.2h.1M70.5 476.5h.1M71.4 482.6h.1M71.1 473.7h.1M74.1 467.5h.1M70.2 474.5h.1M73.3 466.9h.1M72.7 474.9h.1M73.8 471.8h.1M69.7 476.0h.1M71.2 480.9h.1M75.1 467.2h.1M70.4 471.8h.1M74.7 466.9h.1M71.9 466.4h.1M74.1 467.0h.1M73.3 475.2h.1M69.7 476.2h.1M71.7 478.1h.1M70.5 472.7h.1M72.9 470.5h.1M73.4 465.1h.1M74.8 462.6h.1M74.1 468.1h.1M71.3 470.8h.1M70.4 476.5h.1M71.1 470.4h.1M70.8 476.7h.1M72.5 464.7h.1M69.2 477.5h.1M72.5 474.4h.1M71.5 478.1h.1M69.2 477.7h.1M74.0 467.3h.1M71.3 478.5h.1M70.7 475.9h.1M69.3 481.4h.1M73.2 464.0h.1M74.4 464.6h.1M70.2 474.6h.1M74.4 464.1h.1M82.4 458.4h.1M83.6 451.5h.1M88.9 456.5h.1M78.6 448.4h.1M81.1 453.0h.1M82.6 452.8h.1M81.0 456.7h.1M86.9 453.4h.1M78.0 454.4h.1M89.9 459.9h.1M91.1 451.4h.1M76.6 452.0h.1M83.3 457.2h.1M81.6 452.0h.1M83.8 452.9h.1M78.6 452.6h.1M85.0 459.0h.1M88.9 454.7h.1M80.3 457.4h.1M88.9 447.6h.1M88.9 451.6h.1M86.2 457.9h.1M92.5 449.9h.1M86.7 456.9h.1M87.3 460.1h.1M91.7 457.7h.1M89.8 455.5h.1M83.0 450.9h.1M79.4 448.3h.1M85.1 457.5h.1M86.8 454.0h.1M87.6 459.6h.1M80.3 454.3h.1M88.6 459.1h.1M81.6 446.1h.1M77.7 458.0h.1M91.2 456.3h.1M90.8 453.9h.1M82.0 450.3h.1M85.6 449.7h.1M75.9 458.4h.1M93.2 452.8h.1M80.9 456.2h.1M86.9 460.0h.1M77.0 450.0h.1M77.4 448.7h.1M84.2 448.2h.1M87.1 453.2h.1M91.8 456.5h.1M87.7 458.7h.1M86.9 454.3h.1M85.4 448.8h.1M80.2 449.7h.1M82.3 448.8h.1M85.8 448.9h.1M77.0 449.8h.1M80.7 447.3h.1M78.5 453.8h.1M76.5 450.1h.1M83.6 451.1h.1M80.9 450.8h.1M85.1 456.9h.1M83.1 449.2h.1M76.0 449.6h.1M90.2 449.9h.1M75.3 452.0h.1M75.7 451.3h.1M77.2 453.8h.1M88.8 450.6h.1M80.6 455.3h.1M91.6 448.7h.1M80.8 458.3h.1M83.2 458.5h.1M85.8 451.6h.1M90.5 457.1h.1M90.7 448.8h.1M80.2 450.6h.1M87.8 456.0h.1M74.4 453.4h.1M84.2 457.0h.1M84.9 457.5h.1M79.3 456.1h.1M87.1 452.5h.1M81.0 452.0h.1M89.1 449.0h.1M77.0 457.5h.1M82.2 456.2h.1M91.6 448.6h.1M84.2 457.3h.1M90.7 450.9h.1M91.0 457.9h.1M87.7 448.6h.1M89.3 449.6h.1M87.0 457.4h.1M85.4 459.6h.1M89.2 454.2h.1M89.7 456.7h.1M90.5 448.5h.1M76.1 450.0h.1M75.8 459.9h.1M84.9 458.0h.1M86.5 456.0h.1M82.7 450.3h.1M81.7 455.1h.1M75.4 447.0h.1M85.8 451.7h.1M90.8 459.1h.1M86.5 450.3h.1M80.1 449.7h.1M86.1 452.2h.1M82.2 454.5h.1M80.5 450.6h.1M74.5 458.8h.1M86.8 457.2h.1M75.0 448.5h.1M91.7 451.9h.1M75.1 458.5h.1M89.4 452.0h.1M81.9 456.2h.1M83.0 449.9h.1M83.6 458.5h.1M78.9 458.1h.1M78.6 457.0h.1M86.6 458.0h.1M89.7 451.8h.1M76.9 453.7h.1M81.2 456.6h.1M92.1 455.3h.1M86.7 452.8h.1M90.8 447.7h.1M81.3 449.2h.1M88.2 453.6h.1M87.2 454.6h.1M88.4 458.8h.1M84.1 459.8h.1M78.7 453.0h.1M81.6 458.9h.1M78.9 450.6h.1M75.6 448.6h.1M81.4 459.6h.1M89.9 448.2h.1M81.8 452.7h.1M85.3 456.2h.1M89.0 454.9h.1M77.4 457.5h.1M82.4 452.4h.1M81.9 452.2h.1M89.0 452.2h.1M91.0 456.1h.1M74.4 454.0h.1M83.8 453.0h.1M75.1 456.8h.1M80.1 453.3h.1M82.6 454.7h.1M80.3 453.2h.1M83.8 457.4h.1M82.1 451.1h.1M85.0 451.2h.1M78.8 451.4h.1M81.5 457.7h.1M79.6 455.4h.1M82.4 459.0h.1M87.8 454.3h.1M76.0 457.9h.1M91.6 456.0h.1M79.3 457.9h.1M89.7 447.7h.1M78.7 460.2h.1M75.9 450.9h.1M88.6 456.2h.1M85.4 454.5h.1M79.6 451.6h.1M80.5 448.7h.1M90.7 446.6h.1M87.0 447.4h.1M81.0 454.1h.1M79.5 454.1h.1M85.7 447.2h.1M78.0 447.6h.1M79.9 446.3h.1M88.5 454.6h.1M88.5 457.6h.1M75.8 459.0h.1M81.7 452.7h.1M81.6 455.9h.1M87.5 449.6h.1M82.9 448.1h.1M79.7 453.7h.1M88.5 450.7h.1M79.2 449.9h.1M86.2 447.9h.1M79.1 455.0h.1M86.5 457.6h.1M77.5 457.4h.1M89.0 447.7h.1M82.2 449.4h.1M87.6 450.1h.1M87.4 458.5h.1M84.1 451.8h.1M85.3 449.2h.1M76.8 457.2h.1M86.2 449.1h.1M84.2 449.0h.1M90.6 453.1h.1M79.1 446.8h.1M78.4 452.6h.1M81.6 453.4h.1M89.0 450.9h.1M73.9 453.2h.1M76.9 456.5h.1M93.5 452.1h.1M86.4 449.7h.1M84.8 455.3h.1M83.7 452.7h.1M78.9 449.8h.1M83.9 459.3h.1M78.7 450.4h.1M82.8 453.0h.1M80.1 451.6h.1M89.9 455.9h.1M82.1 456.2h.1M87.0 458.9h.1M78.7 451.4h.1M85.2 456.6h.1M81.1 456.2h.1M78.1 448.9h.1M79.4 449.3h.1M77.3 458.6h.1M84.8 451.9h.1M84.4 448.3h.1M90.8 449.2h.1M75.8 450.3h.1M82.7 455.5h.1M92.7 448.6h.1M81.7 449.4h.1M75.7 458.4h.1M88.0 450.4h.1M77.4 456.3h.1M88.1 458.2h.1M84.5 455.7h.1M90.0 455.7h.1M84.7 453.3h.1M86.8 456.0h.1M78.4 452.7h.1M92.2 458.0h.1M79.2 456.5h.1M90.2 447.3h.1M86.0 447.7h.1M82.8 455.3h.1M81.9 452.8h.1M76.3 455.0h.1M88.7 455.1h.1M80.0 454.4h.1M90.4 449.1h.1M92.0 454.4h.1M79.1 451.5h.1M81.7 454.1h.1M88.3 448.6h.1M90.5 459.6h.1M76.1 449.4h.1M89.2 459.5h.1M90.3 455.1h.1M85.4 450.7h.1M90.0 455.1h.1M92.1 449.6h.1M79.1 449.0h.1M90.0 454.9h.1M90.1 447.0h.1M85.0 449.7h.1M77.1 450.5h.1M91.8 453.3h.1M87.7 455.8h.1M82.5 458.8h.1M81.2 450.0h.1M91.3 457.3h.1M79.3 454.4h.1M90.2 448.0h.1M83.5 451.0h.1M88.3 459.7h.1M89.1 455.6h.1M77.1 455.9h.1M81.5 456.1h.1M77.2 458.3h.1M83.6 454.0h.1M78.5 448.2h.1M90.5 447.1h.1M87.4 455.2h.1M85.7 447.8h.1M77.9 459.2h.1M78.2 459.8h.1M83.8 453.6h.1M91.8 455.7h.1M91.2 449.6h.1M91.1 456.1h.1M81.1 452.9h.1M87.4 456.9h.1M84.2 451.8h.1M85.2 457.6h.1M86.6 449.4h.1M78.0 458.6h.1M80.5 453.9h.1M82.7 451.8h.1M79.3 451.6h.1M91.3 448.4h.1M80.3 453.1h.1M73.4 456.1h.1M87.4 452.8h.1M92.4 452.6h.1M83.2 450.4h.1M79.7 452.7h.1M91.2 451.6h.1M84.9 453.2h.1M86.3 455.3h.1M85.0 456.6h.1M89.6 447.6h.1M86.7 458.1h.1M84.9 450.4h.1M80.1 452.3h.1M88.7 454.6h.1M90.5 457.3h.1M76.0 448.1h.1M74.5 457.9h.1M78.7 453.8h.1M90.2 454.8h.1M84.9 452.1h.1M81.7 455.8h.1M93.2 457.4h.1M92.8 452.5h.1M82.0 458.5h.1M81.8 453.3h.1M85.1 451.6h.1M85.1 459.1h.1M88.6 447.3h.1M89.4 457.9h.1M80.1 453.1h.1M89.1 449.5h.1M75.5 456.6h.1M78.6 450.3h.1M83.3 452.9h.1M77.2 453.9h.1M81.0 461.0h.1M77.5 453.8h.1M88.3 451.8h.1M86.7 455.6h.1M78.5 455.4h.1M84.9 450.1h.1M81.8 453.1h.1M87.7 451.1h.1M79.5 448.0h.1M80.9 451.9h.1M89.1 447.5h.1M88.2 450.4h.1M88.0 449.7h.1M74.9 454.7h.1M75.3 451.8h.1M89.9 448.7h.1M91.1 459.0h.1M78.4 456.2h.1M84.1 455.2h.1M84.1 454.3h.1M81.0 457.2h.1M79.0 449.9h.1M79.1 457.2h.1M91.6 450.9h.1M83.3 448.0h.1M78.0 450.3h.1M76.3 457.3h.1M86.6 453.0h.1M88.8 458.9h.1M80.0 460.5h.1M89.2 460.1h.1M74.7 453.8h.1M75.4 454.3h.1M86.2 454.0h.1M76.0 449.0h.1M83.3 456.1h.1M83.1 456.4h.1M76.0 450.2h.1M90.3 451.6h.1M88.6 455.8h.1M88.4 458.3h.1M85.3 452.7h.1M77.8 458.4h.1M85.1 447.9h.1M84.3 453.3h.1M86.0 450.0h.1M87.5 456.6h.1M79.7 450.8h.1M89.4 447.1h.1M81.6 452.5h.1M79.1 456.3h.1M84.8 455.8h.1M90.0 451.0h.1M87.8 456.1h.1M76.1 449.9h.1M80.4 453.3h.1M86.9 458.0h.1M92.2 448.0h.1M85.5 448.6h.1M83.7 453.3h.1M74.4 449.0h.1M77.4 452.4h.1M88.2 453.4h.1M79.9 453.2h.1M84.2 448.1h.1M86.8 458.1h.1M85.7 452.3h.1M87.8 448.9h.1M87.2 453.6h.1M78.8 448.3h.1M85.4 449.7h.1M87.5 456.5h.1M75.7 448.0h.1M91.0 459.3h.1M86.5 449.6h.1M91.5 452.8h.1M88.2 449.1h.1M74.5 459.3h.1M77.5 459.7h.1M89.0 457.1h.1M80.6 450.6h.1M91.9 452.2h.1M91.7 453.6h.1M88.8 451.5h.1M85.1 454.7h.1M82.3 458.6h.1M90.0 449.8h.1M86.4 449.6h.1M75.6 459.6h.1M87.4 458.2h.1M80.9 449.0h.1M78.0 446.8h.1M79.5 455.1h.1M88.2 459.4h.1M87.0 458.9h.1M81.5 448.4h.1M89.3 454.6h.1M84.9 455.7h.1M82.8 457.8h.1M77.5 452.6h.1M87.3 447.2h.1M79.0 447.8h.1M84.5 452.6h.1M79.9 448.2h.1M86.5 453.7h.1M76.1 454.5h.1M80.5 453.9h.1M87.2 454.4h.1M88.8 446.3h.1M85.7 456.4h.1M80.8 447.9h.1M82.6 452.9h.1M83.5 448.8h.1M90.9 452.5h.1M80.7 457.2h.1M88.2 457.4h.1M76.0 458.8h.1M89.0 456.7h.1M77.5 453.5h.1M81.1 457.1h.1M81.1 447.1h.1M86.8 447.5h.1M80.2 458.5h.1M89.0 456.9h.1M91.9 452.6h.1M86.4 450.3h.1M75.6 458.5h.1M75.8 450.0h.1M89.7 449.4h.1M81.3 458.9h.1M83.7 456.6h.1M87.9 456.9h.1M86.9 459.1h.1M83.0 458.8h.1M81.6 452.6h.1M76.4 449.8h.1M77.6 454.6h.1M74.5 453.3h.1M80.9 451.5h.1M91.1 455.0h.1M75.8 457.6h.1M85.0 453.6h.1M85.3 449.7h.1M91.3 449.4h.1M92.4 456.5h.1M86.2 455.2h.1M85.7 448.1h.1M86.6 456.4h.1M82.9 448.3h.1M89.5 448.6h.1M89.6 449.4h.1M78.9 456.5h.1M83.9 455.9h.1M80.6 456.4h.1M77.9 458.5h.1M82.1 456.9h.1M84.0 456.7h.1M84.1 453.1h.1M81.6 454.1h.1M85.0 447.6h.1M83.8 449.0h.1M77.0 452.7h.1M85.8 452.0h.1M87.7 452.1h.1M83.6 449.5h.1M85.3 458.6h.1M79.6 452.6h.1M87.6 450.5h.1M81.2 455.6h.1M86.7 455.2h.1M87.8 455.4h.1M82.7 459.6h.1M77.1 453.3h.1M91.8 446.2h.1M88.3 449.5h.1M81.6 452.0h.1M82.0 450.1h.1M88.9 452.6h.1M86.5 453.9h.1M79.8 454.0h.1M89.1 448.1h.1M80.2 448.5h.1M88.8 447.5h.1M77.7 455.0h.1M91.2 450.9h.1M81.0 454.1h.1M90.3 451.9h.1M79.5 457.5h.1M81.6 461.4h.1M79.3 456.1h.1M83.9 448.9h.1M79.2 454.9h.1M86.1 449.6h.1M86.8 454.9h.1M89.2 455.5h.1M83.7 447.5h.1M83.0 449.2h.1M79.5 450.0h.1M83.2 453.0h.1M84.4 457.3h.1M79.5 456.4h.1M84.4 451.9h.1M77.4 452.0h.1M82.2 447.0h.1M80.6 450.2h.1M85.9 458.2h.1M88.8 452.9h.1M75.4 451.2h.1M83.3 458.2h.1M76.5 448.8h.1M82.1 456.3h.1M88.4 451.5h.1M88.5 451.5h.1M86.4 450.6h.1M88.9 451.5h.1M80.9 451.3h.1M81.8 450.4h.1M79.0 452.5h.1M79.9 452.5h.1M85.0 447.4h.1M86.8 452.0h.1M88.1 455.9h.1M83.3 456.1h.1M74.7 447.1h.1M87.1 449.8h.1M90.3 455.5h.1M91.0 454.0h.1M74.7 448.0h.1M81.4 450.5h.1M83.7 452.9h.1M86.2 457.3h.1M88.6 454.9h.1M75.6 455.5h.1M91.4 457.7h.1M82.2 458.3h.1M91.1 449.5h.1M92.3 465.2h.1M93.7 460.9h.1M93.3 465.2h.1M91.7 462.1h.1M92.1 470.7h.1M89.9 468.5h.1M90.3 468.0h.1M90.9 469.1h.1M93.2 461.8h.1M89.1 464.7h.1M91.7 466.2h.1M92.7 459.6h.1M89.2 461.9h.1M89.6 468.3h.1M91.3 462.0h.1M91.1 469.5h.1M89.9 464.2h.1M90.4 464.6h.1M89.7 460.4h.1M88.7 468.5h.1M91.1 463.7h.1M89.9 461.6h.1M89.5 461.0h.1M92.9 460.9h.1M90.2 467.8h.1M89.8 463.3h.1M89.8 465.6h.1M90.3 463.0h.1M90.6 469.7h.1M89.5 464.6h.1M91.5 464.4h.1M91.2 470.0h.1M90.9 468.4h.1M89.1 470.1h.1M92.6 468.2h.1M93.8 461.7h.1M93.6 464.7h.1M92.3 468.4h.1M92.8 461.7h.1M93.2 464.5h.1M93.8 460.5h.1M92.6 464.3h.1M90.7 465.3h.1M90.3 461.0h.1M91.3 465.9h.1M89.5 460.7h.1M93.6 465.1h.1M89.3 466.7h.1M92.8 467.8h.1M91.0 463.9h.1M92.9 461.0h.1M89.5 470.1h.1M90.1 465.1h.1M89.8 464.4h.1M92.5 459.4h.1M92.3 468.0h.1M89.6 467.9h.1M90.1 467.1h.1M91.7 464.3h.1M91.8 464.4h.1M90.7 468.5h.1M88.7 469.4h.1M92.9 466.2h.1M90.6 466.3h.1M89.2 468.4h.1M93.4 462.9h.1M90.3 461.0h.1M89.4 467.4h.1M92.3 466.3h.1M92.3 463.0h.1M90.9 468.7h.1M88.7 467.3h.1M89.6 459.4h.1M89.2 464.5h.1M91.5 467.2h.1M89.0 469.2h.1M90.9 467.2h.1M91.0 461.7h.1M90.7 460.8h.1M89.5 469.9h.1M91.3 469.0h.1M92.1 463.9h.1M93.3 463.8h.1M89.2 467.5h.1M91.3 466.5h.1M89.3 462.1h.1M92.5 464.8h.1M89.9 470.2h.1M89.0 463.8h.1M90.6 459.2h.1M89.6 460.2h.1M89.5 460.8h.1M90.9 466.5h.1M93.1 463.3h.1M90.4 466.5h.1M90.8 462.3h.1M91.5 468.3h.1M92.9 465.0h.1M91.0 469.9h.1M89.6 467.6h.1M92.3 464.7h.1M89.2 470.0h.1M92.2 462.7h.1M89.9 464.2h.1M91.0 463.1h.1M89.5 459.4h.1M92.8 462.6h.1M90.2 459.8h.1M91.7 460.3h.1M92.9 460.4h.1M93.1 463.3h.1M92.4 465.7h.1M90.4 465.4h.1M89.5 466.0h.1M92.4 461.2h.1M92.3 462.4h.1M93.3 460.5h.1M90.4 469.4h.1M93.3 460.8h.1M91.9 466.5h.1M89.4 464.4h.1M91.4 459.9h.1M91.4 468.7h.1M90.1 464.6h.1M93.6 465.9h.1M89.8 467.5h.1M90.0 462.5h.1M91.6 463.5h.1M92.9 460.7h.1M91.7 469.3h.1M89.5 463.4h.1M89.7 468.6h.1M88.7 468.5h.1M93.0 463.7h.1M91.5 466.0h.1M90.1 461.8h.1M91.0 464.5h.1M91.6 462.7h.1M91.9 470.0h.1M89.0 466.4h.1M91.7 469.5h.1M90.4 461.9h.1M91.0 461.4h.1M90.2 459.0h.1M89.9 465.5h.1M91.7 462.4h.1M91.3 462.2h.1M93.5 464.6h.1M90.0 465.3h.1M91.8 467.8h.1M92.1 469.5h.1M93.7 461.3h.1M92.4 464.9h.1M91.9 469.8h.1M93.1 462.7h.1M91.7 465.5h.1M92.2 464.3h.1M91.8 467.8h.1M92.3 467.7h.1M91.0 463.6h.1M91.3 462.1h.1M91.6 466.4h.1M91.6 470.0h.1M90.1 463.7h.1M93.3 465.1h.1M92.1 461.9h.1M91.7 469.4h.1M90.5 459.6h.1M91.3 463.4h.1M89.6 460.0h.1M90.7 464.0h.1M90.5 465.8h.1M93.5 460.3h.1M93.2 467.1h.1M90.8 462.1h.1M90.1 461.4h.1M89.7 462.9h.1M88.5 469.3h.1M89.0 468.9h.1M84.4 445.7h.1M86.7 441.8h.1M81.0 445.1h.1M91.6 445.2h.1M91.6 445.3h.1M87.0 442.8h.1M78.9 443.4h.1M84.6 444.7h.1M86.6 442.9h.1M88.8 444.0h.1M86.0 443.6h.1M88.6 441.9h.1M88.2 441.9h.1M86.1 442.5h.1M77.0 443.8h.1M87.5 446.1h.1M83.0 445.3h.1M88.6 443.0h.1M76.8 445.4h.1M83.3 445.5h.1M80.4 446.1h.1M83.2 445.0h.1M91.7 444.6h.1M88.1 444.9h.1M90.0 441.9h.1M83.3 463.3h.1M75.6 467.8h.1M83.9 464.4h.1M84.3 462.4h.1M80.3 468.4h.1M77.4 461.8h.1M82.2 462.3h.1M77.2 475.5h.1M80.3 465.5h.1M84.9 476.3h.1M75.4 469.3h.1M88.1 472.4h.1M87.4 477.7h.1M80.1 463.1h.1M86.5 461.5h.1M86.4 468.1h.1M84.9 480.1h.1M80.9 468.2h.1M80.1 469.2h.1M77.8 473.1h.1M86.2 461.0h.1M84.4 472.9h.1M88.5 474.1h.1M83.7 479.2h.1M75.1 473.9h.1M77.8 474.3h.1M75.6 462.9h.1M79.1 469.9h.1M83.0 465.2h.1M82.7 467.1h.1M83.5 462.5h.1M80.1 468.7h.1M87.8 464.0h.1M81.1 467.1h.1M78.3 461.7h.1M80.8 480.5h.1M80.4 469.2h.1M77.5 467.7h.1M83.0 474.8h.1M82.4 476.0h.1M75.2 474.6h.1M79.2 467.3h.1" stroke="#000" stroke-width="0.8" stroke-linecap="round" fill="none"/>
<path d="M195.6 470.9h.1M195.5 473.2h.1M195.1 466.7h.1M193.2 473.7h.1M195.0 463.4h.1M194.2 473.4h.1M193.2 477.1h.1M194.0 464.4h.1M194.6 480.3h.1M195.7 462.0h.1M195.4 462.1h.1M193.2 471.8h.1M194.0 475.3h.1M194.3 479.4h.1M193.4 472.6h.1M196.0 467.5h.1M192.9 477.4h.1M193.7 467.9h.1M194.7 475.5h.1M193.6 470.8h.1M196.1 466.1h.1M193.7 471.9h.1M193.6 468.5h.1M194.4 474.7h.1M193.2 470.0h.1M194.0 465.5h.1M195.4 464.3h.1M195.9 463.0h.1M193.9 475.9h.1M194.3 479.6h.1M192.4 480.8h.1M194.4 478.6h.1M194.7 467.4h.1M194.6 477.9h.1M193.9 466.4h.1M193.4 480.5h.1M193.9 466.0h.1M193.2 473.4h.1M193.2 478.3h.1M194.8 469.9h.1M195.1 466.7h.1M192.7 480.3h.1M193.7 473.4h.1M194.7 479.8h.1M194.1 462.7h.1M194.0 473.1h.1M195.4 472.5h.1M195.2 469.9h.1M195.3 465.5h.1M194.4 463.0h.1M193.5 473.5h.1M195.7 473.4h.1M195.3 465.1h.1M194.3 467.0h.1M196.0 468.3h.1M195.9 465.8h.1M195.9 463.3h.1M192.6 480.4h.1M194.3 470.3h.1M194.8 476.5h.1M194.7 463.4h.1M194.5 481.2h.1M193.9 473.6h.1M194.4 472.3h.1M194.1 480.0h.1M192.9 474.9h.1M194.5 474.1h.1M193.7 479.5h.1M194.0 466.4h.1M193.1 474.5h.1M193.0 472.3h.1M194.7 465.7h.1M195.6 463.6h.1M192.7 476.3h.1M195.0 466.8h.1M193.0 475.6h.1M196.1 462.9h.1M194.1 463.3h.1M192.9 471.7h.1M193.9 479.8h.1M194.7 464.7h.1M196.0 468.2h.1M194.7 466.0h.1M195.3 471.5h.1M195.3 462.6h.1M194.1 474.5h.1M194.6 466.4h.1M194.0 479.6h.1M194.0 463.3h.1M194.9 475.0h.1M194.0 478.8h.1M194.9 473.3h.1M192.5 478.8h.1M195.2 470.3h.1M194.7 469.1h.1M194.4 476.9h.1M193.5 479.7h.1M196.2 465.0h.1M195.7 468.3h.1M194.9 469.4h.1M196.6 462.8h.1M193.5 479.4h.1M194.0 471.1h.1M194.3 480.6h.1M194.3 464.4h.1M195.8 465.0h.1M194.3 473.8h.1M196.0 470.1h.1M193.6 466.9h.1M194.1 468.7h.1M196.0 468.0h.1M194.1 476.3h.1M194.1 467.2h.1M195.5 467.0h.1M194.4 472.0h.1M194.7 470.9h.1M193.3 473.4h.1M193.3 469.4h.1M196.3 463.8h.1M193.7 480.9h.1M196.2 466.6h.1M194.9 467.2h.1M193.6 472.9h.1M192.5 477.2h.1M194.8 469.3h.1M195.7 466.6h.1M194.7 478.6h.1M194.2 470.4h.1M194.3 466.9h.1M193.1 476.2h.1M196.3 465.4h.1M195.0 470.9h.1M193.5 480.0h.1M196.2 465.3h.1M193.9 480.9h.1M195.2 465.4h.1M195.3 470.8h.1M193.6 481.4h.1M194.2 478.6h.1M193.1 479.0h.1M195.3 468.9h.1M194.0 466.4h.1M192.8 474.2h.1M194.7 468.9h.1M195.3 470.6h.1M194.4 464.6h.1M194.9 476.9h.1M193.4 479.0h.1M194.7 473.5h.1M196.1 465.2h.1M194.7 476.6h.1M195.5 465.5h.1M192.8 479.7h.1M194.3 464.6h.1M194.5 472.8h.1M195.3 465.3h.1M194.6 472.4h.1M194.2 471.2h.1M193.9 467.8h.1M194.8 478.4h.1M193.7 481.1h.1M194.7 474.0h.1M192.3 478.7h.1M193.8 477.1h.1M193.7 478.2h.1M192.4 479.1h.1M194.3 464.8h.1M193.7 469.2h.1M194.4 474.6h.1M196.2 464.2h.1M193.6 481.4h.1M194.8 463.6h.1M196.0 465.9h.1M194.5 472.3h.1M196.1 463.2h.1M194.3 474.7h.1M192.6 478.7h.1M193.3 479.5h.1M194.2 467.1h.1M193.4 475.6h.1M192.6 476.1h.1M195.8 465.8h.1M195.3 464.4h.1M193.6 473.9h.1M194.7 474.8h.1M194.4 471.4h.1M193.0 473.5h.1M196.0 464.3h.1M195.4 471.2h.1M194.0 476.3h.1M193.6 481.4h.1M195.5 463.0h.1M193.4 474.8h.1M194.1 462.9h.1M195.6 464.2h.1M193.6 473.1h.1M194.4 477.1h.1M194.3 467.3h.1M193.1 479.6h.1M194.4 480.4h.1M192.3 480.8h.1M193.9 470.3h.1M195.5 466.3h.1M194.5 468.8h.1M196.2 463.4h.1M192.4 479.8h.1M193.5 467.0h.1M195.7 467.8h.1M193.9 467.3h.1M193.8 471.4h.1M192.7 478.7h.1M193.9 474.7h.1M194.9 476.9h.1M195.3 462.7h.1M195.6 466.4h.1M194.3 463.5h.1M194.7 470.2h.1M192.6 480.3h.1M194.1 466.8h.1M193.5 474.3h.1M194.4 468.7h.1M194.9 473.0h.1M193.4 470.3h.1M193.0 478.3h.1M196.5 464.0h.1M193.6 475.3h.1M194.3 460.3h.1M209.3 439.3h.1M193.9 460.8h.1M195.7 448.3h.1M204.7 442.7h.1M212.0 443.1h.1M209.9 438.3h.1M211.7 441.6h.1M199.9 441.8h.1M212.8 443.3h.1M194.5 453.2h.1M193.7 450.1h.1M204.5 445.1h.1M201.3 441.8h.1M207.1 438.5h.1M195.4 457.0h.1M198.8 449.8h.1M201.4 442.1h.1M195.4 458.2h.1M199.6 445.5h.1M209.3 436.9h.1M197.0 460.2h.1M208.4 442.1h.1M204.8 442.2h.1M196.7 446.9h.1M198.2 454.3h.1M205.7 437.9h.1M193.9 448.3h.1M202.3 443.3h.1M196.4 456.8h.1M205.2 438.6h.1M211.1 442.7h.1M211.0 439.8h.1M212.9 438.9h.1M196.4 459.0h.1M207.3 440.0h.1M194.1 452.8h.1M195.2 457.5h.1M206.0 437.5h.1M210.1 438.9h.1M195.9 458.8h.1M193.6 453.9h.1M197.8 445.8h.1M209.2 440.3h.1M195.2 445.0h.1M194.4 459.4h.1M204.0 438.1h.1M212.1 440.3h.1M196.3 455.8h.1M206.8 437.0h.1M212.2 440.6h.1M199.6 448.6h.1M207.9 437.1h.1M202.5 443.2h.1M212.8 438.8h.1M202.3 439.4h.1M198.2 451.9h.1M203.8 440.3h.1M198.4 450.5h.1M198.8 450.5h.1M194.6 460.9h.1M197.1 458.4h.1M197.7 455.3h.1M201.9 438.4h.1M200.5 447.0h.1M198.0 448.6h.1M199.4 440.1h.1M196.5 450.7h.1M198.4 450.7h.1M202.9 445.2h.1M206.3 444.0h.1M205.2 441.4h.1M198.3 441.8h.1M212.8 439.0h.1M213.2 438.6h.1M211.4 441.1h.1M194.9 451.2h.1M205.4 441.7h.1M194.7 457.5h.1M213.3 439.8h.1M200.9 444.6h.1M196.8 458.7h.1M193.4 456.8h.1M202.2 442.1h.1M203.0 440.6h.1M197.6 449.4h.1M199.2 447.4h.1M207.9 442.2h.1M205.8 438.5h.1M205.0 438.6h.1M199.0 449.7h.1M195.5 449.2h.1M203.6 443.4h.1M193.4 457.8h.1M203.5 442.6h.1M203.0 439.9h.1M206.5 442.3h.1M193.7 452.6h.1M198.6 450.8h.1M196.9 453.3h.1M198.5 447.3h.1M202.0 442.4h.1M199.8 447.3h.1M209.6 439.9h.1M201.3 444.4h.1M206.7 440.1h.1M212.0 436.7h.1M206.9 440.5h.1M197.4 454.2h.1M197.2 450.3h.1M193.9 459.4h.1M194.5 446.8h.1M195.8 446.0h.1M197.1 450.6h.1M195.8 448.4h.1M194.4 454.1h.1M208.6 443.2h.1M194.3 447.1h.1M196.7 460.4h.1M196.9 446.4h.1M198.5 449.9h.1M194.5 455.1h.1M204.1 441.8h.1M195.3 446.8h.1M206.0 439.3h.1M202.1 443.9h.1M212.3 441.4h.1M194.4 449.7h.1M196.1 459.8h.1M198.0 455.0h.1M206.0 441.9h.1M194.5 454.5h.1M201.7 444.5h.1M195.9 457.3h.1M209.0 441.6h.1M199.0 449.5h.1M198.6 451.9h.1M209.8 437.8h.1M203.6 439.8h.1M199.7 441.0h.1M210.8 443.9h.1M208.4 444.2h.1M196.4 460.7h.1M210.7 441.2h.1M193.9 454.2h.1M204.4 440.0h.1M194.1 450.9h.1M195.4 451.2h.1M195.1 446.4h.1M193.8 460.7h.1M208.2 437.2h.1M195.7 452.3h.1M200.7 440.5h.1M193.5 456.2h.1M196.7 457.8h.1M196.5 460.4h.1M201.2 446.8h.1M199.2 448.4h.1M205.6 444.7h.1M198.6 447.6h.1M198.8 445.1h.1M200.0 443.3h.1M194.8 456.2h.1M194.1 447.7h.1M208.3 442.1h.1M213.1 438.8h.1M199.8 446.2h.1M198.8 451.3h.1M209.0 442.6h.1M199.8 444.3h.1M195.7 459.7h.1M197.5 455.8h.1M201.2 440.9h.1M196.0 457.0h.1M199.6 445.1h.1M212.6 440.8h.1M198.1 443.5h.1M197.7 446.4h.1M207.2 440.8h.1M200.3 446.4h.1M208.6 443.9h.1M193.9 460.6h.1M208.7 442.7h.1M195.5 455.6h.1M196.5 454.0h.1M200.4 444.1h.1M204.1 444.0h.1M195.1 455.7h.1M206.7 440.1h.1M198.6 445.9h.1M206.6 444.6h.1M196.2 449.2h.1M196.2 449.2h.1M199.4 444.5h.1M204.9 445.2h.1M205.4 438.6h.1M197.0 450.2h.1M202.1 443.6h.1M198.1 453.0h.1M203.7 440.6h.1M197.9 448.4h.1M211.1 438.4h.1M204.7 440.6h.1M193.8 458.5h.1M201.3 441.2h.1M196.3 448.5h.1M195.1 450.3h.1M195.3 454.1h.1M203.6 440.2h.1M208.7 438.6h.1M196.8 446.4h.1M199.6 445.7h.1M197.1 450.3h.1M208.5 444.1h.1M212.9 437.5h.1M199.8 447.4h.1M195.3 445.5h.1M194.2 454.6h.1M193.4 451.3h.1M197.1 448.4h.1M194.5 446.5h.1M197.3 454.5h.1M198.0 448.0h.1M198.3 448.3h.1M195.1 453.7h.1M196.7 447.9h.1M195.4 449.9h.1M199.3 445.9h.1M195.7 448.2h.1M195.9 448.8h.1M201.2 445.4h.1M195.3 451.6h.1M198.7 450.3h.1M198.6 446.7h.1M198.1 447.1h.1M195.0 454.3h.1M195.7 454.8h.1M196.2 451.8h.1M200.3 445.1h.1M197.6 454.6h.1M195.5 454.7h.1M198.3 444.4h.1M197.8 453.7h.1M196.7 451.4h.1M198.9 445.6h.1M197.8 450.7h.1M196.5 454.6h.1M197.1 450.4h.1M197.2 446.3h.1M197.3 453.4h.1M195.8 451.8h.1M197.2 451.3h.1M195.1 454.7h.1M197.2 446.9h.1M196.6 454.0h.1M197.3 452.7h.1M198.7 450.3h.1M198.9 447.1h.1M196.6 454.2h.1M200.0 445.0h.1M196.5 449.2h.1M197.7 453.4h.1M196.7 453.1h.1M195.8 448.6h.1M196.1 454.0h.1M195.9 453.1h.1M198.9 444.3h.1M208.8 451.0h.1M210.9 444.3h.1M212.6 440.5h.1M212.2 442.3h.1M214.2 449.0h.1M199.5 451.1h.1M206.6 441.4h.1M203.5 449.4h.1M209.4 448.5h.1M208.8 440.8h.1M197.4 449.4h.1M201.1 443.6h.1M200.1 439.6h.1M197.3 445.6h.1M201.0 441.2h.1M204.9 445.3h.1M201.7 451.3h.1M198.8 440.4h.1M210.8 445.5h.1M197.2 444.9h.1M200.5 440.0h.1M208.6 446.3h.1M203.5 441.1h.1M207.9 450.7h.1M197.5 449.9h.1M213.3 445.2h.1M203.3 441.1h.1M211.3 439.6h.1M203.7 440.8h.1M211.4 445.1h.1M196.6 446.0h.1M201.1 439.5h.1M214.4 448.4h.1M197.4 444.6h.1M211.8 451.6h.1M203.0 443.2h.1M204.9 444.2h.1M201.3 449.0h.1M202.4 443.5h.1M214.2 448.8h.1M204.6 445.3h.1M198.6 439.2h.1M210.1 450.6h.1M199.9 450.5h.1M205.9 439.3h.1M210.5 442.3h.1M204.4 445.7h.1M197.8 439.0h.1M209.5 443.4h.1M213.1 438.5h.1M208.5 445.2h.1M209.7 466.3h.1M215.1 464.0h.1M212.8 462.4h.1M211.3 470.7h.1M210.3 462.0h.1M213.5 465.4h.1M214.0 468.9h.1M210.3 465.6h.1M212.7 467.5h.1M211.7 469.8h.1M211.1 466.0h.1M213.6 466.1h.1M208.1 466.6h.1M211.2 468.5h.1M214.8 467.6h.1M208.7 465.2h.1M212.7 469.4h.1M212.9 470.2h.1M213.4 465.2h.1M210.5 466.7h.1M208.6 464.8h.1M213.6 467.7h.1M213.4 465.4h.1M209.5 464.2h.1M210.9 469.8h.1M210.4 463.0h.1M209.7 462.6h.1M209.6 466.3h.1M208.8 467.9h.1M214.8 468.6h.1M212.0 462.3h.1M214.8 467.0h.1M214.4 467.4h.1M210.3 464.1h.1M213.1 464.3h.1M214.4 463.6h.1M212.1 467.8h.1M212.8 463.2h.1M212.8 468.7h.1M213.1 470.2h.1M209.1 466.8h.1M210.1 464.9h.1M209.3 465.4h.1M212.6 465.4h.1M209.8 466.0h.1M209.8 469.0h.1M210.0 466.6h.1M212.6 468.4h.1M211.1 461.5h.1M212.7 468.2h.1M208.9 466.4h.1M215.0 468.6h.1M211.6 464.6h.1M210.2 468.3h.1M212.6 461.8h.1M213.4 469.7h.1M208.8 466.3h.1M214.0 463.1h.1M211.6 464.2h.1M212.1 467.1h.1M212.9 467.0h.1M208.8 463.4h.1M213.4 465.7h.1M209.2 468.2h.1M211.5 464.7h.1M210.3 461.9h.1M215.1 465.4h.1M208.9 468.4h.1M215.0 468.5h.1M214.3 468.2h.1M214.8 463.6h.1M212.6 470.7h.1M210.8 465.3h.1M211.3 465.2h.1M214.5 463.6h.1M209.2 467.7h.1M211.8 468.4h.1M214.4 463.8h.1M209.5 463.4h.1M214.0 465.9h.1M212.0 464.9h.1M209.9 461.9h.1M209.0 466.6h.1M213.0 466.0h.1M213.3 462.1h.1M209.6 469.5h.1M214.0 467.0h.1M211.6 461.7h.1M212.8 465.9h.1M211.5 462.0h.1M213.5 470.2h.1M210.0 469.5h.1M210.7 468.1h.1M211.0 468.8h.1M210.5 462.4h.1M211.4 462.9h.1M211.1 470.7h.1M209.2 468.7h.1M210.7 468.8h.1M211.6 470.0h.1M211.2 464.9h.1M212.5 463.4h.1M211.6 465.1h.1M214.0 465.3h.1M213.3 465.3h.1M214.4 465.2h.1M212.2 463.3h.1M211.2 466.9h.1M211.8 464.1h.1M214.2 465.4h.1M211.3 469.7h.1M210.6 468.0h.1M214.2 466.4h.1M214.9 463.4h.1M212.5 463.1h.1M213.7 468.3h.1M209.3 467.2h.1M210.9 470.5h.1M210.9 467.6h.1M209.4 467.2h.1M215.0 464.5h.1M210.7 469.2h.1M209.9 464.7h.1M211.7 463.1h.1M211.4 464.0h.1M214.8 466.9h.1M209.8 469.6h.1M213.3 462.4h.1M212.2 467.0h.1M208.6 467.3h.1M212.6 462.0h.1M212.4 468.8h.1M209.8 466.2h.1M215.4 464.6h.1M213.0 467.0h.1M211.0 470.2h.1M213.7 466.4h.1M214.4 467.3h.1M212.9 462.2h.1M208.2 465.1h.1M209.3 463.2h.1M211.7 467.4h.1M210.8 461.7h.1M214.1 469.7h.1M212.0 466.9h.1M213.7 467.0h.1M215.2 464.5h.1M210.5 469.1h.1M211.7 466.4h.1M208.9 468.0h.1M212.2 470.7h.1M213.0 465.0h.1M211.1 470.4h.1M214.7 467.1h.1M213.4 462.9h.1M211.7 465.0h.1M213.3 470.3h.1M209.1 469.4h.1M212.5 467.5h.1M214.6 463.4h.1M213.7 464.5h.1M212.4 466.3h.1M212.4 469.4h.1M208.8 468.3h.1M209.7 463.5h.1M212.2 465.0h.1M214.6 463.3h.1M214.1 464.7h.1M209.3 464.4h.1M211.7 462.9h.1M214.7 463.1h.1M211.6 462.5h.1M208.5 467.0h.1M213.5 461.9h.1M209.8 463.3h.1M211.0 470.3h.1M213.5 466.4h.1M211.9 463.9h.1M215.0 466.5h.1M212.6 462.2h.1M212.5 461.4h.1M212.6 468.7h.1M212.8 464.4h.1M209.5 464.9h.1M215.2 464.7h.1M214.4 464.6h.1M213.9 466.4h.1M212.0 469.4h.1M213.1 462.2h.1M210.6 465.7h.1M213.7 469.2h.1M209.3 465.8h.1M209.7 469.7h.1M209.2 468.8h.1M214.4 468.7h.1M211.1 465.3h.1M213.1 462.9h.1M211.1 466.7h.1M215.1 461.4h.1M215.7 460.5h.1M215.5 462.2h.1M215.9 460.8h.1M215.8 461.4h.1M213.9 463.2h.1M215.0 463.9h.1M214.0 463.3h.1M213.2 462.7h.1M214.2 461.2h.1M215.1 459.7h.1M215.4 459.9h.1M215.0 462.8h.1M214.2 464.7h.1M214.9 462.2h.1M213.2 461.6h.1M213.7 463.8h.1M215.5 461.6h.1M215.7 460.8h.1M213.8 464.3h.1M215.4 459.5h.1M215.1 462.4h.1M214.9 460.4h.1M214.3 460.6h.1M213.1 463.9h.1M213.7 462.6h.1M214.6 462.3h.1M214.3 459.9h.1M214.8 464.8h.1M214.5 461.7h.1M214.3 459.8h.1M213.9 462.2h.1M214.0 459.7h.1M214.8 464.3h.1M206.2 470.6h.1M208.0 472.4h.1M202.6 455.3h.1M200.5 457.6h.1M203.2 455.0h.1M208.5 453.0h.1M200.1 460.8h.1M208.0 464.8h.1M207.5 467.1h.1M204.7 464.9h.1M204.2 473.5h.1M210.2 456.6h.1M198.9 476.9h.1M197.9 471.7h.1M204.3 453.3h.1M198.2 453.5h.1M200.6 454.8h.1M198.9 468.0h.1M210.2 466.7h.1M204.1 458.7h.1M200.6 469.5h.1M201.6 460.8h.1M199.6 472.5h.1M202.2 471.0h.1M199.5 458.1h.1M208.8 453.8h.1M204.8 468.0h.1M198.5 454.2h.1M208.9 466.8h.1M203.3 469.4h.1M197.5 455.9h.1M207.6 472.0h.1M206.3 462.4h.1M204.0 468.4h.1M202.8 465.5h.1M207.2 470.6h.1M210.6 464.8h.1M204.0 465.6h.1M209.6 464.2h.1M204.7 456.1h.1M200.4 468.4h.1" stroke="#000" stroke-width="0.8" stroke-linecap="round" fill="none"/>
<path d="M310.4 480.6h.1M310.3 472.7h.1M315.4 466.5h.1M315.5 465.0h.1M315.6 465.2h.1M314.5 467.1h.1M316.3 462.9h.1M313.7 461.9h.1M310.8 473.1h.1M314.6 468.4h.1M312.3 478.3h.1M312.2 468.8h.1M312.3 474.9h.1M312.5 464.0h.1M310.0 478.3h.1M312.8 478.3h.1M314.7 469.0h.1M311.5 470.1h.1M313.7 469.3h.1M313.8 469.9h.1M310.9 480.2h.1M313.0 469.6h.1M313.1 472.8h.1M309.8 477.0h.1M315.7 465.6h.1M314.0 467.1h.1M313.1 468.5h.1M311.4 473.0h.1M310.5 477.9h.1M310.9 481.2h.1M312.9 464.1h.1M313.3 472.2h.1M310.8 471.5h.1M311.4 475.4h.1M311.4 472.9h.1M311.1 468.7h.1M313.1 472.8h.1M315.4 465.7h.1M311.0 477.3h.1M310.3 478.6h.1M314.6 464.8h.1M310.1 477.0h.1M313.1 475.5h.1M313.6 466.9h.1M311.3 480.7h.1M311.9 471.0h.1M312.0 474.9h.1M314.6 463.1h.1M313.2 471.1h.1M313.9 471.5h.1M312.9 468.7h.1M313.5 465.7h.1M311.5 475.4h.1M309.3 480.3h.1M312.4 469.7h.1M314.1 472.9h.1M312.1 477.2h.1M313.0 467.2h.1M314.8 467.3h.1M313.7 462.1h.1M314.1 462.9h.1M310.8 476.4h.1M311.8 473.6h.1M312.2 466.5h.1M310.9 480.8h.1M312.5 465.0h.1M313.0 468.5h.1M312.8 475.4h.1M315.6 464.5h.1M313.1 472.3h.1M311.1 476.5h.1M312.7 465.3h.1M313.4 463.3h.1M310.4 478.1h.1M315.0 463.1h.1M312.2 478.1h.1M311.9 467.6h.1M312.4 471.6h.1M315.1 464.6h.1M315.3 462.2h.1M309.8 478.9h.1M312.7 472.4h.1M315.7 464.8h.1M313.6 473.6h.1M310.4 477.6h.1M313.9 472.1h.1M312.2 480.6h.1M312.8 478.0h.1M315.4 465.0h.1M312.5 464.8h.1M313.6 465.6h.1M311.3 480.1h.1M314.7 468.9h.1M313.7 472.7h.1M312.9 468.2h.1M311.4 474.5h.1M312.5 475.6h.1M313.5 463.1h.1M313.0 467.8h.1M314.5 469.3h.1M311.7 471.1h.1M313.0 475.7h.1M310.6 472.3h.1M312.6 463.7h.1M313.5 464.7h.1M311.6 479.3h.1M312.7 465.8h.1M315.1 468.6h.1M313.6 468.6h.1M310.3 474.6h.1M313.4 462.8h.1M314.3 470.6h.1M312.5 464.6h.1M309.4 479.2h.1M311.6 471.2h.1M309.9 476.1h.1M311.1 473.0h.1M311.9 474.7h.1M314.2 470.7h.1M311.0 478.5h.1M312.6 472.6h.1M310.5 474.6h.1M312.7 467.9h.1M312.1 476.4h.1M311.9 474.5h.1M313.2 476.4h.1M314.0 463.0h.1M312.3 479.5h.1M310.4 477.3h.1M314.8 464.4h.1M313.1 474.1h.1M315.4 467.1h.1M309.9 479.4h.1M311.6 478.5h.1M314.7 469.9h.1M311.3 477.9h.1M313.3 476.8h.1M313.6 474.4h.1M312.3 469.0h.1M311.2 477.9h.1M310.3 479.7h.1M313.3 473.8h.1M311.5 467.8h.1M314.6 465.7h.1M310.9 469.8h.1M310.2 474.6h.1M315.4 463.5h.1M310.8 474.9h.1M313.9 466.4h.1M315.3 466.8h.1M312.0 468.1h.1M312.3 470.8h.1M312.4 477.3h.1M313.3 470.3h.1M311.0 481.0h.1M313.2 462.6h.1M312.8 471.0h.1M313.9 472.2h.1M314.5 462.9h.1M314.6 464.8h.1M312.5 475.6h.1M313.8 463.1h.1M314.3 463.6h.1M310.8 477.8h.1M311.4 472.7h.1M310.5 473.3h.1M314.4 470.7h.1M312.6 468.4h.1M313.0 473.5h.1M312.1 468.1h.1M313.5 469.2h.1M313.6 471.7h.1M311.3 480.7h.1M311.6 476.0h.1M314.0 474.2h.1M312.1 467.1h.1M313.0 474.3h.1M310.3 475.9h.1M310.8 480.3h.1M311.5 467.1h.1M310.4 473.7h.1M314.3 471.4h.1M315.0 464.4h.1M311.4 468.1h.1M310.1 476.1h.1M310.3 475.4h.1M314.5 469.4h.1M313.8 465.2h.1M312.4 477.9h.1M312.7 473.2h.1M312.3 477.3h.1M309.9 478.6h.1M314.2 468.0h.1M311.4 473.2h.1M312.8 473.3h.1M312.6 464.6h.1M310.1 480.7h.1M312.6 476.9h.1M309.5 479.8h.1M309.6 480.5h.1M311.8 470.7h.1M310.8 474.7h.1M314.6 468.3h.1M312.6 477.7h.1M312.2 478.8h.1M313.3 466.9h.1M311.2 480.2h.1M313.1 470.6h.1M311.2 480.2h.1M314.8 463.3h.1M315.8 464.3h.1M311.3 480.1h.1M312.6 462.6h.1M313.8 470.7h.1M313.8 466.9h.1M315.1 465.1h.1M311.8 472.3h.1M311.3 472.1h.1M312.0 474.7h.1M312.0 469.1h.1M311.0 480.6h.1M313.5 468.0h.1M314.3 467.2h.1M311.5 467.4h.1M314.2 469.4h.1M310.5 474.6h.1M313.2 468.0h.1M311.8 473.6h.1M315.1 469.2h.1M312.7 476.5h.1M313.1 476.3h.1M312.3 468.4h.1M311.3 477.8h.1M315.4 465.4h.1M315.3 465.6h.1M313.2 470.6h.1M311.6 476.1h.1M311.0 474.3h.1M311.3 478.3h.1M315.0 467.1h.1M315.2 462.9h.1M312.1 479.1h.1M311.2 479.8h.1M310.7 472.4h.1M313.3 462.2h.1M311.2 477.1h.1M312.7 477.4h.1M312.1 473.4h.1M313.6 475.0h.1M311.6 476.0h.1M313.8 470.3h.1M311.6 479.1h.1M309.4 479.1h.1M312.3 471.6h.1M314.7 463.0h.1M313.0 477.7h.1M312.6 476.9h.1M310.6 476.6h.1M310.3 479.3h.1M311.0 479.2h.1M311.4 474.9h.1M311.3 475.5h.1M313.2 469.9h.1M309.8 477.6h.1M314.0 463.6h.1M311.1 469.8h.1M311.9 465.3h.1M312.2 478.9h.1M312.2 465.1h.1M312.8 473.4h.1M312.9 475.0h.1M312.5 463.9h.1M310.7 472.3h.1M310.1 475.1h.1M313.7 473.7h.1M312.9 469.7h.1M310.3 476.2h.1M314.6 471.9h.1M312.3 474.9h.1M312.4 478.9h.1M309.5 480.3h.1M314.2 465.4h.1M315.2 464.1h.1M311.5 475.6h.1M313.6 466.4h.1M310.5 472.9h.1M310.9 474.1h.1M310.9 475.4h.1M311.7 474.7h.1M310.2 473.9h.1M309.7 478.6h.1M314.2 465.4h.1M314.2 473.4h.1M310.5 477.2h.1M312.4 473.2h.1M312.5 471.9h.1M314.7 466.9h.1M311.4 478.0h.1M312.6 471.5h.1M311.9 466.0h.1M312.0 465.1h.1M311.0 478.2h.1M310.6 473.8h.1M312.7 467.5h.1M310.6 474.3h.1M314.4 468.7h.1M310.9 475.9h.1M312.4 475.0h.1M311.2 479.7h.1M314.0 468.9h.1M310.9 475.3h.1M309.9 479.2h.1M313.0 476.3h.1M311.3 477.6h.1M312.9 474.1h.1M314.2 462.7h.1M312.5 463.1h.1M312.5 464.7h.1M312.4 465.4h.1M312.4 463.3h.1M312.0 478.0h.1M314.5 471.9h.1M313.4 465.9h.1M316.1 463.4h.1M311.5 469.0h.1M310.6 478.4h.1M312.4 474.5h.1M311.8 477.6h.1M311.8 466.0h.1M315.3 466.0h.1M330.6 451.8h.1M317.8 445.9h.1M317.4 445.6h.1M328.1 441.2h.1M319.1 441.0h.1M323.2 439.3h.1M331.1 446.4h.1M328.1 437.3h.1M313.7 451.8h.1M316.8 443.7h.1M332.1 446.3h.1M333.0 449.1h.1M313.9 443.3h.1M312.5 453.3h.1M330.7 443.0h.1M316.8 449.0h.1M313.0 446.7h.1M317.7 439.1h.1M312.3 453.0h.1M329.7 438.8h.1M330.9 446.1h.1M315.8 442.9h.1M329.9 441.5h.1M312.3 450.9h.1M316.5 441.5h.1M312.6 450.0h.1M315.6 452.8h.1M315.4 445.6h.1M317.1 441.8h.1M310.9 455.3h.1M328.2 438.5h.1M328.6 441.0h.1M317.5 446.1h.1M321.3 443.5h.1M313.8 444.9h.1M311.2 452.0h.1M332.8 450.0h.1M333.3 449.1h.1M322.0 442.5h.1M332.3 444.5h.1M323.2 442.1h.1M332.4 450.2h.1M326.8 437.0h.1M332.3 446.1h.1M325.1 440.4h.1M325.5 442.5h.1M327.8 440.1h.1M329.8 445.4h.1M313.6 451.6h.1M327.8 440.9h.1M328.2 440.8h.1M329.6 452.1h.1M318.1 444.6h.1M328.9 439.5h.1M318.7 444.2h.1M326.6 441.8h.1M313.3 456.4h.1M333.3 444.5h.1M313.8 448.8h.1M322.6 443.1h.1M314.8 450.2h.1M331.9 449.7h.1M328.2 441.2h.1M331.9 446.2h.1M331.3 441.9h.1M331.2 447.8h.1M329.0 440.2h.1M313.5 453.3h.1M312.4 453.6h.1M330.3 441.8h.1M314.9 444.7h.1M329.3 440.5h.1M320.2 441.4h.1M333.1 445.8h.1M317.4 443.6h.1M315.3 453.3h.1M330.7 445.3h.1M313.7 443.5h.1M318.8 442.2h.1M332.7 442.3h.1M314.6 446.3h.1M332.9 449.4h.1M314.5 455.8h.1M329.3 442.5h.1M331.0 445.9h.1M327.4 438.1h.1M312.1 448.2h.1M314.4 452.5h.1M332.2 442.2h.1M328.1 441.4h.1M329.0 443.4h.1M332.9 451.0h.1M327.1 442.4h.1M329.5 449.9h.1M333.3 451.3h.1M326.1 439.6h.1M332.0 442.4h.1M314.5 450.1h.1M330.2 452.0h.1M322.1 438.8h.1M322.0 437.7h.1M330.8 438.9h.1M332.7 446.0h.1M316.6 446.1h.1M331.8 441.5h.1M330.8 445.1h.1M317.4 439.9h.1M319.4 439.8h.1M330.2 447.2h.1M318.4 444.3h.1M330.9 444.0h.1M331.0 447.5h.1M316.1 440.3h.1M316.7 444.4h.1M314.5 449.1h.1M312.7 448.1h.1M330.3 446.3h.1M313.6 444.5h.1M315.6 445.9h.1M328.4 436.7h.1M317.5 446.3h.1M315.1 445.1h.1M329.5 449.2h.1M331.8 451.6h.1M329.3 442.6h.1M331.0 443.1h.1M316.4 440.1h.1M316.4 442.0h.1M330.8 444.5h.1M323.9 441.7h.1M312.0 447.6h.1M316.5 443.8h.1M328.9 441.2h.1M317.4 440.7h.1M332.0 444.1h.1M313.5 447.0h.1M313.5 456.7h.1M312.7 450.6h.1M315.3 452.6h.1M315.8 449.3h.1M331.4 451.1h.1M329.1 442.0h.1M319.4 440.2h.1M311.3 450.3h.1M330.3 444.2h.1M328.4 441.1h.1M317.6 447.3h.1M321.2 438.4h.1M333.4 445.6h.1M331.1 450.4h.1M331.9 449.9h.1M325.6 437.9h.1M323.9 441.0h.1M319.5 441.6h.1M313.0 456.4h.1M318.1 446.0h.1M329.5 444.9h.1M316.3 441.0h.1M328.6 436.5h.1M331.0 451.2h.1M333.5 442.8h.1M314.7 443.3h.1M316.9 448.1h.1M331.9 448.9h.1M315.5 448.3h.1M329.4 440.5h.1M327.8 436.9h.1M325.3 441.1h.1M317.5 445.0h.1M333.5 450.8h.1M328.4 443.1h.1M317.9 439.6h.1M313.8 449.9h.1M319.0 441.6h.1M312.8 454.8h.1M316.6 449.6h.1M313.1 446.2h.1M315.4 450.6h.1M324.4 442.1h.1M312.0 450.3h.1M311.0 452.5h.1M312.0 453.6h.1M333.4 447.1h.1M311.2 453.0h.1M330.2 450.4h.1M333.5 449.0h.1M322.6 438.7h.1M333.2 447.2h.1M311.2 455.4h.1M330.5 441.9h.1M324.2 442.4h.1M327.3 441.6h.1M333.1 451.9h.1M315.5 450.4h.1M318.1 445.4h.1M331.5 438.8h.1M312.5 449.0h.1M332.0 448.7h.1M315.3 450.3h.1M320.0 444.5h.1M323.3 440.3h.1M320.7 445.7h.1M319.9 447.3h.1M321.5 439.7h.1M317.6 451.4h.1M326.4 443.1h.1M324.1 444.2h.1M319.6 441.6h.1M326.4 442.4h.1M327.8 437.4h.1M316.5 451.0h.1M320.4 450.0h.1M324.9 448.3h.1M327.2 452.0h.1M314.3 449.9h.1M315.0 445.9h.1M327.8 436.4h.1M327.4 451.4h.1M317.0 448.5h.1M320.4 444.5h.1M326.0 444.0h.1M322.7 446.1h.1M327.8 447.6h.1M316.9 444.8h.1M321.0 441.7h.1M319.2 437.3h.1M328.9 442.4h.1M319.3 437.5h.1M326.8 442.1h.1M321.3 450.0h.1M316.4 448.8h.1M324.9 444.1h.1M316.0 447.1h.1M315.2 442.9h.1M329.3 445.0h.1M330.0 450.2h.1M319.6 451.3h.1M319.9 440.5h.1M324.5 448.3h.1M324.7 442.1h.1M324.1 443.2h.1M318.1 442.4h.1M328.0 438.6h.1M318.7 439.6h.1M329.6 450.0h.1M330.9 445.2h.1M332.5 462.2h.1M331.0 470.6h.1M330.3 468.1h.1M330.4 467.9h.1M332.1 466.2h.1M331.4 466.6h.1M332.0 461.9h.1M331.7 462.2h.1M330.0 466.7h.1M328.5 466.1h.1M329.1 463.9h.1M329.1 468.0h.1M332.3 462.8h.1M334.1 462.5h.1M332.3 461.1h.1M330.3 469.7h.1M330.4 465.4h.1M332.1 466.6h.1M330.0 466.6h.1M333.0 461.9h.1M331.0 469.4h.1M331.0 470.5h.1M331.8 462.8h.1M333.4 463.2h.1M331.0 469.1h.1M332.1 465.9h.1M333.4 462.7h.1M331.1 470.5h.1M331.3 469.1h.1M330.3 463.9h.1M330.9 466.7h.1M329.5 467.2h.1M330.5 463.8h.1M330.3 466.0h.1M331.0 464.1h.1M328.4 468.0h.1M333.7 463.2h.1M332.2 465.1h.1M334.2 461.5h.1M330.9 466.4h.1M330.5 460.7h.1M331.4 463.8h.1M328.6 467.2h.1M330.4 465.6h.1M333.7 464.3h.1M333.1 466.0h.1M331.2 461.5h.1M329.5 462.5h.1M330.8 469.8h.1M330.0 461.5h.1M329.2 467.7h.1M331.7 468.2h.1M331.5 467.0h.1M328.6 467.4h.1M330.3 461.4h.1M330.5 463.8h.1M329.3 463.4h.1M330.4 462.4h.1M329.7 462.3h.1M332.1 463.6h.1M329.6 469.7h.1M332.2 464.4h.1M331.2 468.5h.1M331.0 468.0h.1M331.7 468.2h.1M328.9 464.4h.1M330.4 465.2h.1M329.7 461.8h.1M331.1 469.5h.1M330.8 464.0h.1M330.5 467.4h.1M328.0 468.1h.1M333.0 466.9h.1M330.9 463.9h.1M329.6 468.8h.1M334.0 461.9h.1M330.2 467.8h.1M332.6 463.5h.1M331.2 467.6h.1M333.9 463.1h.1M328.3 468.4h.1M332.6 465.7h.1M330.1 461.2h.1M331.4 468.8h.1M329.6 463.5h.1M329.9 461.0h.1M329.8 468.6h.1M330.4 461.0h.1M332.9 462.8h.1M333.4 462.7h.1M330.1 464.2h.1M329.0 469.7h.1M330.5 460.9h.1M329.1 469.8h.1M329.3 462.7h.1M331.7 464.7h.1M330.4 468.2h.1M328.7 468.2h.1M329.7 461.3h.1M331.1 467.4h.1M332.5 465.2h.1M330.6 461.0h.1M330.0 470.3h.1M333.0 464.9h.1M330.1 467.1h.1M331.0 468.0h.1M333.5 463.3h.1M331.0 463.1h.1M331.9 464.4h.1M331.2 469.5h.1M330.6 468.8h.1M330.9 466.9h.1M333.2 464.3h.1M330.6 463.3h.1M333.6 464.5h.1M331.7 464.4h.1M332.1 465.4h.1M329.3 464.0h.1M333.3 464.2h.1M331.9 468.4h.1M330.3 469.1h.1M327.8 468.1h.1M332.0 462.0h.1M329.0 465.4h.1M333.9 462.7h.1M328.5 468.4h.1M330.0 465.0h.1M330.1 460.2h.1M331.2 468.8h.1M332.1 467.6h.1M329.8 461.2h.1M328.0 468.0h.1M332.0 461.1h.1M328.0 468.4h.1M328.0 469.5h.1M330.8 464.7h.1M330.8 466.4h.1M333.7 464.8h.1M330.3 464.8h.1M328.8 468.0h.1M329.6 467.9h.1M330.0 464.2h.1M329.9 468.5h.1M332.8 463.9h.1M328.1 467.3h.1M333.5 464.0h.1M330.8 468.8h.1M333.0 463.4h.1M330.5 465.3h.1M332.0 462.3h.1M331.7 461.1h.1M331.5 464.6h.1M331.5 461.2h.1M333.7 462.3h.1M332.0 464.3h.1M329.9 467.7h.1M323.1 457.7h.1M320.6 460.8h.1M314.8 467.4h.1M324.5 456.3h.1M321.5 476.0h.1M328.5 465.0h.1M319.2 477.6h.1M324.2 471.4h.1M314.6 460.9h.1M324.3 459.7h.1M315.0 473.8h.1M323.2 468.2h.1M323.5 457.2h.1M324.7 461.2h.1M321.5 457.9h.1M321.3 468.6h.1M315.8 475.5h.1M317.8 463.5h.1M326.1 455.6h.1M328.3 476.6h.1M319.0 474.1h.1M322.1 455.8h.1M318.3 461.5h.1M318.2 463.8h.1M325.9 477.7h.1M326.5 455.7h.1M323.3 477.9h.1M327.0 469.3h.1M314.1 464.2h.1M327.6 464.3h.1M315.5 470.3h.1M314.3 462.2h.1" stroke="#000" stroke-width="0.8" stroke-linecap="round" fill="none"/>
<path d="M431.3 475.5h.1M431.4 465.5h.1M428.6 474.5h.1M432.9 465.6h.1M431.8 474.8h.1M433.1 468.2h.1M430.0 481.2h.1M432.4 470.9h.1M430.4 472.5h.1M431.0 465.6h.1M430.8 469.2h.1M433.7 468.9h.1M428.2 477.4h.1M430.8 464.0h.1M434.8 465.8h.1M428.9 470.6h.1M432.2 468.5h.1M431.8 476.2h.1M430.3 475.8h.1M432.6 470.8h.1M428.8 472.1h.1M430.4 478.8h.1M433.5 464.4h.1M432.8 467.5h.1M429.1 477.2h.1M433.8 463.3h.1M432.8 470.4h.1M432.7 472.4h.1M430.8 463.9h.1M430.8 479.3h.1M430.2 479.5h.1M433.7 462.4h.1M430.4 478.9h.1M432.1 472.7h.1M433.7 462.4h.1M431.9 475.3h.1M435.0 463.8h.1M430.9 478.2h.1M431.6 463.7h.1M428.9 481.0h.1M433.2 471.8h.1M433.6 463.2h.1M430.8 465.6h.1M433.6 468.3h.1M429.5 471.5h.1M434.8 466.8h.1M433.0 467.5h.1M431.3 478.3h.1M431.1 467.0h.1M434.6 466.0h.1M430.9 467.8h.1M428.5 476.2h.1M431.8 473.8h.1M431.6 477.3h.1M432.5 474.3h.1M429.1 472.9h.1M432.9 465.7h.1M433.2 466.9h.1M429.2 477.6h.1M433.8 465.9h.1M431.4 467.4h.1M432.0 475.0h.1M431.9 469.9h.1M429.4 479.0h.1M429.8 477.9h.1M429.9 475.9h.1M432.3 466.2h.1M430.6 477.7h.1M429.6 475.6h.1M428.9 470.6h.1M431.6 473.3h.1M429.8 477.0h.1M433.1 471.4h.1M431.4 461.3h.1M432.5 471.6h.1M431.9 464.2h.1M434.3 465.4h.1M429.2 478.0h.1M429.4 471.1h.1M431.6 472.8h.1M431.2 465.0h.1M433.7 468.0h.1M432.0 469.0h.1M434.8 464.3h.1M430.2 479.1h.1M429.5 478.8h.1M431.6 471.8h.1M429.5 467.9h.1M429.7 467.8h.1M431.6 464.2h.1M429.9 477.7h.1M430.8 479.3h.1M428.4 473.9h.1M430.7 467.4h.1M428.7 475.0h.1M433.9 467.5h.1M433.3 471.0h.1M430.5 475.6h.1M430.0 470.0h.1M432.6 472.5h.1M432.0 464.6h.1M433.2 465.8h.1M431.2 476.8h.1M429.4 476.8h.1M431.4 464.4h.1M430.7 464.2h.1M435.0 465.1h.1M428.6 473.4h.1M430.7 478.8h.1M433.6 471.1h.1M433.0 462.7h.1M429.7 469.4h.1M433.0 468.1h.1M428.5 480.4h.1M430.5 473.1h.1M429.3 477.6h.1M430.2 479.7h.1M430.9 477.0h.1M430.8 475.6h.1M431.2 471.5h.1M432.9 469.6h.1M429.8 470.3h.1M429.3 473.9h.1M428.7 477.9h.1M429.7 471.2h.1M432.8 463.8h.1M431.3 463.3h.1M435.2 464.1h.1M430.9 463.4h.1M433.7 470.5h.1M432.7 471.4h.1M430.2 476.9h.1M432.4 466.8h.1M433.1 470.2h.1M430.0 473.2h.1M430.3 480.1h.1M429.7 477.6h.1M433.6 468.2h.1M431.3 471.2h.1M434.9 466.8h.1M430.0 478.9h.1M432.7 468.2h.1M431.7 463.8h.1M430.7 480.8h.1M431.4 461.8h.1M428.1 479.7h.1M431.4 466.9h.1M433.7 471.3h.1M429.4 474.9h.1M428.7 473.9h.1M428.8 480.3h.1M433.7 466.9h.1M430.1 480.8h.1M431.4 462.1h.1M433.1 462.4h.1M432.4 464.9h.1M428.6 478.4h.1M429.9 468.7h.1M431.7 465.2h.1M430.2 473.2h.1M431.3 473.0h.1M433.3 466.0h.1M429.6 480.8h.1M430.3 473.8h.1M431.2 464.4h.1M430.6 465.1h.1M431.5 462.8h.1M434.1 464.7h.1M428.9 477.0h.1M433.1 463.3h.1M429.2 476.1h.1M430.2 470.2h.1M432.8 470.3h.1M433.5 468.5h.1M431.9 469.2h.1M430.5 476.8h.1M433.6 464.6h.1M430.7 478.4h.1M429.7 466.1h.1M428.6 480.9h.1M434.5 464.3h.1M435.4 464.9h.1M431.0 476.2h.1M433.0 470.8h.1M429.6 471.4h.1M431.0 462.6h.1M432.1 475.8h.1M428.7 479.5h.1M429.7 473.2h.1M430.9 475.2h.1M430.3 476.0h.1M434.2 466.6h.1M429.5 473.4h.1M428.7 478.2h.1M428.4 477.2h.1M434.4 464.8h.1M431.7 472.3h.1M430.6 477.3h.1M430.0 471.6h.1M428.7 478.8h.1M432.2 472.1h.1M431.2 476.7h.1M429.7 473.5h.1M432.4 463.0h.1M432.5 472.1h.1M433.8 467.3h.1M429.1 474.5h.1M429.1 477.2h.1M431.6 474.6h.1M430.8 477.1h.1M430.6 471.1h.1M433.6 468.5h.1M430.9 476.1h.1M431.7 467.5h.1M431.2 471.2h.1M431.0 465.4h.1M431.9 466.3h.1M431.5 462.5h.1M432.1 467.9h.1M428.2 479.6h.1M428.4 474.0h.1M432.8 473.9h.1M431.1 463.8h.1M432.0 464.2h.1M431.4 477.2h.1M431.0 463.3h.1M431.1 473.2h.1M431.9 468.1h.1M432.4 468.3h.1M431.6 472.9h.1M431.4 470.3h.1M433.0 472.4h.1M432.8 468.1h.1M431.0 464.7h.1M431.8 470.7h.1M430.8 463.6h.1M430.0 471.1h.1M430.5 480.3h.1M429.3 469.1h.1M429.8 474.7h.1M430.0 466.3h.1M431.8 475.9h.1M429.4 468.1h.1M430.2 477.4h.1M431.6 468.6h.1M433.6 470.0h.1M429.6 467.2h.1M428.0 480.2h.1M432.5 472.7h.1M430.6 466.3h.1M430.7 472.4h.1M432.0 475.8h.1M431.4 466.3h.1M430.4 467.7h.1M432.4 472.9h.1M434.3 465.3h.1M434.7 468.6h.1M434.9 462.4h.1M432.4 468.5h.1M432.0 462.2h.1M433.6 467.3h.1M431.2 472.5h.1M429.0 480.9h.1M432.7 467.0h.1M429.3 472.5h.1M435.0 465.1h.1M432.4 463.9h.1M434.9 465.7h.1M432.8 470.8h.1M432.6 469.1h.1M430.6 468.5h.1M431.9 472.7h.1M430.2 473.2h.1M435.4 462.9h.1M428.8 481.0h.1M434.7 464.9h.1M428.2 478.3h.1M430.6 479.1h.1M432.4 466.3h.1M429.5 480.9h.1M432.5 468.5h.1M431.9 476.8h.1M433.5 464.8h.1M433.7 470.7h.1M430.8 476.8h.1M431.3 469.8h.1M434.4 467.6h.1M434.1 465.1h.1M429.8 480.8h.1M435.2 463.9h.1M431.1 464.8h.1M428.9 476.4h.1M432.2 469.6h.1M430.5 470.8h.1M429.8 469.0h.1M429.3 476.2h.1M431.0 462.8h.1M433.9 467.9h.1M429.6 469.7h.1M431.1 462.3h.1M430.8 474.0h.1M430.2 470.5h.1M429.9 468.5h.1M431.8 469.2h.1M430.1 474.6h.1M431.0 469.5h.1M431.6 473.0h.1M430.4 466.7h.1M430.5 474.1h.1M432.9 472.9h.1M430.9 469.6h.1M430.7 477.7h.1M430.8 470.4h.1M431.7 463.9h.1M431.5 467.6h.1M429.1 471.0h.1M429.0 478.5h.1M430.5 469.8h.1M432.3 473.5h.1M432.2 474.2h.1M433.6 467.6h.1M433.5 462.4h.1M429.2 470.6h.1M430.6 477.6h.1M432.0 468.0h.1M432.4 472.7h.1M432.7 464.7h.1M430.0 465.9h.1M430.6 474.2h.1M430.8 464.7h.1M433.3 471.2h.1M429.7 466.9h.1M429.2 479.9h.1M428.8 475.4h.1M433.1 464.7h.1M428.1 480.5h.1M434.6 468.4h.1M433.9 463.5h.1M434.5 465.3h.1M429.4 478.1h.1M429.2 478.5h.1M430.2 473.7h.1M428.1 479.7h.1M432.7 469.5h.1M432.1 468.5h.1M432.6 468.1h.1M431.7 465.0h.1M428.6 474.6h.1M429.7 480.9h.1M431.0 477.9h.1M432.2 465.2h.1M429.5 478.2h.1M428.9 478.9h.1M430.5 467.5h.1M432.9 469.6h.1M433.4 463.5h.1M435.1 466.2h.1M433.5 464.4h.1M431.5 463.3h.1M428.6 480.7h.1M434.2 463.1h.1M429.6 475.9h.1M430.2 479.4h.1M433.8 464.0h.1M431.5 475.6h.1M430.1 478.4h.1M431.5 470.2h.1M432.7 465.2h.1M429.5 474.6h.1M431.4 464.2h.1M435.0 462.9h.1M432.2 471.0h.1M430.4 476.7h.1M431.5 475.6h.1M428.5 477.6h.1M431.4 472.7h.1M432.2 473.8h.1M430.6 475.5h.1M432.4 473.7h.1M428.8 475.7h.1M435.1 465.2h.1M432.2 463.2h.1M431.8 472.9h.1M431.1 479.1h.1M430.6 475.5h.1M430.8 467.6h.1M435.7 462.9h.1M431.1 466.2h.1M430.1 480.0h.1M430.9 474.4h.1M429.5 479.8h.1M432.9 470.6h.1M432.6 473.9h.1M433.0 473.0h.1M431.4 475.8h.1M430.5 479.6h.1M430.1 465.4h.1M430.0 474.3h.1M429.6 479.8h.1M429.9 477.2h.1M430.6 480.4h.1M435.0 464.8h.1M429.8 477.8h.1M435.3 463.6h.1M432.8 462.3h.1M430.6 478.9h.1M430.6 465.4h.1M431.8 477.3h.1M431.9 467.3h.1M435.7 463.2h.1M429.9 471.9h.1M429.2 476.8h.1M430.7 468.1h.1M430.6 469.1h.1M428.6 476.1h.1M432.8 471.0h.1M431.3 471.3h.1M430.9 473.2h.1M429.6 473.7h.1M433.1 463.4h.1M431.7 468.3h.1M428.6 472.7h.1M430.4 470.0h.1M430.0 468.6h.1M431.9 464.1h.1M430.6 472.3h.1M435.1 466.1h.1M429.4 478.0h.1M434.3 467.5h.1M433.4 467.9h.1M430.5 481.1h.1M433.5 469.1h.1M430.8 479.9h.1M431.4 463.2h.1M432.9 470.7h.1M429.3 478.1h.1M436.4 442.8h.1M433.9 452.3h.1M431.1 450.6h.1M445.6 440.8h.1M434.5 448.4h.1M443.7 437.2h.1M433.8 443.0h.1M443.1 436.5h.1M443.2 438.7h.1M431.1 448.0h.1M448.9 442.7h.1M446.6 437.4h.1M440.8 438.0h.1M443.5 441.3h.1M443.9 437.9h.1M434.3 443.3h.1M442.8 439.5h.1M432.7 450.5h.1M451.2 445.5h.1M446.1 439.1h.1M448.6 437.6h.1M447.3 439.7h.1M451.2 440.5h.1M437.1 439.8h.1M432.8 446.6h.1M430.8 454.7h.1M440.2 441.7h.1M433.7 450.7h.1M436.9 439.2h.1M433.6 454.1h.1M448.2 440.7h.1M433.2 442.7h.1M434.3 445.3h.1M449.5 439.5h.1M435.9 442.3h.1M436.8 438.6h.1M445.1 441.0h.1M431.5 454.7h.1M435.5 445.7h.1M450.2 445.8h.1M445.9 440.9h.1M431.5 451.2h.1M449.5 444.2h.1M451.1 443.4h.1M444.8 441.1h.1M430.9 455.3h.1M435.1 439.6h.1M435.6 442.7h.1M433.6 449.8h.1M442.4 438.7h.1M435.2 446.5h.1M445.1 440.0h.1M432.2 446.6h.1M450.7 442.8h.1M436.1 447.5h.1M431.8 455.5h.1M448.4 440.5h.1M432.5 447.9h.1M430.7 454.2h.1M448.7 444.2h.1M434.4 444.6h.1M445.5 435.9h.1M433.1 452.2h.1M449.7 439.6h.1M448.6 440.3h.1M436.0 447.3h.1M434.1 447.8h.1M430.8 450.9h.1M441.4 437.2h.1M437.0 443.7h.1M449.2 442.1h.1M436.9 444.0h.1M439.3 440.6h.1M436.1 442.9h.1M431.8 445.6h.1M431.7 453.8h.1M442.2 439.6h.1M433.1 445.3h.1M452.2 442.6h.1M444.7 440.9h.1M434.0 443.1h.1M441.3 438.9h.1M444.4 443.4h.1M440.8 445.1h.1M448.8 448.9h.1M435.7 439.2h.1M448.9 454.3h.1M448.3 455.9h.1M441.9 439.2h.1M439.3 439.6h.1M448.2 452.6h.1M440.8 443.3h.1M450.2 442.1h.1M434.0 441.9h.1M433.0 440.3h.1M434.4 455.1h.1M447.8 450.2h.1M439.7 440.9h.1M440.4 457.0h.1M444.4 443.3h.1M435.1 452.1h.1M439.8 451.5h.1M443.1 445.5h.1M431.5 450.3h.1M439.7 442.3h.1M442.7 451.5h.1M439.4 440.7h.1M435.0 439.1h.1M432.3 444.3h.1M450.0 451.0h.1M446.9 451.1h.1M442.1 442.2h.1M445.6 437.2h.1M431.5 447.8h.1M451.0 451.9h.1M437.8 437.3h.1M439.9 439.4h.1M432.3 445.9h.1M451.1 463.8h.1M448.9 464.4h.1M451.3 463.7h.1M449.1 467.0h.1M446.4 466.1h.1M448.5 468.7h.1M449.8 462.2h.1M449.4 462.8h.1M448.5 468.1h.1M446.6 465.5h.1M448.2 466.4h.1M451.4 462.6h.1M446.4 467.8h.1M449.4 464.1h.1M451.0 462.7h.1M450.3 462.9h.1M449.5 462.9h.1M448.4 466.2h.1M449.3 464.8h.1M451.3 464.6h.1M451.1 463.6h.1M449.7 463.9h.1M446.2 466.2h.1M450.5 464.9h.1M450.9 462.3h.1M447.3 468.4h.1M448.0 468.4h.1M447.7 463.9h.1M447.4 465.7h.1M444.8 466.8h.1M435.4 475.9h.1M439.3 476.8h.1M446.5 464.4h.1M442.5 478.4h.1M435.5 472.4h.1M447.5 477.5h.1M448.6 476.2h.1M446.0 470.8h.1M443.1 477.2h.1M435.8 467.9h.1M439.0 467.8h.1M440.5 472.8h.1M442.7 468.8h.1M442.2 465.8h.1M435.4 476.5h.1M443.2 476.6h.1M446.8 463.5h.1M436.6 474.7h.1M434.2 478.5h.1M439.7 476.6h.1M439.6 464.6h.1M448.7 463.6h.1" stroke="#000" stroke-width="0.8" stroke-linecap="round" fill="none"/>
</g>
</svg></body></html>
